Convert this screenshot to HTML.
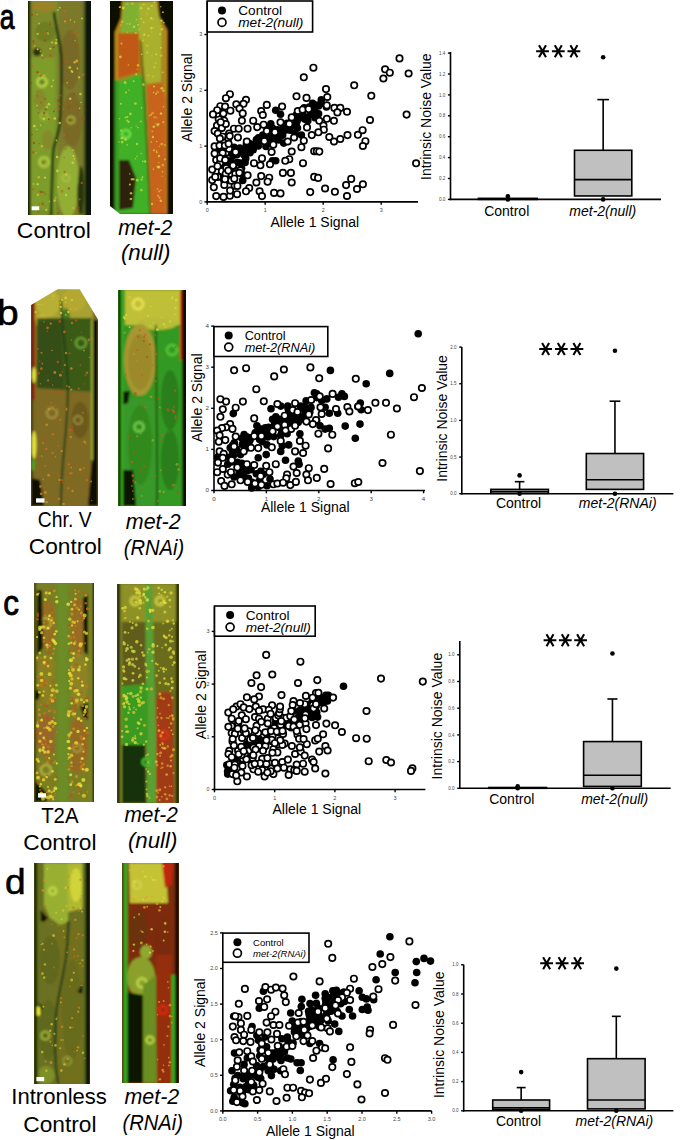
<!DOCTYPE html>
<html><head><meta charset="utf-8"><style>
html,body{margin:0;padding:0;background:#fff;}
body{width:685px;height:1140px;position:relative;overflow:hidden;font-family:"Liberation Sans", sans-serif;}
svg{position:absolute;left:0;top:0;}
svg text{font-family:"Liberation Sans", sans-serif;}
</style></head><body>
<svg width="685" height="1140" viewBox="0 0 685 1140" style="position:absolute;left:0;top:0"><defs><filter id="fs" x="-10%" y="-10%" width="120%" height="120%"><feGaussianBlur stdDeviation="0.45"/></filter><clipPath id="c1"><polygon points="28,1 91,1 91,215 28,215"/></clipPath><filter id="f1" x="-10%" y="-10%" width="120%" height="120%"><feGaussianBlur stdDeviation="1.2"/></filter><clipPath id="c2"><polygon points="110,1 173,1 173,214 120,214 110,206"/></clipPath><filter id="f2" x="-10%" y="-10%" width="120%" height="120%"><feGaussianBlur stdDeviation="1.2"/></filter><clipPath id="c3"><polygon points="31,305 57.6,289.3 79.7,289.3 98,319.5 98,506 31,506"/></clipPath><filter id="f3" x="-10%" y="-10%" width="120%" height="120%"><feGaussianBlur stdDeviation="1.2"/></filter><clipPath id="c4"><polygon points="118,290 186,290 186,506 118,506"/></clipPath><filter id="f4" x="-10%" y="-10%" width="120%" height="120%"><feGaussianBlur stdDeviation="1.2"/></filter><clipPath id="c5"><polygon points="34,583 94,583 94,802 34,802"/></clipPath><filter id="f5" x="-10%" y="-10%" width="120%" height="120%"><feGaussianBlur stdDeviation="1.2"/></filter><clipPath id="c6"><polygon points="117,584 179,584 179,803 117,803"/></clipPath><filter id="f6" x="-10%" y="-10%" width="120%" height="120%"><feGaussianBlur stdDeviation="1.2"/></filter><clipPath id="c7"><polygon points="34,863 90,863 90,1084 34,1084"/></clipPath><filter id="f7" x="-10%" y="-10%" width="120%" height="120%"><feGaussianBlur stdDeviation="1.2"/></filter><clipPath id="c8"><polygon points="122,863 179,863 179,1083 122,1083"/></clipPath><filter id="f8" x="-10%" y="-10%" width="120%" height="120%"><feGaussianBlur stdDeviation="1.2"/></filter></defs><g clip-path="url(#c1)"><g filter="url(#f1)"><rect x="20" y="-5" width="80" height="230" fill="#76902a" opacity="1"/><rect x="31" y="0" width="25" height="60" fill="#7e8a2a" opacity="1"/><ellipse cx="44" cy="6" rx="12" ry="6" fill="#9a8228" opacity="1"/><ellipse cx="45" cy="32" rx="10" ry="10" fill="#6e7e24" opacity="1"/><ellipse cx="37" cy="52" rx="4" ry="4" fill="#2a3410" opacity="1"/><rect x="58" y="0" width="27" height="215" fill="#7c7a2c" opacity="1"/><ellipse cx="70" cy="60" rx="10" ry="30" fill="#786a28" opacity="1"/><ellipse cx="72" cy="120" rx="10" ry="28" fill="#7a6a28" opacity="1"/><rect x="31" y="58" width="24" height="152" fill="#7e9c2a" opacity="1"/><ellipse cx="40" cy="100" rx="6" ry="10" fill="#8a7a28" opacity="0.5"/><ellipse cx="48" cy="140" rx="6" ry="10" fill="#8a7a28" opacity="0.5"/><circle cx="42" cy="82" r="4.5" fill="none" stroke="#b0d040" stroke-width="3" opacity="1"/><ellipse cx="42" cy="82" rx="2.5" ry="2.5" fill="#6c8028" opacity="1"/><circle cx="44" cy="116" r="3.5" fill="none" stroke="#98b838" stroke-width="2" opacity="1"/><circle cx="44" cy="162" r="4.5" fill="none" stroke="#a8c840" stroke-width="3" opacity="1"/><ellipse cx="68" cy="182" rx="11" ry="36" fill="#92ae34" opacity="1"/><circle cx="66" cy="178" r="3.5" fill="none" stroke="#a8c040" stroke-width="2" opacity="1"/><ellipse cx="81" cy="195" rx="4" ry="20" fill="#3a4214" opacity="1"/><rect x="20" y="-5" width="10" height="230" fill="#141a06" opacity="1"/><rect x="29.5" y="-5" width="1.5" height="230" fill="#3a4a10" opacity="1"/><rect x="85" y="-5" width="12" height="230" fill="#10160a" opacity="1"/><rect x="83" y="-5" width="2" height="230" fill="#50641a" opacity="1"/><path d="M54,12 C56,30 61,45 61.2,57 C61.5,75 61.5,105 59.5,125 C58,135 55,142 53.3,150 C52,170 52,195 51,216" fill="none" stroke="#183010" stroke-width="2.6" opacity="1"/><circle cx="71" cy="120" r="3.5" fill="none" stroke="#a0b038" stroke-width="2" opacity="1"/><ellipse cx="81" cy="190" rx="3" ry="24" fill="#2a3410" opacity="1"/></g><g filter="url(#fs)"><circle cx="48.2" cy="34.0" r="0.7" fill="#c8e040" opacity="0.75"/><circle cx="74.5" cy="22.0" r="0.7" fill="#c8e040" opacity="0.75"/><circle cx="57.9" cy="9.9" r="1.0" fill="#d8c030" opacity="0.75"/><circle cx="43.8" cy="118.8" r="1.3" fill="#e0d840" opacity="0.75"/><circle cx="37.6" cy="49.3" r="1.1" fill="#c8e040" opacity="0.75"/><circle cx="34.3" cy="126.1" r="1.4" fill="#e0d840" opacity="0.75"/><circle cx="33.5" cy="184.0" r="1.0" fill="#d8c030" opacity="0.75"/><circle cx="59.7" cy="123.0" r="1.3" fill="#c8e040" opacity="0.75"/><circle cx="40.6" cy="125.3" r="0.8" fill="#c8e040" opacity="0.75"/><circle cx="36.2" cy="153.0" r="0.7" fill="#c8e040" opacity="0.75"/><circle cx="41.9" cy="146.2" r="1.2" fill="#d8c030" opacity="0.75"/><circle cx="55.7" cy="197.8" r="0.9" fill="#d8c030" opacity="0.75"/><circle cx="73.1" cy="150.2" r="0.8" fill="#e0d840" opacity="0.75"/><circle cx="46.9" cy="107.0" r="1.2" fill="#d8c030" opacity="0.75"/><circle cx="46.3" cy="209.8" r="1.1" fill="#e0d840" opacity="0.75"/><circle cx="39.7" cy="74.5" r="1.0" fill="#d8c030" opacity="0.75"/><circle cx="82.0" cy="18.5" r="1.1" fill="#c8e040" opacity="0.75"/><circle cx="77.4" cy="68.5" r="0.9" fill="#c8e040" opacity="0.75"/><circle cx="57.3" cy="170.9" r="1.3" fill="#e0d840" opacity="0.75"/><circle cx="81.1" cy="102.5" r="0.7" fill="#c8e040" opacity="0.75"/><circle cx="69.8" cy="67.6" r="1.4" fill="#c8e040" opacity="0.75"/><circle cx="74.6" cy="62.3" r="1.3" fill="#d8c030" opacity="0.75"/><circle cx="49.4" cy="201.4" r="0.8" fill="#d8c030" opacity="0.75"/><circle cx="37.2" cy="14.5" r="0.8" fill="#d8c030" opacity="0.75"/><circle cx="44.1" cy="84.9" r="0.8" fill="#d8c030" opacity="0.75"/><circle cx="54.8" cy="118.5" r="1.3" fill="#e0d840" opacity="0.75"/><circle cx="76.8" cy="61.0" r="1.4" fill="#d8c030" opacity="0.75"/><circle cx="67.2" cy="82.7" r="0.8" fill="#e0d840" opacity="0.75"/><circle cx="40.3" cy="51.2" r="0.7" fill="#e0d840" opacity="0.75"/><circle cx="75.0" cy="40.7" r="0.7" fill="#d8c030" opacity="0.75"/><circle cx="53.2" cy="80.3" r="0.9" fill="#c8e040" opacity="0.75"/><circle cx="37.7" cy="184.2" r="1.2" fill="#c8e040" opacity="0.75"/><circle cx="70.2" cy="98.8" r="1.3" fill="#c8e040" opacity="0.75"/><circle cx="51.8" cy="86.6" r="1.0" fill="#e0d840" opacity="0.75"/><circle cx="52.2" cy="42.4" r="1.0" fill="#e0d840" opacity="0.75"/><circle cx="36.8" cy="129.4" r="0.7" fill="#e0d840" opacity="0.75"/><circle cx="39.0" cy="23.5" r="1.1" fill="#d8c030" opacity="0.75"/><circle cx="34.7" cy="46.1" r="0.8" fill="#d8c030" opacity="0.75"/><circle cx="44.4" cy="75.6" r="1.0" fill="#d8c030" opacity="0.75"/><circle cx="37.1" cy="105.5" r="1.0" fill="#d8c030" opacity="0.75"/><circle cx="47.5" cy="32.6" r="0.9" fill="#c8e040" opacity="0.75"/><circle cx="45.0" cy="177.7" r="1.1" fill="#e0d840" opacity="0.75"/><circle cx="41.9" cy="203.8" r="0.8" fill="#d8c030" opacity="0.75"/><circle cx="59.8" cy="7.7" r="0.9" fill="#c8e040" opacity="0.75"/><circle cx="65.1" cy="21.3" r="1.1" fill="#d8c030" opacity="0.75"/><circle cx="79.1" cy="77.4" r="1.1" fill="#e0d840" opacity="0.75"/><circle cx="72.3" cy="71.9" r="1.1" fill="#e0d840" opacity="0.75"/><circle cx="72.8" cy="162.8" r="1.3" fill="#e0d840" opacity="0.75"/><circle cx="74.4" cy="158.9" r="0.8" fill="#e0d840" opacity="0.75"/><circle cx="57.1" cy="157.0" r="1.3" fill="#e0d840" opacity="0.75"/><circle cx="56.0" cy="43.1" r="1.4" fill="#c8e040" opacity="0.75"/><circle cx="54.7" cy="200.6" r="1.4" fill="#d8c030" opacity="0.75"/><circle cx="50.3" cy="48.7" r="1.0" fill="#e0d840" opacity="0.75"/><circle cx="48.9" cy="104.3" r="1.3" fill="#c8e040" opacity="0.75"/><circle cx="56.4" cy="140.4" r="0.8" fill="#c8e040" opacity="0.75"/><circle cx="66.0" cy="194.9" r="1.2" fill="#c8e040" opacity="0.75"/><circle cx="56.3" cy="39.8" r="0.9" fill="#c8e040" opacity="0.75"/><circle cx="73.4" cy="208.0" r="1.0" fill="#d8c030" opacity="0.75"/><circle cx="70.4" cy="20.0" r="0.8" fill="#e0d840" opacity="0.75"/><circle cx="37.7" cy="34.0" r="1.3" fill="#d8c030" opacity="0.75"/><circle cx="38.7" cy="177.2" r="1.2" fill="#d8c030" opacity="0.75"/><circle cx="49.6" cy="118.3" r="0.7" fill="#e0d840" opacity="0.75"/><circle cx="73.4" cy="156.0" r="1.1" fill="#e0d840" opacity="0.75"/><circle cx="80.5" cy="94.0" r="1.3" fill="#e0d840" opacity="0.75"/><circle cx="42.2" cy="55.4" r="1.1" fill="#d8c030" opacity="0.75"/><circle cx="71.5" cy="71.1" r="1.0" fill="#c8e040" opacity="0.75"/><circle cx="37.9" cy="194.9" r="1.3" fill="#d8c030" opacity="0.75"/><circle cx="66.1" cy="174.8" r="1.0" fill="#c8e040" opacity="0.75"/><circle cx="79.6" cy="108.3" r="0.8" fill="#c8e040" opacity="0.75"/><circle cx="58.1" cy="187.0" r="1.1" fill="#e0d840" opacity="0.75"/><circle cx="72.1" cy="33.8" r="1.0" fill="#b05a1c" opacity="0.75"/><circle cx="69.4" cy="120.0" r="1.2" fill="#a04818" opacity="0.75"/><circle cx="59.1" cy="104.3" r="1.3" fill="#b05a1c" opacity="0.75"/><circle cx="34.0" cy="42.6" r="1.2" fill="#b05a1c" opacity="0.75"/><circle cx="57.9" cy="121.1" r="1.0" fill="#b05a1c" opacity="0.75"/><circle cx="63.5" cy="109.2" r="0.8" fill="#b86a20" opacity="0.75"/><circle cx="45.7" cy="109.7" r="1.1" fill="#a04818" opacity="0.75"/><circle cx="44.1" cy="112.9" r="1.3" fill="#a04818" opacity="0.75"/><circle cx="78.3" cy="44.9" r="0.8" fill="#a04818" opacity="0.75"/><circle cx="37.4" cy="95.7" r="1.2" fill="#b05a1c" opacity="0.75"/><circle cx="53.7" cy="47.1" r="1.2" fill="#a04818" opacity="0.75"/><circle cx="78.5" cy="34.7" r="1.2" fill="#b86a20" opacity="0.75"/><circle cx="50.4" cy="55.7" r="1.4" fill="#b05a1c" opacity="0.75"/><circle cx="42.6" cy="203.9" r="1.3" fill="#a04818" opacity="0.75"/><circle cx="39.6" cy="143.6" r="0.8" fill="#b05a1c" opacity="0.75"/><circle cx="53.9" cy="111.3" r="1.0" fill="#a04818" opacity="0.75"/><circle cx="49.9" cy="21.5" r="0.7" fill="#a04818" opacity="0.75"/><circle cx="60.4" cy="95.4" r="1.0" fill="#b05a1c" opacity="0.75"/><circle cx="58.4" cy="64.6" r="0.8" fill="#b05a1c" opacity="0.75"/><circle cx="79.7" cy="50.5" r="0.8" fill="#b05a1c" opacity="0.75"/><circle cx="45.4" cy="194.1" r="0.9" fill="#b05a1c" opacity="0.75"/><circle cx="37.9" cy="91.5" r="1.3" fill="#b86a20" opacity="0.75"/><circle cx="44.7" cy="33.7" r="1.1" fill="#b86a20" opacity="0.75"/><circle cx="68.1" cy="21.0" r="1.3" fill="#b05a1c" opacity="0.75"/><circle cx="40.7" cy="191.8" r="1.4" fill="#a04818" opacity="0.75"/><circle cx="64.6" cy="171.9" r="1.1" fill="#b05a1c" opacity="0.75"/><circle cx="42.8" cy="58.1" r="1.0" fill="#b05a1c" opacity="0.75"/><circle cx="49.0" cy="119.2" r="1.1" fill="#a04818" opacity="0.75"/><circle cx="33.3" cy="152.4" r="1.4" fill="#b05a1c" opacity="0.75"/><circle cx="44.9" cy="40.4" r="1.1" fill="#a04818" opacity="0.75"/><circle cx="59.1" cy="45.6" r="1.1" fill="#a04818" opacity="0.75"/><circle cx="40.4" cy="75.6" r="1.4" fill="#b05a1c" opacity="0.75"/><circle cx="33.0" cy="5.9" r="1.1" fill="#b86a20" opacity="0.75"/><circle cx="41.0" cy="102.6" r="0.8" fill="#a04818" opacity="0.75"/><circle cx="74.4" cy="93.6" r="1.1" fill="#a04818" opacity="0.75"/><circle cx="78.1" cy="207.7" r="1.2" fill="#a04818" opacity="0.75"/><circle cx="83.1" cy="74.7" r="1.2" fill="#b86a20" opacity="0.75"/><circle cx="38.4" cy="211.8" r="1.3" fill="#b05a1c" opacity="0.75"/><circle cx="31.8" cy="134.6" r="1.0" fill="#a04818" opacity="0.75"/><circle cx="33.9" cy="143.0" r="1.3" fill="#a04818" opacity="0.75"/><circle cx="66.5" cy="61.8" r="1.2" fill="#b05a1c" opacity="0.75"/><circle cx="33.4" cy="41.3" r="1.0" fill="#a04818" opacity="0.75"/><circle cx="45.0" cy="205.9" r="0.9" fill="#b86a20" opacity="0.75"/><circle cx="32.8" cy="189.1" r="0.9" fill="#b05a1c" opacity="0.75"/><circle cx="31.1" cy="82.9" r="0.9" fill="#a04818" opacity="0.75"/><circle cx="65.8" cy="54.6" r="0.8" fill="#b05a1c" opacity="0.75"/><circle cx="74.3" cy="32.5" r="0.7" fill="#b86a20" opacity="0.75"/><circle cx="32.2" cy="66.5" r="0.8" fill="#b05a1c" opacity="0.75"/><circle cx="81.8" cy="182.9" r="1.2" fill="#b05a1c" opacity="0.75"/><circle cx="68.9" cy="188.4" r="1.2" fill="#a04818" opacity="0.75"/><circle cx="69.2" cy="106.8" r="1.2" fill="#a04818" opacity="0.75"/><circle cx="65.1" cy="11.3" r="1.3" fill="#b86a20" opacity="0.75"/><circle cx="64.2" cy="157.6" r="0.8" fill="#b86a20" opacity="0.75"/><circle cx="58.8" cy="108.9" r="1.3" fill="#b05a1c" opacity="0.75"/><circle cx="62.0" cy="191.3" r="1.4" fill="#b86a20" opacity="0.75"/><circle cx="65.1" cy="20.0" r="0.8" fill="#b05a1c" opacity="0.75"/><circle cx="50.1" cy="24.2" r="1.1" fill="#a04818" opacity="0.75"/><circle cx="64.3" cy="134.8" r="0.9" fill="#b86a20" opacity="0.75"/><circle cx="45.0" cy="98.9" r="1.2" fill="#b05a1c" opacity="0.75"/><circle cx="57.7" cy="115.5" r="1.1" fill="#b86a20" opacity="0.75"/><circle cx="70.5" cy="102.5" r="1.3" fill="#b05a1c" opacity="0.75"/><circle cx="43.4" cy="162.4" r="1.2" fill="#b05a1c" opacity="0.75"/><circle cx="82.7" cy="106.7" r="0.8" fill="#a04818" opacity="0.75"/><circle cx="79.3" cy="62.9" r="1.1" fill="#b05a1c" opacity="0.75"/><circle cx="65.1" cy="18.4" r="0.9" fill="#b05a1c" opacity="0.75"/><circle cx="65.5" cy="148.9" r="1.1" fill="#b86a20" opacity="0.75"/><circle cx="31.7" cy="14.9" r="1.4" fill="#a04818" opacity="0.75"/><circle cx="36.3" cy="48.2" r="0.9" fill="#a04818" opacity="0.75"/><circle cx="58.4" cy="100.5" r="1.2" fill="#a04818" opacity="0.75"/><circle cx="83.6" cy="118.4" r="1.4" fill="#a04818" opacity="0.75"/><circle cx="80.6" cy="5.7" r="0.8" fill="#a04818" opacity="0.75"/><circle cx="57.9" cy="212.9" r="1.0" fill="#a04818" opacity="0.75"/><circle cx="79.6" cy="199.3" r="1.1" fill="#b05a1c" opacity="0.75"/><circle cx="38.5" cy="113.1" r="0.8" fill="#a04818" opacity="0.75"/><circle cx="74.5" cy="109.9" r="1.2" fill="#b05a1c" opacity="0.75"/><circle cx="43.3" cy="192.3" r="1.0" fill="#a04818" opacity="0.75"/><circle cx="39.4" cy="203.4" r="1.0" fill="#b86a20" opacity="0.75"/><circle cx="47.0" cy="31.8" r="1.0" fill="#a04818" opacity="0.75"/><circle cx="37.4" cy="72.2" r="1.2" fill="#a04818" opacity="0.75"/><circle cx="75.5" cy="27.4" r="1.2" fill="#b05a1c" opacity="0.75"/></g><rect x="31.7" y="206.3" width="7.5" height="3.9" fill="#ffffff" opacity="1"/></g>
<g clip-path="url(#c2)"><g filter="url(#f2)"><rect x="100" y="-5" width="80" height="230" fill="#080802" opacity="1"/><polygon points="122,1 158,1 159,16 167,30 168,214 115,214 115,32 121,18" fill="#b88a1e" opacity="1"/><polygon points="124,1 156,1 157,18 164,30 165,214 118,214 118,34 123,20" fill="#a8801c" opacity="1"/><polygon points="124,2 139,2 139,33 120,33 122,22" fill="#80b030" opacity="1"/><polygon points="139,2 156,2 162,30 161,85 146,85 139,38" fill="#a8b02e" opacity="1"/><polygon points="118,33 139,33 139,72 118,78" fill="#c05818" opacity="1"/><polygon points="116,82 140,74 148,85 151,214 115,214" fill="#40b028" opacity="1"/><polygon points="146,84 162,82 166,100 166,214 151,214" fill="#c8641c" opacity="1"/><polygon points="119,160 129,160 136,178 133,208 119,210" fill="#2e240a" opacity="1"/><rect x="114.5" y="80" width="4" height="135" fill="#3a9a22" opacity="1"/><circle cx="126" cy="134" r="4" fill="none" stroke="#70e048" stroke-width="2.5" opacity="1"/><path d="M141,40 C143,80 146,120 150,214" fill="none" stroke="#5a4a10" stroke-width="1.5" opacity="1"/><rect x="100" y="-5" width="11" height="230" fill="#080802" opacity="1"/><rect x="167" y="-5" width="10" height="230" fill="#080802" opacity="1"/></g><g filter="url(#fs)"><circle cx="160.4" cy="26.1" r="0.7" fill="#d8c030" opacity="0.75"/><circle cx="136.3" cy="74.2" r="1.0" fill="#e0d840" opacity="0.75"/><circle cx="138.1" cy="24.8" r="0.9" fill="#e0d840" opacity="0.75"/><circle cx="120.4" cy="56.9" r="1.4" fill="#c8e040" opacity="0.75"/><circle cx="129.7" cy="24.1" r="0.9" fill="#c8e040" opacity="0.75"/><circle cx="154.3" cy="67.2" r="1.3" fill="#d8c030" opacity="0.75"/><circle cx="156.2" cy="54.4" r="1.1" fill="#c8e040" opacity="0.75"/><circle cx="151.8" cy="6.1" r="1.0" fill="#c8e040" opacity="0.75"/><circle cx="146.9" cy="13.5" r="1.0" fill="#d8c030" opacity="0.75"/><circle cx="160.9" cy="47.7" r="1.0" fill="#e0d840" opacity="0.75"/><circle cx="134.2" cy="26.7" r="1.2" fill="#c8e040" opacity="0.75"/><circle cx="148.7" cy="35.7" r="0.9" fill="#e0d840" opacity="0.75"/><circle cx="144.2" cy="34.7" r="1.2" fill="#e0d840" opacity="0.75"/><circle cx="121.5" cy="43.6" r="1.1" fill="#d8c030" opacity="0.75"/><circle cx="139.3" cy="29.6" r="1.0" fill="#d8c030" opacity="0.75"/><circle cx="143.7" cy="22.3" r="0.9" fill="#e0d840" opacity="0.75"/><circle cx="122.3" cy="21.8" r="1.3" fill="#d8c030" opacity="0.75"/><circle cx="127.5" cy="3.7" r="1.0" fill="#d8c030" opacity="0.75"/><circle cx="153.1" cy="19.4" r="0.9" fill="#d8c030" opacity="0.75"/><circle cx="120.9" cy="25.0" r="0.8" fill="#d8c030" opacity="0.75"/><circle cx="141.7" cy="54.3" r="0.8" fill="#e0d840" opacity="0.75"/><circle cx="160.1" cy="33.9" r="1.0" fill="#c8e040" opacity="0.75"/><circle cx="162.8" cy="72.4" r="0.8" fill="#e0d840" opacity="0.75"/><circle cx="138.0" cy="65.4" r="1.4" fill="#d8c030" opacity="0.75"/><circle cx="141.0" cy="8.1" r="1.3" fill="#c8e040" opacity="0.75"/><circle cx="163.7" cy="22.6" r="0.9" fill="#e0d840" opacity="0.75"/><circle cx="125.1" cy="82.7" r="1.4" fill="#e0d840" opacity="0.75"/><circle cx="151.9" cy="55.7" r="0.8" fill="#d8c030" opacity="0.75"/><circle cx="154.5" cy="2.1" r="0.9" fill="#e0d840" opacity="0.75"/><circle cx="161.2" cy="55.6" r="1.4" fill="#d8c030" opacity="0.75"/><circle cx="147.4" cy="45.8" r="1.2" fill="#d8c030" opacity="0.75"/><circle cx="123.3" cy="7.8" r="1.4" fill="#c8e040" opacity="0.75"/><circle cx="127.0" cy="23.7" r="0.7" fill="#c8e040" opacity="0.75"/><circle cx="143.3" cy="84.7" r="1.4" fill="#d8c030" opacity="0.75"/><circle cx="148.3" cy="75.4" r="1.1" fill="#d8c030" opacity="0.75"/><circle cx="143.7" cy="4.4" r="1.2" fill="#d8c030" opacity="0.75"/><circle cx="132.4" cy="3.8" r="1.3" fill="#d8c030" opacity="0.75"/><circle cx="148.4" cy="8.7" r="1.2" fill="#e0d840" opacity="0.75"/><circle cx="161.5" cy="20.8" r="1.2" fill="#e0d840" opacity="0.75"/><circle cx="151.8" cy="32.1" r="0.8" fill="#d8c030" opacity="0.75"/><circle cx="155.5" cy="63.3" r="0.7" fill="#c8e040" opacity="0.75"/><circle cx="141.3" cy="18.6" r="0.9" fill="#e0d840" opacity="0.75"/><circle cx="128.4" cy="65.1" r="0.8" fill="#d8c030" opacity="0.75"/><circle cx="147.3" cy="52.6" r="1.0" fill="#e0d840" opacity="0.75"/><circle cx="160.8" cy="6.7" r="0.8" fill="#c8e040" opacity="0.75"/><circle cx="136.5" cy="19.7" r="0.8" fill="#c8e040" opacity="0.75"/><circle cx="120.4" cy="7.0" r="1.0" fill="#d8c030" opacity="0.75"/><circle cx="151.5" cy="28.1" r="1.4" fill="#e0d840" opacity="0.75"/><circle cx="161.8" cy="29.3" r="1.2" fill="#e0d840" opacity="0.75"/><circle cx="142.7" cy="40.8" r="1.2" fill="#d8c030" opacity="0.75"/><circle cx="135.8" cy="33.0" r="1.0" fill="#d8c030" opacity="0.75"/><circle cx="123.1" cy="8.5" r="0.9" fill="#e0d840" opacity="0.75"/><circle cx="162.9" cy="12.3" r="1.0" fill="#e0d840" opacity="0.75"/><circle cx="154.1" cy="27.6" r="0.8" fill="#d8c030" opacity="0.75"/><circle cx="151.1" cy="18.2" r="1.3" fill="#c8e040" opacity="0.75"/><circle cx="127.1" cy="32.2" r="0.7" fill="#d8c030" opacity="0.75"/><circle cx="137.3" cy="69.4" r="0.7" fill="#d8c030" opacity="0.75"/><circle cx="119.6" cy="7.2" r="0.9" fill="#e0d840" opacity="0.75"/><circle cx="153.1" cy="76.6" r="1.0" fill="#d8c030" opacity="0.75"/><circle cx="133.7" cy="81.2" r="0.9" fill="#e0d840" opacity="0.75"/><circle cx="140.9" cy="121.4" r="0.9" fill="#d8d840" opacity="0.75"/><circle cx="141.1" cy="153.5" r="0.7" fill="#c8e040" opacity="0.75"/><circle cx="125.5" cy="139.6" r="1.4" fill="#d8d840" opacity="0.75"/><circle cx="130.4" cy="113.9" r="1.3" fill="#d8d840" opacity="0.75"/><circle cx="122.2" cy="142.1" r="1.3" fill="#c8e040" opacity="0.75"/><circle cx="141.6" cy="179.6" r="1.1" fill="#c8e040" opacity="0.75"/><circle cx="128.5" cy="121.7" r="1.2" fill="#d8d840" opacity="0.75"/><circle cx="137.1" cy="143.9" r="1.2" fill="#d8d840" opacity="0.75"/><circle cx="125.9" cy="92.4" r="1.0" fill="#c8e040" opacity="0.75"/><circle cx="135.4" cy="103.5" r="1.3" fill="#d8d840" opacity="0.75"/><circle cx="149.6" cy="115.5" r="0.8" fill="#c8e040" opacity="0.75"/><circle cx="131.5" cy="198.7" r="0.8" fill="#d8d840" opacity="0.75"/><circle cx="122.3" cy="138.0" r="1.2" fill="#c8e040" opacity="0.75"/><circle cx="145.1" cy="161.4" r="1.2" fill="#c8e040" opacity="0.75"/><circle cx="127.4" cy="117.1" r="1.0" fill="#d8d840" opacity="0.75"/><circle cx="141.6" cy="107.9" r="0.8" fill="#c8e040" opacity="0.75"/><circle cx="125.5" cy="117.4" r="0.9" fill="#c8e040" opacity="0.75"/><circle cx="130.7" cy="199.1" r="1.2" fill="#c8e040" opacity="0.75"/><circle cx="121.2" cy="138.4" r="0.8" fill="#c8e040" opacity="0.75"/><circle cx="133.2" cy="179.2" r="1.3" fill="#d8d840" opacity="0.75"/><circle cx="119.3" cy="118.8" r="0.7" fill="#c8e040" opacity="0.75"/><circle cx="137.2" cy="180.2" r="1.4" fill="#c8e040" opacity="0.75"/><circle cx="129.9" cy="184.6" r="1.1" fill="#d8d840" opacity="0.75"/><circle cx="142.8" cy="161.4" r="0.8" fill="#c8e040" opacity="0.75"/><circle cx="137.1" cy="156.3" r="0.7" fill="#c8e040" opacity="0.75"/><circle cx="128.9" cy="90.1" r="0.7" fill="#d8d840" opacity="0.75"/><circle cx="141.4" cy="190.1" r="1.3" fill="#c8e040" opacity="0.75"/><circle cx="131.1" cy="127.8" r="0.8" fill="#d8d840" opacity="0.75"/><circle cx="119.0" cy="142.0" r="0.7" fill="#d8d840" opacity="0.75"/><circle cx="121.2" cy="130.5" r="1.1" fill="#c8e040" opacity="0.75"/><circle cx="120.9" cy="103.8" r="1.0" fill="#d8d840" opacity="0.75"/><circle cx="127.1" cy="120.4" r="0.9" fill="#c8e040" opacity="0.75"/><circle cx="136.1" cy="126.1" r="0.7" fill="#d8d840" opacity="0.75"/><circle cx="142.5" cy="177.3" r="1.0" fill="#c8e040" opacity="0.75"/><circle cx="131.0" cy="193.3" r="1.3" fill="#d8d840" opacity="0.75"/><circle cx="131.6" cy="179.3" r="1.1" fill="#d8d840" opacity="0.75"/><circle cx="129.7" cy="173.9" r="0.7" fill="#c8e040" opacity="0.75"/><circle cx="135.6" cy="158.7" r="0.8" fill="#d8d840" opacity="0.75"/><circle cx="137.9" cy="127.6" r="0.8" fill="#c8e040" opacity="0.75"/><circle cx="127.1" cy="144.9" r="0.8" fill="#c8e040" opacity="0.75"/><circle cx="157.4" cy="188.8" r="0.9" fill="#d8c030" opacity="0.75"/><circle cx="162.6" cy="90.6" r="0.9" fill="#e0a030" opacity="0.75"/><circle cx="159.1" cy="167.1" r="1.3" fill="#e0d840" opacity="0.75"/><circle cx="159.3" cy="191.4" r="1.1" fill="#d8c030" opacity="0.75"/><circle cx="162.8" cy="165.1" r="1.3" fill="#d8c030" opacity="0.75"/><circle cx="152.7" cy="113.1" r="1.4" fill="#e0a030" opacity="0.75"/><circle cx="152.3" cy="131.3" r="0.9" fill="#d8c030" opacity="0.75"/><circle cx="160.9" cy="200.8" r="1.3" fill="#e0d840" opacity="0.75"/><circle cx="162.6" cy="171.7" r="0.8" fill="#c8e040" opacity="0.75"/><circle cx="159.0" cy="156.0" r="1.2" fill="#c8e040" opacity="0.75"/><circle cx="154.6" cy="117.2" r="1.2" fill="#e0a030" opacity="0.75"/><circle cx="156.7" cy="141.5" r="0.7" fill="#e0d840" opacity="0.75"/><circle cx="164.8" cy="145.0" r="1.2" fill="#e0a030" opacity="0.75"/><circle cx="161.7" cy="144.1" r="1.3" fill="#d8c030" opacity="0.75"/><circle cx="156.0" cy="93.7" r="1.0" fill="#c8e040" opacity="0.75"/><circle cx="151.4" cy="142.0" r="0.7" fill="#e0d840" opacity="0.75"/><circle cx="152.0" cy="204.0" r="1.2" fill="#c8e040" opacity="0.75"/><circle cx="157.7" cy="92.0" r="1.2" fill="#e0a030" opacity="0.75"/><circle cx="161.8" cy="88.3" r="1.4" fill="#e0d840" opacity="0.75"/><circle cx="161.0" cy="190.1" r="0.8" fill="#d8c030" opacity="0.75"/><circle cx="163.3" cy="122.1" r="1.2" fill="#d8c030" opacity="0.75"/><circle cx="160.8" cy="113.5" r="1.1" fill="#c8e040" opacity="0.75"/><circle cx="153.8" cy="126.8" r="1.3" fill="#c8e040" opacity="0.75"/><circle cx="156.8" cy="117.8" r="0.8" fill="#e0a030" opacity="0.75"/><circle cx="153.9" cy="150.3" r="1.0" fill="#c8e040" opacity="0.75"/><circle cx="153.0" cy="137.0" r="1.2" fill="#c8e040" opacity="0.75"/><circle cx="163.4" cy="106.8" r="0.8" fill="#c8e040" opacity="0.75"/><circle cx="158.0" cy="167.1" r="1.4" fill="#c8e040" opacity="0.75"/><circle cx="156.8" cy="152.3" r="0.9" fill="#e0d840" opacity="0.75"/><circle cx="158.0" cy="195.5" r="0.9" fill="#c8e040" opacity="0.75"/><circle cx="164.9" cy="159.5" r="0.9" fill="#c8e040" opacity="0.75"/><circle cx="151.2" cy="114.7" r="0.9" fill="#e0d840" opacity="0.75"/><circle cx="157.7" cy="125.0" r="1.2" fill="#c8e040" opacity="0.75"/><circle cx="161.2" cy="113.6" r="1.1" fill="#c8e040" opacity="0.75"/><circle cx="156.5" cy="151.1" r="0.8" fill="#e0d840" opacity="0.75"/><circle cx="153.4" cy="169.3" r="0.7" fill="#e0d840" opacity="0.75"/><circle cx="158.5" cy="124.2" r="1.1" fill="#c8e040" opacity="0.75"/><circle cx="156.2" cy="123.8" r="0.8" fill="#d8c030" opacity="0.75"/><circle cx="159.4" cy="146.3" r="0.7" fill="#d8c030" opacity="0.75"/><circle cx="162.0" cy="176.3" r="0.8" fill="#e0a030" opacity="0.75"/><circle cx="159.6" cy="197.4" r="1.0" fill="#c8e040" opacity="0.75"/><circle cx="154.0" cy="86.5" r="1.1" fill="#c8e040" opacity="0.75"/><circle cx="158.7" cy="162.6" r="0.9" fill="#e0a030" opacity="0.75"/><circle cx="163.6" cy="90.7" r="1.0" fill="#e0d840" opacity="0.75"/><circle cx="153.6" cy="92.5" r="0.7" fill="#e0d840" opacity="0.75"/></g></g>
<g clip-path="url(#c3)"><g filter="url(#f3)"><rect x="25" y="285" width="80" height="225" fill="#7a6a22" opacity="1"/><rect x="33" y="285" width="60" height="35" fill="#a8a030" opacity="1"/><ellipse cx="48" cy="303" rx="12" ry="14" fill="#b8b034" opacity="1"/><ellipse cx="74" cy="300" rx="12" ry="12" fill="#b4a830" opacity="1"/><ellipse cx="66" cy="318" rx="4" ry="10" fill="#4a7a20" opacity="1"/><ellipse cx="42" cy="322" rx="6" ry="8" fill="#c8b030" opacity="1"/><polygon points="37,318 92,318 92,392 37,390" fill="#3a5818" opacity="1"/><polygon points="37,322 61,320 63,388 37,388" fill="#344e14" opacity="1"/><polygon points="67,318 91,320 92,395 67,390" fill="#3a5a18" opacity="1"/><circle cx="81" cy="343" r="5" fill="none" stroke="#68a030" stroke-width="2.5" opacity="1"/><polygon points="36,388 93,392 91,506 36,506" fill="#7e6a24" opacity="1"/><circle cx="52" cy="413" r="5" fill="none" stroke="#a09040" stroke-width="2.5" opacity="1"/><ellipse cx="80" cy="420" rx="9" ry="18" fill="#6c5a1e" opacity="1"/><circle cx="78" cy="420" r="4" fill="none" stroke="#9a8a3a" stroke-width="2" opacity="1"/><rect x="31" y="300" width="4" height="100" fill="#a02c0c" opacity="1"/><rect x="31" y="285" width="1.5" height="230" fill="#1a0a02" opacity="1"/><ellipse cx="34" cy="375" rx="2" ry="8" fill="#e0e040" opacity="1"/><ellipse cx="34" cy="445" rx="2.5" ry="14" fill="#e0e040" opacity="1"/><ellipse cx="33" cy="465" rx="1.5" ry="6" fill="#40b020" opacity="1"/><polygon points="31,478 40,480 44,506 31,506" fill="#0c0e04" opacity="1"/><polygon points="93,320 98,320 98,506 88,506 92,460" fill="#080802" opacity="1"/><rect x="91" y="320" width="2" height="140" fill="#98a830" opacity="1"/><path d="M61,300 C62,330 66,350 67,370 C69,395 67,420 65,440 C62,470 61,490 61,506" fill="none" stroke="#24401a" stroke-width="2" opacity="1"/></g><g filter="url(#fs)"><circle cx="66.9" cy="385.9" r="1.0" fill="#d07020" opacity="0.75"/><circle cx="65.0" cy="365.0" r="1.1" fill="#d89028" opacity="0.75"/><circle cx="81.5" cy="332.2" r="0.7" fill="#c05018" opacity="0.75"/><circle cx="71.1" cy="389.6" r="1.2" fill="#d89028" opacity="0.75"/><circle cx="76.1" cy="320.4" r="1.2" fill="#c05018" opacity="0.75"/><circle cx="62.1" cy="371.9" r="0.8" fill="#c05018" opacity="0.75"/><circle cx="91.8" cy="338.3" r="0.7" fill="#d89028" opacity="0.75"/><circle cx="54.8" cy="372.5" r="1.4" fill="#d89028" opacity="0.75"/><circle cx="50.7" cy="323.7" r="1.1" fill="#d89028" opacity="0.75"/><circle cx="60.4" cy="375.2" r="1.4" fill="#d89028" opacity="0.75"/><circle cx="52.6" cy="385.0" r="0.8" fill="#d07020" opacity="0.75"/><circle cx="64.4" cy="331.9" r="1.3" fill="#d07020" opacity="0.75"/><circle cx="47.4" cy="331.1" r="0.8" fill="#c05018" opacity="0.75"/><circle cx="57.8" cy="362.1" r="1.3" fill="#c05018" opacity="0.75"/><circle cx="71.3" cy="368.5" r="1.3" fill="#d89028" opacity="0.75"/><circle cx="66.0" cy="353.0" r="1.2" fill="#d89028" opacity="0.75"/><circle cx="84.0" cy="350.6" r="0.9" fill="#d89028" opacity="0.75"/><circle cx="85.5" cy="375.2" r="1.1" fill="#c05018" opacity="0.75"/><circle cx="40.4" cy="383.8" r="0.7" fill="#d07020" opacity="0.75"/><circle cx="42.3" cy="363.5" r="0.9" fill="#d07020" opacity="0.75"/><circle cx="43.9" cy="322.0" r="0.8" fill="#d07020" opacity="0.75"/><circle cx="72.0" cy="323.0" r="1.2" fill="#d07020" opacity="0.75"/><circle cx="39.7" cy="361.3" r="0.8" fill="#c05018" opacity="0.75"/><circle cx="89.5" cy="357.4" r="0.7" fill="#d89028" opacity="0.75"/><circle cx="84.6" cy="384.0" r="0.8" fill="#c05018" opacity="0.75"/><circle cx="47.5" cy="327.8" r="1.4" fill="#d07020" opacity="0.75"/><circle cx="87.0" cy="372.8" r="1.3" fill="#d07020" opacity="0.75"/><circle cx="71.4" cy="340.1" r="0.8" fill="#d07020" opacity="0.75"/><circle cx="80.4" cy="365.2" r="0.9" fill="#c05018" opacity="0.75"/><circle cx="59.7" cy="321.5" r="1.4" fill="#c05018" opacity="0.75"/><circle cx="38.7" cy="373.2" r="1.2" fill="#c05018" opacity="0.75"/><circle cx="69.7" cy="353.3" r="1.1" fill="#c05018" opacity="0.75"/><circle cx="37.7" cy="348.9" r="1.1" fill="#c05018" opacity="0.75"/><circle cx="41.5" cy="352.8" r="1.1" fill="#d07020" opacity="0.75"/><circle cx="48.1" cy="380.4" r="1.1" fill="#d07020" opacity="0.75"/><circle cx="52.1" cy="350.5" r="0.8" fill="#d89028" opacity="0.75"/><circle cx="78.7" cy="388.5" r="0.9" fill="#d07020" opacity="0.75"/><circle cx="41.4" cy="368.7" r="1.4" fill="#d07020" opacity="0.75"/><circle cx="69.2" cy="387.0" r="0.9" fill="#d89028" opacity="0.75"/><circle cx="88.9" cy="339.9" r="1.4" fill="#d07020" opacity="0.75"/><circle cx="49.0" cy="409.1" r="1.2" fill="#d89028" opacity="0.75"/><circle cx="63.5" cy="504.0" r="1.3" fill="#d89028" opacity="0.75"/><circle cx="71.2" cy="430.9" r="1.3" fill="#c05018" opacity="0.75"/><circle cx="85.9" cy="475.7" r="1.3" fill="#c05018" opacity="0.75"/><circle cx="37.4" cy="413.7" r="1.0" fill="#c05018" opacity="0.75"/><circle cx="66.5" cy="409.7" r="0.9" fill="#d89028" opacity="0.75"/><circle cx="61.8" cy="451.1" r="1.2" fill="#d89028" opacity="0.75"/><circle cx="72.2" cy="430.1" r="1.1" fill="#c05018" opacity="0.75"/><circle cx="84.6" cy="441.8" r="1.2" fill="#d89028" opacity="0.75"/><circle cx="45.5" cy="440.5" r="1.1" fill="#c05018" opacity="0.75"/><circle cx="43.1" cy="443.1" r="0.9" fill="#d89028" opacity="0.75"/><circle cx="46.7" cy="424.7" r="1.3" fill="#d89028" opacity="0.75"/><circle cx="70.6" cy="473.2" r="1.2" fill="#d07020" opacity="0.75"/><circle cx="69.8" cy="430.1" r="0.9" fill="#d07020" opacity="0.75"/><circle cx="46.6" cy="502.1" r="1.4" fill="#d89028" opacity="0.75"/><circle cx="45.2" cy="465.7" r="1.0" fill="#d07020" opacity="0.75"/><circle cx="91.1" cy="481.4" r="0.9" fill="#d89028" opacity="0.75"/><circle cx="51.3" cy="402.6" r="0.9" fill="#d07020" opacity="0.75"/><circle cx="85.6" cy="443.4" r="1.0" fill="#d07020" opacity="0.75"/><circle cx="80.3" cy="469.7" r="1.4" fill="#d89028" opacity="0.75"/><circle cx="52.6" cy="392.5" r="1.1" fill="#c05018" opacity="0.75"/><circle cx="58.7" cy="475.2" r="1.2" fill="#c05018" opacity="0.75"/><circle cx="68.9" cy="464.4" r="1.2" fill="#d07020" opacity="0.75"/><circle cx="72.5" cy="490.9" r="1.2" fill="#d89028" opacity="0.75"/><circle cx="83.7" cy="468.2" r="0.8" fill="#d89028" opacity="0.75"/><circle cx="60.2" cy="419.9" r="0.8" fill="#d89028" opacity="0.75"/><circle cx="59.5" cy="480.0" r="1.2" fill="#d89028" opacity="0.75"/><circle cx="44.8" cy="487.7" r="1.0" fill="#c05018" opacity="0.75"/><circle cx="70.8" cy="437.1" r="1.2" fill="#d89028" opacity="0.75"/><circle cx="84.9" cy="492.9" r="1.2" fill="#c05018" opacity="0.75"/><circle cx="57.8" cy="446.3" r="0.7" fill="#d07020" opacity="0.75"/><circle cx="66.4" cy="408.5" r="1.1" fill="#d07020" opacity="0.75"/><circle cx="41.7" cy="456.1" r="0.8" fill="#d89028" opacity="0.75"/><circle cx="62.6" cy="391.9" r="1.1" fill="#c05018" opacity="0.75"/><circle cx="59.0" cy="499.0" r="1.4" fill="#d07020" opacity="0.75"/><circle cx="46.3" cy="449.1" r="1.2" fill="#d07020" opacity="0.75"/><circle cx="70.4" cy="463.3" r="0.9" fill="#c05018" opacity="0.75"/><circle cx="58.4" cy="391.5" r="1.3" fill="#c05018" opacity="0.75"/><circle cx="71.2" cy="467.6" r="0.9" fill="#d89028" opacity="0.75"/><circle cx="48.6" cy="475.3" r="1.4" fill="#d89028" opacity="0.75"/><circle cx="91.7" cy="500.5" r="0.8" fill="#c05018" opacity="0.75"/><circle cx="43.2" cy="479.3" r="0.8" fill="#d89028" opacity="0.75"/><circle cx="72.0" cy="472.9" r="0.9" fill="#d07020" opacity="0.75"/><circle cx="71.8" cy="484.2" r="1.0" fill="#c05018" opacity="0.75"/><circle cx="52.5" cy="453.1" r="1.2" fill="#d07020" opacity="0.75"/><circle cx="62.3" cy="480.1" r="0.9" fill="#d07020" opacity="0.75"/><circle cx="57.1" cy="419.2" r="1.2" fill="#c05018" opacity="0.75"/><circle cx="63.0" cy="482.6" r="1.0" fill="#c05018" opacity="0.75"/><circle cx="72.6" cy="426.8" r="1.0" fill="#c05018" opacity="0.75"/><circle cx="71.7" cy="465.8" r="0.8" fill="#c05018" opacity="0.75"/><circle cx="53.0" cy="434.3" r="1.3" fill="#d07020" opacity="0.75"/><circle cx="86.7" cy="480.2" r="1.1" fill="#d07020" opacity="0.75"/><circle cx="55.3" cy="457.0" r="0.7" fill="#d89028" opacity="0.75"/><circle cx="89.3" cy="465.4" r="1.1" fill="#c05018" opacity="0.75"/><circle cx="68.4" cy="488.2" r="1.2" fill="#d07020" opacity="0.75"/><circle cx="55.4" cy="407.6" r="1.3" fill="#c05018" opacity="0.75"/><circle cx="45.4" cy="492.5" r="1.4" fill="#d89028" opacity="0.75"/><circle cx="41.1" cy="493.7" r="1.3" fill="#d89028" opacity="0.75"/><circle cx="83.0" cy="412.7" r="0.8" fill="#d89028" opacity="0.75"/><circle cx="40.4" cy="486.5" r="1.3" fill="#d89028" opacity="0.75"/><circle cx="65.7" cy="297.9" r="1.3" fill="#e0d840" opacity="0.75"/><circle cx="60.9" cy="306.7" r="1.0" fill="#d8c030" opacity="0.75"/><circle cx="41.5" cy="304.7" r="0.8" fill="#d8c030" opacity="0.75"/><circle cx="68.4" cy="312.0" r="1.3" fill="#e0d840" opacity="0.75"/><circle cx="60.6" cy="306.9" r="0.9" fill="#c8e040" opacity="0.75"/><circle cx="60.5" cy="302.8" r="0.8" fill="#c8e040" opacity="0.75"/><circle cx="70.6" cy="309.1" r="0.7" fill="#e0d840" opacity="0.75"/><circle cx="35.7" cy="312.1" r="1.3" fill="#d8c030" opacity="0.75"/><circle cx="38.5" cy="304.5" r="0.7" fill="#e0d840" opacity="0.75"/><circle cx="75.4" cy="308.8" r="0.8" fill="#d8c030" opacity="0.75"/><circle cx="71.9" cy="300.2" r="1.1" fill="#c8e040" opacity="0.75"/><circle cx="86.8" cy="298.5" r="1.0" fill="#d8c030" opacity="0.75"/><circle cx="65.7" cy="314.8" r="0.9" fill="#d8c030" opacity="0.75"/><circle cx="62.1" cy="300.0" r="1.3" fill="#d8c030" opacity="0.75"/><circle cx="53.3" cy="296.1" r="1.3" fill="#d8c030" opacity="0.75"/><circle cx="52.5" cy="299.5" r="0.8" fill="#d8c030" opacity="0.75"/><circle cx="90.4" cy="292.6" r="1.0" fill="#e0d840" opacity="0.75"/><circle cx="65.7" cy="302.2" r="0.7" fill="#c8e040" opacity="0.75"/><circle cx="50.7" cy="290.2" r="1.3" fill="#e0d840" opacity="0.75"/><circle cx="61.0" cy="313.0" r="1.3" fill="#e0d840" opacity="0.75"/></g><rect x="36" y="498.3" width="8.5" height="4.3" fill="#ffffff" opacity="1"/></g>
<g clip-path="url(#c4)"><g filter="url(#f4)"><rect x="110" y="285" width="80" height="225" fill="#369622" opacity="1"/><polygon points="125,290 180,290 180,325 125,325" fill="#c0c038" opacity="1"/><ellipse cx="157" cy="324" rx="20" ry="6" fill="#b8bc38" opacity="1"/><circle cx="138" cy="304" r="5" fill="none" stroke="#e8e050" stroke-width="3" opacity="1"/><ellipse cx="140" cy="360" rx="16" ry="36" fill="#a89632" opacity="1"/><ellipse cx="140" cy="362" rx="12" ry="28" fill="#9c8a2c" opacity="1"/><polygon points="158,330 180,330 180,506 158,506" fill="#329a22" opacity="1"/><ellipse cx="170" cy="400" rx="9" ry="30" fill="#2a7e1a" opacity="1"/><ellipse cx="170" cy="460" rx="9" ry="30" fill="#2a7e1a" opacity="1"/><circle cx="172" cy="350" r="5" fill="none" stroke="#56c036" stroke-width="3" opacity="1"/><polygon points="124,400 156,400 156,506 124,506" fill="#38982a" opacity="1"/><ellipse cx="140" cy="445" rx="12" ry="40" fill="#308a1e" opacity="1"/><circle cx="139" cy="427" r="4.5" fill="none" stroke="#68c848" stroke-width="3" opacity="1"/><polygon points="121,392 130,391 128,403 121,405" fill="#101606" opacity="1"/><polygon points="121,470 133,470 136,506 121,506" fill="#0c1204" opacity="1"/><rect x="118" y="285" width="3" height="225" fill="#080802" opacity="1"/><rect x="121" y="285" width="2" height="225" fill="#3ab020" opacity="1"/><rect x="180" y="290" width="2" height="70" fill="#c02010" opacity="1"/><rect x="182" y="285" width="6" height="225" fill="#080802" opacity="1"/><path d="M156,325 C156,380 157,420 157,460 L157,506" fill="none" stroke="#1a4a10" stroke-width="1.6" opacity="1"/></g><g filter="url(#fs)"><circle cx="175.0" cy="314.5" r="0.8" fill="#c8e040" opacity="0.75"/><circle cx="161.7" cy="317.6" r="0.8" fill="#c8e040" opacity="0.75"/><circle cx="126.2" cy="315.3" r="1.2" fill="#c8e040" opacity="0.75"/><circle cx="129.7" cy="297.3" r="1.0" fill="#e0d840" opacity="0.75"/><circle cx="129.6" cy="327.2" r="1.0" fill="#e0d840" opacity="0.75"/><circle cx="170.1" cy="321.5" r="1.2" fill="#c8e040" opacity="0.75"/><circle cx="172.3" cy="297.4" r="0.9" fill="#e0d840" opacity="0.75"/><circle cx="148.1" cy="315.7" r="1.0" fill="#e0d840" opacity="0.75"/><circle cx="153.2" cy="323.0" r="1.1" fill="#d8c030" opacity="0.75"/><circle cx="175.4" cy="307.9" r="1.2" fill="#e0d840" opacity="0.75"/><circle cx="157.3" cy="329.7" r="1.4" fill="#c8e040" opacity="0.75"/><circle cx="150.6" cy="306.5" r="0.8" fill="#e0d840" opacity="0.75"/><circle cx="150.4" cy="325.8" r="0.7" fill="#c8e040" opacity="0.75"/><circle cx="124.3" cy="317.4" r="1.4" fill="#e0d840" opacity="0.75"/><circle cx="172.1" cy="298.7" r="0.8" fill="#e0d840" opacity="0.75"/><circle cx="125.0" cy="318.8" r="1.0" fill="#e0d840" opacity="0.75"/><circle cx="165.7" cy="326.9" r="1.2" fill="#d8c030" opacity="0.75"/><circle cx="164.0" cy="324.2" r="1.2" fill="#c8e040" opacity="0.75"/><circle cx="140.4" cy="312.3" r="1.0" fill="#d8c030" opacity="0.75"/><circle cx="176.2" cy="300.2" r="1.2" fill="#e0d840" opacity="0.75"/><circle cx="124.6" cy="332.6" r="1.2" fill="#a0a030" opacity="0.75"/><circle cx="158.6" cy="398.1" r="1.2" fill="#b85018" opacity="0.75"/><circle cx="133.3" cy="480.7" r="1.1" fill="#b85018" opacity="0.75"/><circle cx="141.7" cy="496.0" r="1.0" fill="#a0a030" opacity="0.75"/><circle cx="161.9" cy="355.4" r="1.0" fill="#c06020" opacity="0.75"/><circle cx="160.1" cy="440.2" r="1.0" fill="#b85018" opacity="0.75"/><circle cx="167.6" cy="409.2" r="1.2" fill="#b85018" opacity="0.75"/><circle cx="155.7" cy="381.2" r="1.1" fill="#c06020" opacity="0.75"/><circle cx="160.5" cy="470.3" r="0.9" fill="#a0a030" opacity="0.75"/><circle cx="157.9" cy="501.1" r="1.1" fill="#c06020" opacity="0.75"/><circle cx="141.3" cy="405.0" r="1.0" fill="#c06020" opacity="0.75"/><circle cx="162.4" cy="435.3" r="1.3" fill="#c06020" opacity="0.75"/><circle cx="139.9" cy="330.3" r="0.9" fill="#b85018" opacity="0.75"/><circle cx="132.8" cy="491.1" r="0.9" fill="#c06020" opacity="0.75"/><circle cx="131.9" cy="485.9" r="0.8" fill="#a0a030" opacity="0.75"/><circle cx="178.6" cy="469.5" r="1.2" fill="#a0a030" opacity="0.75"/><circle cx="175.2" cy="390.7" r="1.1" fill="#c06020" opacity="0.75"/><circle cx="151.1" cy="396.8" r="1.4" fill="#a0a030" opacity="0.75"/><circle cx="137.1" cy="436.2" r="1.0" fill="#a0a030" opacity="0.75"/><circle cx="163.7" cy="492.0" r="1.2" fill="#a0a030" opacity="0.75"/><circle cx="168.3" cy="410.5" r="1.1" fill="#c06020" opacity="0.75"/><circle cx="143.9" cy="341.0" r="1.1" fill="#b85018" opacity="0.75"/><circle cx="174.2" cy="484.9" r="0.9" fill="#a0a030" opacity="0.75"/><circle cx="152.3" cy="365.3" r="0.8" fill="#c06020" opacity="0.75"/><circle cx="134.1" cy="452.7" r="1.1" fill="#b85018" opacity="0.75"/><circle cx="144.1" cy="466.4" r="0.9" fill="#c06020" opacity="0.75"/><circle cx="175.7" cy="416.3" r="1.0" fill="#c06020" opacity="0.75"/><circle cx="150.0" cy="344.3" r="1.1" fill="#b85018" opacity="0.75"/><circle cx="143.3" cy="420.9" r="0.8" fill="#c06020" opacity="0.75"/><circle cx="135.5" cy="482.4" r="1.0" fill="#a0a030" opacity="0.75"/><circle cx="155.8" cy="375.8" r="1.0" fill="#b85018" opacity="0.75"/><circle cx="177.0" cy="464.3" r="1.4" fill="#a0a030" opacity="0.75"/><circle cx="138.2" cy="336.6" r="1.4" fill="#c06020" opacity="0.75"/><circle cx="145.2" cy="334.8" r="1.1" fill="#c06020" opacity="0.75"/><circle cx="172.8" cy="410.2" r="1.3" fill="#c06020" opacity="0.75"/><circle cx="159.8" cy="491.4" r="1.4" fill="#a0a030" opacity="0.75"/><circle cx="138.4" cy="428.8" r="0.8" fill="#a0a030" opacity="0.75"/><circle cx="175.6" cy="418.6" r="1.0" fill="#c06020" opacity="0.75"/><circle cx="132.9" cy="499.0" r="0.9" fill="#a0a030" opacity="0.75"/><circle cx="126.2" cy="374.8" r="0.7" fill="#b85018" opacity="0.75"/><circle cx="155.0" cy="334.9" r="0.9" fill="#c06020" opacity="0.75"/><circle cx="152.7" cy="459.4" r="0.7" fill="#b85018" opacity="0.75"/><circle cx="132.1" cy="462.1" r="1.2" fill="#c06020" opacity="0.75"/><circle cx="140.7" cy="433.5" r="0.8" fill="#a0a030" opacity="0.75"/><circle cx="142.1" cy="375.0" r="1.0" fill="#c06020" opacity="0.75"/><circle cx="145.3" cy="407.2" r="1.3" fill="#c06020" opacity="0.75"/><circle cx="174.0" cy="411.9" r="1.3" fill="#c06020" opacity="0.75"/><circle cx="132.8" cy="475.7" r="1.4" fill="#c06020" opacity="0.75"/><circle cx="172.5" cy="485.5" r="1.2" fill="#c06020" opacity="0.75"/><circle cx="177.6" cy="492.0" r="1.3" fill="#b85018" opacity="0.75"/><circle cx="159.2" cy="409.2" r="0.9" fill="#b85018" opacity="0.75"/><circle cx="137.1" cy="350.2" r="0.8" fill="#b85018" opacity="0.75"/><circle cx="136.4" cy="339.9" r="1.0" fill="#a0a030" opacity="0.75"/><circle cx="173.8" cy="406.8" r="0.9" fill="#c06020" opacity="0.75"/><circle cx="147.1" cy="357.2" r="1.1" fill="#b85018" opacity="0.75"/><circle cx="140.6" cy="470.7" r="1.0" fill="#b85018" opacity="0.75"/><circle cx="141.8" cy="488.1" r="0.8" fill="#c06020" opacity="0.75"/><circle cx="152.8" cy="440.4" r="1.3" fill="#a0a030" opacity="0.75"/><circle cx="155.4" cy="476.2" r="0.9" fill="#c06020" opacity="0.75"/><circle cx="135.3" cy="393.7" r="1.4" fill="#b85018" opacity="0.75"/><circle cx="175.8" cy="347.1" r="1.0" fill="#b85018" opacity="0.75"/><circle cx="133.1" cy="475.7" r="0.8" fill="#b85018" opacity="0.75"/><circle cx="159.8" cy="407.4" r="0.9" fill="#a0a030" opacity="0.75"/><circle cx="131.8" cy="330.3" r="0.9" fill="#a0a030" opacity="0.75"/><circle cx="144.2" cy="337.1" r="0.9" fill="#b85018" opacity="0.75"/><circle cx="156.0" cy="354.2" r="1.1" fill="#c06020" opacity="0.75"/><circle cx="136.9" cy="360.7" r="0.8" fill="#a0a030" opacity="0.75"/><circle cx="128.9" cy="436.5" r="1.2" fill="#b85018" opacity="0.75"/><circle cx="133.8" cy="354.0" r="1.2" fill="#a0a030" opacity="0.75"/><circle cx="169.4" cy="432.0" r="0.7" fill="#c06020" opacity="0.75"/></g></g>
<g clip-path="url(#c5)"><g filter="url(#f5)"><rect x="30" y="580" width="70" height="226" fill="#7a7e24" opacity="1"/><ellipse cx="48" cy="625" rx="10" ry="25" fill="#946e22" opacity="1"/><ellipse cx="78" cy="625" rx="10" ry="28" fill="#946e22" opacity="1"/><circle cx="46" cy="623" r="5" fill="none" stroke="#a8b040" stroke-width="2.5" opacity="1"/><ellipse cx="48" cy="680" rx="10" ry="25" fill="#8a8024" opacity="1"/><ellipse cx="78" cy="680" rx="10" ry="28" fill="#8e8226" opacity="1"/><ellipse cx="47" cy="735" rx="11" ry="22" fill="#94682a" opacity="1"/><ellipse cx="78" cy="745" rx="10" ry="28" fill="#946a24" opacity="1"/><circle cx="46" cy="770" r="5" fill="none" stroke="#b0b040" stroke-width="2.5" opacity="1"/><circle cx="77" cy="748" r="4" fill="none" stroke="#a0a040" stroke-width="2" opacity="1"/><rect x="55" y="583" width="16" height="220" fill="#6e8426" opacity="1"/><rect x="58" y="583" width="10" height="220" fill="#6c8c28" opacity="1"/><polygon points="37,590 42,590 43,648 37,655" fill="#101404" opacity="1"/><polygon points="83,598 88,595 88,655 84,652" fill="#101404" opacity="1"/><polygon points="80,706 88,703 88,720 84,718" fill="#101404" opacity="1"/><polygon points="36,690 41,692 38,700 36,700" fill="#101404" opacity="1"/><polygon points="36,782 46,792 47,802 36,802" fill="#101404" opacity="1"/><rect x="34" y="580" width="2" height="226" fill="#1a2008" opacity="1"/><rect x="91" y="580" width="1.5" height="226" fill="#8a9a30" opacity="1"/><rect x="92.5" y="580" width="3" height="226" fill="#080802" opacity="1"/></g><g filter="url(#fs)"><circle cx="50.8" cy="699.1" r="1.5" fill="#d89028" opacity="0.75"/><circle cx="47.4" cy="663.0" r="1.5" fill="#c05018" opacity="0.75"/><circle cx="54.3" cy="693.5" r="1.1" fill="#d07020" opacity="0.75"/><circle cx="52.3" cy="618.0" r="1.0" fill="#d89028" opacity="0.75"/><circle cx="40.7" cy="764.6" r="0.8" fill="#c05018" opacity="0.75"/><circle cx="51.0" cy="710.7" r="1.1" fill="#d07020" opacity="0.75"/><circle cx="55.6" cy="793.4" r="0.9" fill="#d07020" opacity="0.75"/><circle cx="51.3" cy="761.5" r="1.4" fill="#c05018" opacity="0.75"/><circle cx="54.4" cy="711.0" r="1.0" fill="#d07020" opacity="0.75"/><circle cx="39.2" cy="743.5" r="1.2" fill="#c05018" opacity="0.75"/><circle cx="47.6" cy="702.8" r="1.0" fill="#d07020" opacity="0.75"/><circle cx="38.8" cy="720.0" r="0.9" fill="#d07020" opacity="0.75"/><circle cx="42.0" cy="761.6" r="0.8" fill="#d07020" opacity="0.75"/><circle cx="55.5" cy="745.1" r="0.8" fill="#c05018" opacity="0.75"/><circle cx="49.0" cy="711.1" r="1.0" fill="#d89028" opacity="0.75"/><circle cx="45.9" cy="663.6" r="1.4" fill="#d07020" opacity="0.75"/><circle cx="37.9" cy="615.8" r="1.3" fill="#c05018" opacity="0.75"/><circle cx="52.2" cy="613.1" r="1.1" fill="#d07020" opacity="0.75"/><circle cx="39.7" cy="714.3" r="0.9" fill="#d07020" opacity="0.75"/><circle cx="48.5" cy="746.8" r="1.6" fill="#d07020" opacity="0.75"/><circle cx="37.4" cy="723.3" r="1.1" fill="#d89028" opacity="0.75"/><circle cx="53.8" cy="700.4" r="1.6" fill="#c05018" opacity="0.75"/><circle cx="38.0" cy="666.3" r="1.0" fill="#c05018" opacity="0.75"/><circle cx="43.7" cy="681.5" r="1.4" fill="#d89028" opacity="0.75"/><circle cx="55.3" cy="761.2" r="0.8" fill="#d89028" opacity="0.75"/><circle cx="47.3" cy="791.2" r="1.0" fill="#c05018" opacity="0.75"/><circle cx="45.4" cy="722.9" r="0.9" fill="#c05018" opacity="0.75"/><circle cx="40.7" cy="658.1" r="1.2" fill="#d07020" opacity="0.75"/><circle cx="37.4" cy="619.3" r="1.4" fill="#c05018" opacity="0.75"/><circle cx="55.7" cy="723.0" r="0.8" fill="#d07020" opacity="0.75"/><circle cx="49.8" cy="645.8" r="1.3" fill="#d89028" opacity="0.75"/><circle cx="49.6" cy="759.3" r="1.3" fill="#d07020" opacity="0.75"/><circle cx="42.0" cy="699.3" r="1.0" fill="#c05018" opacity="0.75"/><circle cx="37.8" cy="613.7" r="1.3" fill="#c05018" opacity="0.75"/><circle cx="39.4" cy="714.8" r="1.5" fill="#d89028" opacity="0.75"/><circle cx="38.7" cy="714.0" r="1.2" fill="#d07020" opacity="0.75"/><circle cx="47.2" cy="775.9" r="1.3" fill="#c05018" opacity="0.75"/><circle cx="42.5" cy="744.5" r="1.2" fill="#d89028" opacity="0.75"/><circle cx="53.8" cy="718.1" r="1.0" fill="#d89028" opacity="0.75"/><circle cx="44.7" cy="705.2" r="1.2" fill="#c05018" opacity="0.75"/><circle cx="48.0" cy="718.7" r="1.5" fill="#c05018" opacity="0.75"/><circle cx="37.6" cy="660.1" r="1.2" fill="#d07020" opacity="0.75"/><circle cx="44.7" cy="713.0" r="1.5" fill="#d07020" opacity="0.75"/><circle cx="40.2" cy="789.9" r="1.2" fill="#c05018" opacity="0.75"/><circle cx="46.8" cy="649.8" r="1.0" fill="#d07020" opacity="0.75"/><circle cx="52.4" cy="623.3" r="1.3" fill="#d07020" opacity="0.75"/><circle cx="44.0" cy="728.1" r="1.1" fill="#d89028" opacity="0.75"/><circle cx="45.8" cy="744.4" r="1.2" fill="#d07020" opacity="0.75"/><circle cx="56.8" cy="732.3" r="1.1" fill="#d07020" opacity="0.75"/><circle cx="50.4" cy="619.5" r="1.3" fill="#d07020" opacity="0.75"/><circle cx="54.0" cy="762.5" r="0.9" fill="#d89028" opacity="0.75"/><circle cx="54.1" cy="783.6" r="1.0" fill="#c05018" opacity="0.75"/><circle cx="49.6" cy="722.7" r="0.9" fill="#d89028" opacity="0.75"/><circle cx="54.4" cy="590.9" r="1.3" fill="#d89028" opacity="0.75"/><circle cx="47.0" cy="792.2" r="0.9" fill="#d89028" opacity="0.75"/><circle cx="54.0" cy="648.7" r="1.3" fill="#d89028" opacity="0.75"/><circle cx="44.6" cy="685.0" r="1.0" fill="#c05018" opacity="0.75"/><circle cx="44.1" cy="664.1" r="1.2" fill="#d89028" opacity="0.75"/><circle cx="44.7" cy="657.6" r="1.5" fill="#d89028" opacity="0.75"/><circle cx="47.0" cy="683.2" r="1.2" fill="#d07020" opacity="0.75"/><circle cx="53.1" cy="681.5" r="1.3" fill="#c05018" opacity="0.75"/><circle cx="38.8" cy="783.2" r="1.6" fill="#c05018" opacity="0.75"/><circle cx="49.2" cy="641.0" r="1.0" fill="#c05018" opacity="0.75"/><circle cx="45.5" cy="781.2" r="0.8" fill="#d07020" opacity="0.75"/><circle cx="42.1" cy="778.1" r="1.5" fill="#c05018" opacity="0.75"/><circle cx="52.5" cy="703.1" r="1.2" fill="#c05018" opacity="0.75"/><circle cx="47.3" cy="733.9" r="1.2" fill="#c05018" opacity="0.75"/><circle cx="37.8" cy="732.0" r="1.6" fill="#c05018" opacity="0.75"/><circle cx="50.5" cy="700.3" r="1.1" fill="#d07020" opacity="0.75"/><circle cx="47.0" cy="726.2" r="0.9" fill="#d89028" opacity="0.75"/><circle cx="40.8" cy="678.5" r="1.2" fill="#c05018" opacity="0.75"/><circle cx="49.5" cy="799.2" r="1.4" fill="#c05018" opacity="0.75"/><circle cx="51.9" cy="609.4" r="1.1" fill="#c05018" opacity="0.75"/><circle cx="56.6" cy="763.5" r="0.9" fill="#d89028" opacity="0.75"/><circle cx="50.1" cy="651.9" r="1.5" fill="#c05018" opacity="0.75"/><circle cx="56.8" cy="776.5" r="1.3" fill="#c05018" opacity="0.75"/><circle cx="47.5" cy="761.4" r="1.2" fill="#d07020" opacity="0.75"/><circle cx="40.8" cy="628.3" r="1.3" fill="#d89028" opacity="0.75"/><circle cx="39.1" cy="709.7" r="1.3" fill="#d89028" opacity="0.75"/><circle cx="37.8" cy="676.4" r="1.0" fill="#d07020" opacity="0.75"/><circle cx="50.8" cy="590.8" r="1.1" fill="#c05018" opacity="0.75"/><circle cx="39.0" cy="593.2" r="1.0" fill="#d07020" opacity="0.75"/><circle cx="47.0" cy="706.2" r="1.5" fill="#c05018" opacity="0.75"/><circle cx="54.9" cy="698.0" r="1.3" fill="#d07020" opacity="0.75"/><circle cx="45.2" cy="615.5" r="1.2" fill="#d07020" opacity="0.75"/><circle cx="47.2" cy="596.1" r="0.9" fill="#d07020" opacity="0.75"/><circle cx="47.4" cy="762.9" r="1.1" fill="#d89028" opacity="0.75"/><circle cx="53.0" cy="726.5" r="1.4" fill="#d89028" opacity="0.75"/><circle cx="43.5" cy="740.2" r="1.0" fill="#c05018" opacity="0.75"/><circle cx="37.7" cy="722.0" r="0.9" fill="#d89028" opacity="0.75"/><circle cx="40.8" cy="721.0" r="0.8" fill="#d07020" opacity="0.75"/><circle cx="54.8" cy="712.4" r="1.2" fill="#d07020" opacity="0.75"/><circle cx="49.4" cy="642.4" r="0.9" fill="#d07020" opacity="0.75"/><circle cx="48.7" cy="626.4" r="1.5" fill="#d07020" opacity="0.75"/><circle cx="53.3" cy="653.8" r="1.0" fill="#d89028" opacity="0.75"/><circle cx="54.7" cy="795.7" r="1.0" fill="#d07020" opacity="0.75"/><circle cx="44.8" cy="740.9" r="1.1" fill="#d07020" opacity="0.75"/><circle cx="45.0" cy="739.5" r="1.4" fill="#d07020" opacity="0.75"/><circle cx="41.9" cy="626.4" r="1.1" fill="#c05018" opacity="0.75"/><circle cx="37.2" cy="775.3" r="1.2" fill="#c05018" opacity="0.75"/><circle cx="39.3" cy="702.1" r="1.1" fill="#c05018" opacity="0.75"/><circle cx="50.0" cy="791.9" r="1.5" fill="#c05018" opacity="0.75"/><circle cx="44.0" cy="641.4" r="1.2" fill="#d07020" opacity="0.75"/><circle cx="43.9" cy="681.5" r="1.3" fill="#c05018" opacity="0.75"/><circle cx="43.8" cy="622.7" r="0.9" fill="#d89028" opacity="0.75"/><circle cx="40.9" cy="704.4" r="1.2" fill="#d07020" opacity="0.75"/><circle cx="46.3" cy="756.9" r="0.9" fill="#d07020" opacity="0.75"/><circle cx="44.1" cy="741.7" r="1.3" fill="#c05018" opacity="0.75"/><circle cx="48.6" cy="652.4" r="1.2" fill="#c05018" opacity="0.75"/><circle cx="41.5" cy="685.1" r="1.6" fill="#d07020" opacity="0.75"/><circle cx="88.0" cy="715.2" r="1.3" fill="#c05018" opacity="0.75"/><circle cx="75.4" cy="641.7" r="1.2" fill="#d89028" opacity="0.75"/><circle cx="70.5" cy="747.6" r="1.2" fill="#d89028" opacity="0.75"/><circle cx="78.9" cy="646.8" r="0.8" fill="#c05018" opacity="0.75"/><circle cx="82.4" cy="620.5" r="1.1" fill="#d07020" opacity="0.75"/><circle cx="69.7" cy="627.2" r="1.1" fill="#d07020" opacity="0.75"/><circle cx="81.3" cy="612.9" r="1.5" fill="#d89028" opacity="0.75"/><circle cx="84.1" cy="749.3" r="0.9" fill="#d07020" opacity="0.75"/><circle cx="74.2" cy="637.5" r="1.5" fill="#d07020" opacity="0.75"/><circle cx="76.0" cy="664.7" r="1.4" fill="#c05018" opacity="0.75"/><circle cx="85.7" cy="770.9" r="1.5" fill="#d07020" opacity="0.75"/><circle cx="71.5" cy="667.0" r="1.4" fill="#d89028" opacity="0.75"/><circle cx="85.9" cy="595.3" r="1.4" fill="#d89028" opacity="0.75"/><circle cx="73.0" cy="767.8" r="1.5" fill="#c05018" opacity="0.75"/><circle cx="70.0" cy="651.2" r="1.5" fill="#c05018" opacity="0.75"/><circle cx="82.7" cy="739.6" r="1.1" fill="#d07020" opacity="0.75"/><circle cx="80.2" cy="680.4" r="0.9" fill="#c05018" opacity="0.75"/><circle cx="82.8" cy="706.0" r="1.3" fill="#d89028" opacity="0.75"/><circle cx="71.6" cy="766.3" r="1.2" fill="#d89028" opacity="0.75"/><circle cx="78.4" cy="784.4" r="1.3" fill="#d89028" opacity="0.75"/><circle cx="75.0" cy="590.2" r="1.0" fill="#d89028" opacity="0.75"/><circle cx="68.9" cy="769.4" r="1.4" fill="#d89028" opacity="0.75"/><circle cx="87.5" cy="733.0" r="1.4" fill="#d07020" opacity="0.75"/><circle cx="72.2" cy="782.0" r="1.5" fill="#d89028" opacity="0.75"/><circle cx="76.3" cy="746.2" r="1.3" fill="#d89028" opacity="0.75"/><circle cx="72.4" cy="700.7" r="1.6" fill="#c05018" opacity="0.75"/><circle cx="76.5" cy="785.3" r="1.2" fill="#d89028" opacity="0.75"/><circle cx="81.8" cy="766.2" r="1.2" fill="#d89028" opacity="0.75"/><circle cx="69.1" cy="736.6" r="1.3" fill="#c05018" opacity="0.75"/><circle cx="84.9" cy="753.4" r="1.4" fill="#c05018" opacity="0.75"/><circle cx="68.9" cy="737.6" r="1.0" fill="#d89028" opacity="0.75"/><circle cx="78.9" cy="793.6" r="1.0" fill="#d89028" opacity="0.75"/><circle cx="73.2" cy="792.4" r="1.1" fill="#d07020" opacity="0.75"/><circle cx="76.2" cy="632.3" r="0.9" fill="#c05018" opacity="0.75"/><circle cx="81.7" cy="692.2" r="1.0" fill="#c05018" opacity="0.75"/><circle cx="72.8" cy="698.2" r="0.9" fill="#c05018" opacity="0.75"/><circle cx="80.8" cy="736.6" r="1.5" fill="#d07020" opacity="0.75"/><circle cx="70.8" cy="708.3" r="1.3" fill="#c05018" opacity="0.75"/><circle cx="70.4" cy="679.2" r="1.3" fill="#d07020" opacity="0.75"/><circle cx="71.1" cy="795.7" r="1.5" fill="#c05018" opacity="0.75"/><circle cx="70.3" cy="650.8" r="1.2" fill="#c05018" opacity="0.75"/><circle cx="68.9" cy="778.1" r="1.0" fill="#c05018" opacity="0.75"/><circle cx="82.0" cy="684.1" r="0.9" fill="#d07020" opacity="0.75"/><circle cx="76.9" cy="709.5" r="0.9" fill="#c05018" opacity="0.75"/><circle cx="69.4" cy="592.3" r="0.9" fill="#c05018" opacity="0.75"/><circle cx="82.3" cy="795.8" r="1.0" fill="#d89028" opacity="0.75"/><circle cx="80.9" cy="790.9" r="1.0" fill="#c05018" opacity="0.75"/><circle cx="78.9" cy="591.7" r="1.3" fill="#d07020" opacity="0.75"/><circle cx="80.6" cy="786.4" r="1.4" fill="#d89028" opacity="0.75"/><circle cx="81.1" cy="606.4" r="0.8" fill="#d89028" opacity="0.75"/><circle cx="83.5" cy="766.3" r="1.1" fill="#c05018" opacity="0.75"/><circle cx="87.2" cy="700.3" r="0.9" fill="#d89028" opacity="0.75"/><circle cx="83.7" cy="764.4" r="1.3" fill="#d89028" opacity="0.75"/><circle cx="75.6" cy="725.9" r="1.1" fill="#c05018" opacity="0.75"/><circle cx="75.4" cy="705.7" r="1.5" fill="#c05018" opacity="0.75"/><circle cx="73.1" cy="602.1" r="1.3" fill="#d07020" opacity="0.75"/><circle cx="80.6" cy="762.1" r="1.1" fill="#d89028" opacity="0.75"/><circle cx="69.0" cy="635.5" r="1.2" fill="#c05018" opacity="0.75"/><circle cx="71.1" cy="652.9" r="1.3" fill="#d89028" opacity="0.75"/><circle cx="70.8" cy="637.8" r="1.2" fill="#d07020" opacity="0.75"/><circle cx="87.4" cy="608.8" r="1.5" fill="#d07020" opacity="0.75"/><circle cx="77.6" cy="635.8" r="0.8" fill="#c05018" opacity="0.75"/><circle cx="84.8" cy="769.6" r="1.1" fill="#d89028" opacity="0.75"/><circle cx="73.7" cy="728.9" r="1.4" fill="#d89028" opacity="0.75"/><circle cx="85.8" cy="603.2" r="1.3" fill="#d07020" opacity="0.75"/><circle cx="84.5" cy="779.8" r="1.1" fill="#d07020" opacity="0.75"/><circle cx="68.1" cy="758.9" r="1.1" fill="#d89028" opacity="0.75"/><circle cx="71.9" cy="607.9" r="1.2" fill="#c05018" opacity="0.75"/><circle cx="76.6" cy="702.3" r="1.5" fill="#d89028" opacity="0.75"/><circle cx="87.5" cy="792.0" r="0.9" fill="#d89028" opacity="0.75"/><circle cx="84.2" cy="741.8" r="1.3" fill="#c05018" opacity="0.75"/><circle cx="73.9" cy="709.9" r="1.2" fill="#c05018" opacity="0.75"/><circle cx="80.9" cy="652.9" r="1.2" fill="#c05018" opacity="0.75"/><circle cx="80.7" cy="768.1" r="1.3" fill="#d07020" opacity="0.75"/><circle cx="76.9" cy="607.9" r="1.3" fill="#d89028" opacity="0.75"/><circle cx="79.1" cy="788.1" r="1.2" fill="#c05018" opacity="0.75"/><circle cx="79.3" cy="673.2" r="1.0" fill="#d07020" opacity="0.75"/><circle cx="87.4" cy="632.6" r="0.9" fill="#d89028" opacity="0.75"/><circle cx="85.2" cy="643.2" r="1.0" fill="#d07020" opacity="0.75"/><circle cx="81.4" cy="738.9" r="1.2" fill="#d07020" opacity="0.75"/><circle cx="72.5" cy="710.3" r="1.4" fill="#d07020" opacity="0.75"/><circle cx="86.2" cy="709.0" r="1.3" fill="#c05018" opacity="0.75"/><circle cx="84.0" cy="618.2" r="1.2" fill="#d89028" opacity="0.75"/><circle cx="82.3" cy="748.9" r="1.3" fill="#d07020" opacity="0.75"/><circle cx="87.2" cy="698.2" r="1.5" fill="#c05018" opacity="0.75"/><circle cx="75.8" cy="626.0" r="1.3" fill="#d07020" opacity="0.75"/><circle cx="83.5" cy="618.7" r="0.8" fill="#d89028" opacity="0.75"/><circle cx="72.7" cy="668.2" r="1.4" fill="#d07020" opacity="0.75"/><circle cx="87.1" cy="686.5" r="1.4" fill="#d07020" opacity="0.75"/><circle cx="76.5" cy="776.6" r="1.6" fill="#d89028" opacity="0.75"/><circle cx="72.0" cy="614.1" r="1.5" fill="#d89028" opacity="0.75"/><circle cx="71.4" cy="746.5" r="1.4" fill="#c05018" opacity="0.75"/><circle cx="82.7" cy="592.4" r="0.9" fill="#c05018" opacity="0.75"/><circle cx="75.5" cy="744.8" r="1.4" fill="#c05018" opacity="0.75"/><circle cx="68.9" cy="716.8" r="1.1" fill="#d07020" opacity="0.75"/><circle cx="74.5" cy="716.6" r="1.5" fill="#d07020" opacity="0.75"/><circle cx="81.5" cy="643.5" r="1.4" fill="#d07020" opacity="0.75"/><circle cx="68.4" cy="797.6" r="0.9" fill="#c05018" opacity="0.75"/><circle cx="68.4" cy="613.2" r="0.9" fill="#c05018" opacity="0.75"/><circle cx="79.1" cy="650.9" r="1.3" fill="#d89028" opacity="0.75"/><circle cx="84.7" cy="713.5" r="1.2" fill="#c05018" opacity="0.75"/><circle cx="81.8" cy="759.7" r="0.8" fill="#c05018" opacity="0.75"/><circle cx="74.8" cy="621.7" r="1.2" fill="#d89028" opacity="0.75"/><circle cx="68.6" cy="765.8" r="0.9" fill="#d07020" opacity="0.75"/><circle cx="84.4" cy="732.7" r="1.5" fill="#c05018" opacity="0.75"/><circle cx="87.4" cy="735.5" r="1.1" fill="#c05018" opacity="0.75"/><circle cx="85.5" cy="718.3" r="1.1" fill="#d07020" opacity="0.75"/><circle cx="78.6" cy="655.4" r="1.3" fill="#d07020" opacity="0.75"/><circle cx="68.9" cy="625.6" r="1.4" fill="#c05018" opacity="0.75"/><circle cx="74.6" cy="688.4" r="1.1" fill="#c05018" opacity="0.75"/><circle cx="43.7" cy="691.5" r="1.0" fill="#f0e030" opacity="0.75"/><circle cx="46.2" cy="797.1" r="1.6" fill="#f0e030" opacity="0.75"/><circle cx="51.5" cy="620.2" r="1.3" fill="#e8d030" opacity="0.75"/><circle cx="47.0" cy="645.0" r="1.6" fill="#f0f040" opacity="0.75"/><circle cx="48.7" cy="619.2" r="1.0" fill="#f0f040" opacity="0.75"/><circle cx="48.2" cy="751.9" r="1.8" fill="#f0e030" opacity="0.75"/><circle cx="49.7" cy="723.3" r="1.8" fill="#e8d030" opacity="0.75"/><circle cx="52.9" cy="640.0" r="1.7" fill="#f0e030" opacity="0.75"/><circle cx="43.1" cy="750.3" r="1.4" fill="#f0f040" opacity="0.75"/><circle cx="54.1" cy="641.5" r="1.7" fill="#f0f040" opacity="0.75"/><circle cx="43.7" cy="737.9" r="1.3" fill="#f0f040" opacity="0.75"/><circle cx="56.8" cy="691.1" r="1.9" fill="#e8d030" opacity="0.75"/><circle cx="53.2" cy="799.3" r="1.1" fill="#f0e030" opacity="0.75"/><circle cx="37.1" cy="772.9" r="1.4" fill="#e8d030" opacity="0.75"/><circle cx="44.9" cy="752.2" r="1.6" fill="#f0e030" opacity="0.75"/><circle cx="39.9" cy="741.2" r="1.7" fill="#e8d030" opacity="0.75"/><circle cx="48.0" cy="786.9" r="1.1" fill="#e8d030" opacity="0.75"/><circle cx="40.8" cy="784.2" r="1.2" fill="#f0f040" opacity="0.75"/><circle cx="48.6" cy="797.4" r="2.0" fill="#e8d030" opacity="0.75"/><circle cx="50.8" cy="741.5" r="1.8" fill="#f0e030" opacity="0.75"/><circle cx="43.4" cy="626.8" r="1.5" fill="#e8d030" opacity="0.75"/><circle cx="52.2" cy="721.6" r="1.7" fill="#f0e030" opacity="0.75"/><circle cx="41.4" cy="673.9" r="1.9" fill="#f0e030" opacity="0.75"/><circle cx="42.7" cy="695.4" r="1.2" fill="#f0e030" opacity="0.75"/><circle cx="51.7" cy="792.3" r="1.0" fill="#f0f040" opacity="0.75"/><circle cx="38.5" cy="761.4" r="1.3" fill="#f0f040" opacity="0.75"/><circle cx="39.7" cy="629.5" r="1.6" fill="#f0f040" opacity="0.75"/><circle cx="37.3" cy="657.8" r="1.2" fill="#f0e030" opacity="0.75"/><circle cx="43.5" cy="747.4" r="1.5" fill="#f0f040" opacity="0.75"/><circle cx="49.2" cy="758.1" r="1.1" fill="#f0e030" opacity="0.75"/><circle cx="45.3" cy="599.5" r="1.6" fill="#f0f040" opacity="0.75"/><circle cx="52.5" cy="797.4" r="1.3" fill="#e8d030" opacity="0.75"/><circle cx="46.3" cy="592.9" r="1.6" fill="#e8d030" opacity="0.75"/><circle cx="56.8" cy="601.8" r="1.7" fill="#f0f040" opacity="0.75"/><circle cx="53.7" cy="622.9" r="1.2" fill="#f0e030" opacity="0.75"/><circle cx="39.9" cy="751.1" r="1.4" fill="#f0e030" opacity="0.75"/><circle cx="44.2" cy="662.3" r="1.6" fill="#f0f040" opacity="0.75"/><circle cx="48.1" cy="728.0" r="1.6" fill="#f0f040" opacity="0.75"/><circle cx="41.6" cy="719.9" r="1.5" fill="#f0f040" opacity="0.75"/><circle cx="37.6" cy="725.9" r="1.8" fill="#f0f040" opacity="0.75"/><circle cx="56.5" cy="685.2" r="1.4" fill="#e8d030" opacity="0.75"/><circle cx="47.6" cy="647.5" r="1.0" fill="#e8d030" opacity="0.75"/><circle cx="46.5" cy="727.6" r="1.2" fill="#e8d030" opacity="0.75"/><circle cx="49.6" cy="674.2" r="1.9" fill="#f0e030" opacity="0.75"/><circle cx="49.5" cy="615.7" r="1.5" fill="#f0f040" opacity="0.75"/><circle cx="48.1" cy="628.2" r="1.4" fill="#f0f040" opacity="0.75"/><circle cx="40.0" cy="627.3" r="1.9" fill="#f0f040" opacity="0.75"/><circle cx="52.6" cy="701.0" r="1.8" fill="#e8d030" opacity="0.75"/><circle cx="41.9" cy="796.3" r="1.2" fill="#e8d030" opacity="0.75"/><circle cx="55.2" cy="779.2" r="1.5" fill="#e8d030" opacity="0.75"/><circle cx="43.5" cy="779.7" r="1.7" fill="#f0e030" opacity="0.75"/><circle cx="37.3" cy="759.4" r="1.7" fill="#e8d030" opacity="0.75"/><circle cx="44.0" cy="637.9" r="1.4" fill="#e8d030" opacity="0.75"/><circle cx="55.4" cy="788.4" r="1.9" fill="#f0f040" opacity="0.75"/><circle cx="37.6" cy="594.4" r="1.4" fill="#f0f040" opacity="0.75"/><circle cx="41.6" cy="632.7" r="1.6" fill="#e8d030" opacity="0.75"/><circle cx="43.0" cy="798.8" r="2.0" fill="#f0e030" opacity="0.75"/><circle cx="52.8" cy="690.2" r="2.0" fill="#e8d030" opacity="0.75"/><circle cx="39.7" cy="653.0" r="1.3" fill="#f0e030" opacity="0.75"/><circle cx="46.7" cy="777.1" r="1.3" fill="#f0e030" opacity="0.75"/><circle cx="49.2" cy="790.9" r="1.6" fill="#f0e030" opacity="0.75"/><circle cx="54.7" cy="634.1" r="1.4" fill="#f0f040" opacity="0.75"/><circle cx="52.6" cy="771.3" r="1.4" fill="#f0e030" opacity="0.75"/><circle cx="39.8" cy="786.6" r="1.0" fill="#f0f040" opacity="0.75"/><circle cx="39.2" cy="794.6" r="1.1" fill="#f0e030" opacity="0.75"/><circle cx="43.1" cy="695.6" r="1.1" fill="#e8d030" opacity="0.75"/><circle cx="40.4" cy="733.4" r="1.4" fill="#f0e030" opacity="0.75"/><circle cx="49.8" cy="729.7" r="1.9" fill="#e8d030" opacity="0.75"/><circle cx="56.6" cy="596.9" r="1.2" fill="#f0e030" opacity="0.75"/><circle cx="49.5" cy="593.2" r="1.5" fill="#f0e030" opacity="0.75"/><circle cx="41.6" cy="680.4" r="1.7" fill="#f0e030" opacity="0.75"/><circle cx="38.0" cy="777.7" r="1.9" fill="#f0e030" opacity="0.75"/><circle cx="39.4" cy="692.3" r="1.5" fill="#f0e030" opacity="0.75"/><circle cx="37.1" cy="637.0" r="1.1" fill="#f0f040" opacity="0.75"/><circle cx="51.8" cy="695.2" r="1.5" fill="#f0e030" opacity="0.75"/><circle cx="53.8" cy="791.0" r="1.3" fill="#f0e030" opacity="0.75"/><circle cx="41.3" cy="793.2" r="1.7" fill="#f0e030" opacity="0.75"/><circle cx="42.5" cy="627.2" r="1.3" fill="#e8d030" opacity="0.75"/><circle cx="56.3" cy="631.3" r="1.4" fill="#f0e030" opacity="0.75"/><circle cx="48.1" cy="666.1" r="1.3" fill="#f0e030" opacity="0.75"/><circle cx="37.8" cy="685.3" r="1.5" fill="#e8d030" opacity="0.75"/><circle cx="50.8" cy="796.3" r="1.7" fill="#f0f040" opacity="0.75"/><circle cx="45.0" cy="656.8" r="1.4" fill="#e8d030" opacity="0.75"/><circle cx="40.0" cy="749.8" r="1.8" fill="#e8d030" opacity="0.75"/><circle cx="55.0" cy="723.3" r="1.6" fill="#f0e030" opacity="0.75"/><circle cx="55.5" cy="643.5" r="1.7" fill="#f0f040" opacity="0.75"/><circle cx="56.8" cy="763.4" r="1.1" fill="#f0f040" opacity="0.75"/><circle cx="53.9" cy="754.6" r="1.0" fill="#f0f040" opacity="0.75"/><circle cx="50.9" cy="658.1" r="1.4" fill="#f0f040" opacity="0.75"/><circle cx="50.4" cy="685.7" r="1.0" fill="#f0f040" opacity="0.75"/><circle cx="82.9" cy="769.2" r="1.3" fill="#f0f040" opacity="0.75"/><circle cx="78.9" cy="669.8" r="1.8" fill="#f0f040" opacity="0.75"/><circle cx="85.4" cy="664.6" r="1.4" fill="#f0e030" opacity="0.75"/><circle cx="78.5" cy="718.7" r="1.8" fill="#f0f040" opacity="0.75"/><circle cx="69.4" cy="757.4" r="1.2" fill="#f0f040" opacity="0.75"/><circle cx="80.3" cy="645.6" r="1.9" fill="#e8d030" opacity="0.75"/><circle cx="75.0" cy="713.8" r="1.2" fill="#f0f040" opacity="0.75"/><circle cx="70.8" cy="784.7" r="1.4" fill="#f0f040" opacity="0.75"/><circle cx="72.1" cy="625.5" r="1.2" fill="#e8d030" opacity="0.75"/><circle cx="71.4" cy="762.6" r="1.2" fill="#e8d030" opacity="0.75"/><circle cx="86.9" cy="769.7" r="1.9" fill="#f0f040" opacity="0.75"/><circle cx="68.9" cy="670.1" r="1.1" fill="#e8d030" opacity="0.75"/><circle cx="71.1" cy="642.8" r="1.4" fill="#f0e030" opacity="0.75"/><circle cx="81.3" cy="699.7" r="1.5" fill="#e8d030" opacity="0.75"/><circle cx="69.8" cy="673.1" r="1.7" fill="#e8d030" opacity="0.75"/><circle cx="77.0" cy="690.5" r="1.8" fill="#f0e030" opacity="0.75"/><circle cx="71.0" cy="732.8" r="1.5" fill="#e8d030" opacity="0.75"/><circle cx="81.2" cy="720.8" r="1.3" fill="#f0f040" opacity="0.75"/><circle cx="75.6" cy="593.7" r="1.0" fill="#f0e030" opacity="0.75"/><circle cx="73.2" cy="714.0" r="1.7" fill="#e8d030" opacity="0.75"/><circle cx="73.5" cy="658.0" r="1.3" fill="#f0e030" opacity="0.75"/><circle cx="76.8" cy="700.3" r="1.9" fill="#e8d030" opacity="0.75"/><circle cx="72.0" cy="678.9" r="1.6" fill="#e8d030" opacity="0.75"/><circle cx="75.4" cy="599.2" r="1.4" fill="#e8d030" opacity="0.75"/><circle cx="68.8" cy="748.2" r="1.4" fill="#e8d030" opacity="0.75"/><circle cx="80.1" cy="643.9" r="1.4" fill="#f0e030" opacity="0.75"/><circle cx="79.6" cy="784.2" r="2.0" fill="#f0e030" opacity="0.75"/><circle cx="85.0" cy="711.8" r="1.7" fill="#f0e030" opacity="0.75"/><circle cx="74.6" cy="604.9" r="1.4" fill="#e8d030" opacity="0.75"/><circle cx="78.5" cy="694.3" r="1.8" fill="#f0f040" opacity="0.75"/><circle cx="68.5" cy="714.5" r="1.9" fill="#e8d030" opacity="0.75"/><circle cx="82.0" cy="681.6" r="1.2" fill="#e8d030" opacity="0.75"/><circle cx="69.3" cy="673.5" r="1.5" fill="#f0e030" opacity="0.75"/><circle cx="84.5" cy="730.8" r="1.2" fill="#f0f040" opacity="0.75"/><circle cx="78.8" cy="784.4" r="1.6" fill="#e8d030" opacity="0.75"/><circle cx="83.4" cy="751.7" r="1.1" fill="#f0e030" opacity="0.75"/><circle cx="85.0" cy="709.9" r="1.1" fill="#f0e030" opacity="0.75"/><circle cx="69.8" cy="748.2" r="1.5" fill="#f0f040" opacity="0.75"/><circle cx="84.5" cy="632.0" r="1.5" fill="#e8d030" opacity="0.75"/><circle cx="69.1" cy="735.1" r="1.8" fill="#e8d030" opacity="0.75"/><circle cx="70.8" cy="675.5" r="1.9" fill="#f0e030" opacity="0.75"/><circle cx="70.9" cy="660.2" r="2.0" fill="#f0f040" opacity="0.75"/><circle cx="71.7" cy="703.2" r="1.3" fill="#f0f040" opacity="0.75"/><circle cx="74.3" cy="643.6" r="1.6" fill="#e8d030" opacity="0.75"/><circle cx="78.2" cy="678.2" r="1.3" fill="#f0e030" opacity="0.75"/><circle cx="73.0" cy="669.8" r="1.9" fill="#e8d030" opacity="0.75"/><circle cx="73.1" cy="632.4" r="1.2" fill="#f0e030" opacity="0.75"/><circle cx="81.0" cy="785.8" r="1.5" fill="#f0f040" opacity="0.75"/><circle cx="79.7" cy="666.8" r="1.2" fill="#e8d030" opacity="0.75"/><circle cx="86.4" cy="706.8" r="1.7" fill="#f0e030" opacity="0.75"/><circle cx="68.2" cy="604.2" r="1.8" fill="#f0f040" opacity="0.75"/><circle cx="68.7" cy="636.1" r="1.3" fill="#e8d030" opacity="0.75"/><circle cx="82.2" cy="758.5" r="1.6" fill="#f0f040" opacity="0.75"/><circle cx="76.1" cy="742.8" r="1.9" fill="#f0e030" opacity="0.75"/><circle cx="69.2" cy="681.1" r="1.1" fill="#f0f040" opacity="0.75"/><circle cx="70.7" cy="774.8" r="1.5" fill="#f0f040" opacity="0.75"/><circle cx="68.3" cy="741.5" r="1.8" fill="#f0f040" opacity="0.75"/><circle cx="78.0" cy="731.5" r="1.7" fill="#f0f040" opacity="0.75"/><circle cx="84.0" cy="702.2" r="1.1" fill="#f0e030" opacity="0.75"/><circle cx="86.4" cy="633.5" r="1.5" fill="#f0e030" opacity="0.75"/><circle cx="72.0" cy="609.2" r="1.4" fill="#f0e030" opacity="0.75"/><circle cx="81.2" cy="644.1" r="1.7" fill="#e8d030" opacity="0.75"/><circle cx="71.1" cy="601.9" r="1.1" fill="#f0f040" opacity="0.75"/><circle cx="71.2" cy="683.7" r="1.9" fill="#f0e030" opacity="0.75"/><circle cx="83.9" cy="738.5" r="1.2" fill="#f0f040" opacity="0.75"/><circle cx="86.2" cy="658.1" r="1.2" fill="#f0e030" opacity="0.75"/><circle cx="84.0" cy="795.8" r="2.0" fill="#e8d030" opacity="0.75"/><circle cx="74.6" cy="622.8" r="1.2" fill="#e8d030" opacity="0.75"/><circle cx="78.9" cy="609.7" r="1.1" fill="#e8d030" opacity="0.75"/><circle cx="71.7" cy="660.0" r="1.1" fill="#e8d030" opacity="0.75"/><circle cx="84.6" cy="615.6" r="2.0" fill="#f0e030" opacity="0.75"/><circle cx="86.8" cy="700.5" r="1.5" fill="#e8d030" opacity="0.75"/><circle cx="68.4" cy="754.1" r="1.2" fill="#f0e030" opacity="0.75"/><circle cx="73.6" cy="653.6" r="1.5" fill="#f0f040" opacity="0.75"/><circle cx="69.8" cy="619.3" r="1.8" fill="#e8d030" opacity="0.75"/><circle cx="83.3" cy="779.9" r="1.9" fill="#f0f040" opacity="0.75"/><circle cx="68.6" cy="715.7" r="1.3" fill="#f0e030" opacity="0.75"/><circle cx="86.9" cy="727.9" r="1.2" fill="#f0e030" opacity="0.75"/><circle cx="75.0" cy="691.0" r="1.7" fill="#e8d030" opacity="0.75"/><circle cx="71.6" cy="755.4" r="1.8" fill="#e8d030" opacity="0.75"/><circle cx="82.5" cy="685.5" r="1.6" fill="#f0f040" opacity="0.75"/><circle cx="83.8" cy="715.1" r="1.0" fill="#e8d030" opacity="0.75"/><circle cx="68.8" cy="711.6" r="1.6" fill="#e8d030" opacity="0.75"/><circle cx="70.6" cy="711.4" r="1.1" fill="#e8d030" opacity="0.75"/><circle cx="82.6" cy="744.2" r="1.2" fill="#e8d030" opacity="0.75"/><circle cx="86.8" cy="659.6" r="1.9" fill="#f0f040" opacity="0.75"/><circle cx="77.6" cy="621.3" r="1.1" fill="#f0e030" opacity="0.75"/><circle cx="72.8" cy="622.1" r="1.5" fill="#e8d030" opacity="0.75"/><circle cx="70.4" cy="688.2" r="1.6" fill="#f0e030" opacity="0.75"/><circle cx="68.8" cy="643.8" r="1.3" fill="#f0e030" opacity="0.75"/></g><rect x="38" y="793.2" width="8" height="4.4" fill="#ffffff" opacity="1"/></g>
<g clip-path="url(#c6)"><g filter="url(#f6)"><rect x="110" y="580" width="75" height="228" fill="#686a20" opacity="1"/><polygon points="121,584 176,584 176,622 121,622" fill="#8e9228" opacity="1"/><circle cx="135" cy="601" r="4" fill="none" stroke="#c8c840" stroke-width="3" opacity="1"/><circle cx="160" cy="601" r="4" fill="none" stroke="#c8c840" stroke-width="3" opacity="1"/><rect x="121" y="622" width="26" height="66" fill="#5e5c1c" opacity="1"/><rect x="155" y="622" width="21" height="72" fill="#6a6c1e" opacity="1"/><polygon points="145,584 152,584 158,803 147,803" fill="#58a030" opacity="1"/><polygon points="121,686 148,684 148,745 121,745" fill="#3a9a22" opacity="1"/><polygon points="121,745 145,745 146,803 121,803" fill="#163008" opacity="1"/><circle cx="146" cy="762" r="3.5" fill="none" stroke="#40c030" stroke-width="2.5" opacity="1"/><polygon points="156,700 160,692 170,692 173,700 174,803 156,803" fill="#a03a12" opacity="1"/><circle cx="164" cy="735" r="4" fill="none" stroke="#e03018" stroke-width="2.5" opacity="1"/><rect x="117" y="580" width="3" height="228" fill="#0a0c02" opacity="1"/><rect x="120" y="580" width="2" height="228" fill="#7a8a28" opacity="1"/><rect x="176" y="580" width="3" height="228" fill="#0a0c02" opacity="1"/></g><g filter="url(#fs)"><circle cx="151.4" cy="688.8" r="1.6" fill="#d8c030" opacity="0.75"/><circle cx="150.3" cy="610.9" r="0.9" fill="#e0d840" opacity="0.75"/><circle cx="172.0" cy="636.8" r="1.1" fill="#f0e030" opacity="0.75"/><circle cx="161.4" cy="595.1" r="1.0" fill="#d8c030" opacity="0.75"/><circle cx="136.0" cy="589.2" r="1.5" fill="#e8e050" opacity="0.75"/><circle cx="127.8" cy="645.3" r="1.0" fill="#e0d840" opacity="0.75"/><circle cx="152.7" cy="610.3" r="1.6" fill="#f0e030" opacity="0.75"/><circle cx="149.2" cy="671.2" r="1.0" fill="#d8c030" opacity="0.75"/><circle cx="139.9" cy="596.2" r="1.5" fill="#d8c030" opacity="0.75"/><circle cx="158.7" cy="670.7" r="1.0" fill="#c8e040" opacity="0.75"/><circle cx="162.2" cy="647.6" r="0.9" fill="#d8c030" opacity="0.75"/><circle cx="171.8" cy="628.8" r="0.9" fill="#e8e050" opacity="0.75"/><circle cx="163.8" cy="601.4" r="1.5" fill="#f0e030" opacity="0.75"/><circle cx="130.0" cy="621.8" r="1.1" fill="#d8c030" opacity="0.75"/><circle cx="171.0" cy="657.3" r="1.8" fill="#e0d840" opacity="0.75"/><circle cx="164.0" cy="635.9" r="1.4" fill="#e8e050" opacity="0.75"/><circle cx="139.5" cy="593.2" r="1.5" fill="#f0e030" opacity="0.75"/><circle cx="132.5" cy="651.0" r="1.6" fill="#c8e040" opacity="0.75"/><circle cx="126.9" cy="660.6" r="1.4" fill="#c8e040" opacity="0.75"/><circle cx="164.6" cy="637.2" r="1.0" fill="#e8e050" opacity="0.75"/><circle cx="165.9" cy="683.5" r="1.6" fill="#e0d840" opacity="0.75"/><circle cx="166.1" cy="669.4" r="1.0" fill="#f0e030" opacity="0.75"/><circle cx="142.4" cy="652.5" r="1.2" fill="#f0e030" opacity="0.75"/><circle cx="172.9" cy="641.3" r="1.0" fill="#e0d840" opacity="0.75"/><circle cx="163.5" cy="669.4" r="1.1" fill="#d8c030" opacity="0.75"/><circle cx="153.1" cy="644.4" r="1.4" fill="#e8e050" opacity="0.75"/><circle cx="171.5" cy="678.5" r="1.3" fill="#e0d840" opacity="0.75"/><circle cx="163.5" cy="668.5" r="1.6" fill="#c8e040" opacity="0.75"/><circle cx="143.5" cy="595.1" r="1.5" fill="#c8e040" opacity="0.75"/><circle cx="169.9" cy="630.4" r="0.9" fill="#c8e040" opacity="0.75"/><circle cx="147.9" cy="587.7" r="1.7" fill="#e0d840" opacity="0.75"/><circle cx="147.2" cy="628.7" r="1.3" fill="#c8e040" opacity="0.75"/><circle cx="139.8" cy="608.2" r="1.3" fill="#c8e040" opacity="0.75"/><circle cx="146.7" cy="589.4" r="1.0" fill="#c8e040" opacity="0.75"/><circle cx="136.4" cy="658.9" r="1.3" fill="#e8e050" opacity="0.75"/><circle cx="150.5" cy="611.1" r="1.5" fill="#d8c030" opacity="0.75"/><circle cx="124.2" cy="671.6" r="1.3" fill="#d8c030" opacity="0.75"/><circle cx="139.6" cy="601.7" r="1.1" fill="#d8c030" opacity="0.75"/><circle cx="169.2" cy="649.5" r="1.2" fill="#e8e050" opacity="0.75"/><circle cx="138.9" cy="677.1" r="1.1" fill="#f0e030" opacity="0.75"/><circle cx="166.0" cy="602.9" r="0.9" fill="#f0e030" opacity="0.75"/><circle cx="167.2" cy="596.8" r="1.3" fill="#d8c030" opacity="0.75"/><circle cx="164.9" cy="612.1" r="1.5" fill="#c8e040" opacity="0.75"/><circle cx="174.2" cy="662.4" r="1.5" fill="#f0e030" opacity="0.75"/><circle cx="129.2" cy="664.3" r="1.5" fill="#c8e040" opacity="0.75"/><circle cx="126.0" cy="650.9" r="1.1" fill="#e8e050" opacity="0.75"/><circle cx="137.7" cy="617.8" r="1.7" fill="#e8e050" opacity="0.75"/><circle cx="164.9" cy="592.2" r="1.3" fill="#e8e050" opacity="0.75"/><circle cx="158.7" cy="587.9" r="1.4" fill="#e0d840" opacity="0.75"/><circle cx="145.7" cy="664.1" r="1.6" fill="#d8c030" opacity="0.75"/><circle cx="161.7" cy="589.7" r="1.3" fill="#c8e040" opacity="0.75"/><circle cx="122.4" cy="683.4" r="1.0" fill="#c8e040" opacity="0.75"/><circle cx="153.1" cy="646.0" r="1.8" fill="#e0d840" opacity="0.75"/><circle cx="131.2" cy="647.3" r="1.5" fill="#c8e040" opacity="0.75"/><circle cx="134.8" cy="666.4" r="1.3" fill="#e0d840" opacity="0.75"/><circle cx="173.8" cy="653.5" r="1.3" fill="#e8e050" opacity="0.75"/><circle cx="173.7" cy="623.5" r="1.2" fill="#c8e040" opacity="0.75"/><circle cx="166.2" cy="637.6" r="1.6" fill="#e0d840" opacity="0.75"/><circle cx="140.4" cy="600.5" r="1.6" fill="#f0e030" opacity="0.75"/><circle cx="125.3" cy="618.0" r="1.1" fill="#f0e030" opacity="0.75"/><circle cx="138.5" cy="591.6" r="1.8" fill="#c8e040" opacity="0.75"/><circle cx="163.2" cy="623.5" r="1.1" fill="#d8c030" opacity="0.75"/><circle cx="169.2" cy="635.4" r="1.2" fill="#f0e030" opacity="0.75"/><circle cx="145.2" cy="597.3" r="1.2" fill="#c8e040" opacity="0.75"/><circle cx="138.9" cy="668.5" r="1.1" fill="#e8e050" opacity="0.75"/><circle cx="132.8" cy="680.5" r="1.4" fill="#e8e050" opacity="0.75"/><circle cx="143.6" cy="602.6" r="0.9" fill="#c8e040" opacity="0.75"/><circle cx="136.8" cy="641.7" r="1.7" fill="#f0e030" opacity="0.75"/><circle cx="143.8" cy="594.0" r="1.2" fill="#e8e050" opacity="0.75"/><circle cx="170.6" cy="641.1" r="1.7" fill="#c8e040" opacity="0.75"/><circle cx="128.4" cy="632.8" r="0.9" fill="#e0d840" opacity="0.75"/><circle cx="165.8" cy="644.9" r="1.4" fill="#c8e040" opacity="0.75"/><circle cx="141.1" cy="688.0" r="1.7" fill="#e0d840" opacity="0.75"/><circle cx="127.1" cy="648.7" r="1.7" fill="#e8e050" opacity="0.75"/><circle cx="159.7" cy="682.7" r="1.5" fill="#d8c030" opacity="0.75"/><circle cx="173.3" cy="651.9" r="1.6" fill="#e0d840" opacity="0.75"/><circle cx="142.9" cy="683.8" r="1.3" fill="#c8e040" opacity="0.75"/><circle cx="148.5" cy="621.0" r="1.5" fill="#d8c030" opacity="0.75"/><circle cx="129.6" cy="662.5" r="1.5" fill="#e8e050" opacity="0.75"/><circle cx="169.8" cy="599.9" r="1.5" fill="#c8e040" opacity="0.75"/><circle cx="171.0" cy="592.9" r="1.7" fill="#e0d840" opacity="0.75"/><circle cx="157.4" cy="646.1" r="1.1" fill="#e8e050" opacity="0.75"/><circle cx="160.6" cy="667.7" r="1.0" fill="#d8c030" opacity="0.75"/><circle cx="157.6" cy="664.4" r="1.0" fill="#f0e030" opacity="0.75"/><circle cx="137.0" cy="589.5" r="1.7" fill="#e8e050" opacity="0.75"/><circle cx="129.0" cy="659.2" r="1.5" fill="#e8e050" opacity="0.75"/><circle cx="136.6" cy="593.0" r="1.4" fill="#f0e030" opacity="0.75"/><circle cx="149.0" cy="649.2" r="1.2" fill="#d8c030" opacity="0.75"/><circle cx="141.1" cy="645.2" r="1.2" fill="#e0d840" opacity="0.75"/><circle cx="159.1" cy="593.5" r="1.1" fill="#c8e040" opacity="0.75"/><circle cx="146.3" cy="665.5" r="1.1" fill="#e8e050" opacity="0.75"/><circle cx="125.1" cy="632.4" r="1.4" fill="#f0e030" opacity="0.75"/><circle cx="123.7" cy="641.9" r="1.0" fill="#e8e050" opacity="0.75"/><circle cx="133.9" cy="651.5" r="1.8" fill="#c8e040" opacity="0.75"/><circle cx="150.1" cy="610.0" r="1.6" fill="#f0e030" opacity="0.75"/><circle cx="133.1" cy="673.3" r="1.4" fill="#f0e030" opacity="0.75"/><circle cx="123.6" cy="666.9" r="1.6" fill="#e0d840" opacity="0.75"/><circle cx="136.2" cy="624.9" r="1.6" fill="#c8e040" opacity="0.75"/><circle cx="153.0" cy="627.6" r="1.8" fill="#f0e030" opacity="0.75"/><circle cx="143.7" cy="655.3" r="1.6" fill="#e0d840" opacity="0.75"/><circle cx="173.0" cy="620.3" r="1.0" fill="#c8e040" opacity="0.75"/><circle cx="147.3" cy="599.9" r="1.8" fill="#e8e050" opacity="0.75"/><circle cx="168.7" cy="650.2" r="1.2" fill="#d8c030" opacity="0.75"/><circle cx="132.1" cy="627.9" r="1.6" fill="#c8e040" opacity="0.75"/><circle cx="126.1" cy="679.3" r="1.3" fill="#e0d840" opacity="0.75"/><circle cx="132.5" cy="659.2" r="1.6" fill="#d8c030" opacity="0.75"/><circle cx="132.7" cy="664.6" r="1.6" fill="#c8e040" opacity="0.75"/><circle cx="172.3" cy="681.7" r="1.5" fill="#f0e030" opacity="0.75"/><circle cx="125.3" cy="607.4" r="1.7" fill="#e0d840" opacity="0.75"/><circle cx="156.0" cy="663.7" r="1.1" fill="#f0e030" opacity="0.75"/><circle cx="140.8" cy="603.0" r="1.8" fill="#c8e040" opacity="0.75"/><circle cx="138.2" cy="590.6" r="1.5" fill="#d8c030" opacity="0.75"/><circle cx="144.3" cy="589.1" r="1.6" fill="#e8e050" opacity="0.75"/><circle cx="140.2" cy="675.2" r="1.6" fill="#c8e040" opacity="0.75"/><circle cx="147.0" cy="689.0" r="1.6" fill="#c8e040" opacity="0.75"/><circle cx="147.2" cy="671.5" r="1.7" fill="#d8c030" opacity="0.75"/><circle cx="150.0" cy="612.1" r="1.1" fill="#e8e050" opacity="0.75"/><circle cx="135.4" cy="588.2" r="1.5" fill="#d8c030" opacity="0.75"/><circle cx="172.1" cy="688.0" r="1.6" fill="#e8e050" opacity="0.75"/><circle cx="160.5" cy="602.7" r="1.0" fill="#e8e050" opacity="0.75"/><circle cx="122.7" cy="608.3" r="1.4" fill="#f0e030" opacity="0.75"/><circle cx="123.5" cy="670.6" r="1.3" fill="#e0d840" opacity="0.75"/><circle cx="124.3" cy="678.5" r="1.7" fill="#f0e030" opacity="0.75"/><circle cx="167.5" cy="621.2" r="1.7" fill="#f0e030" opacity="0.75"/><circle cx="147.7" cy="652.5" r="0.9" fill="#d8c030" opacity="0.75"/><circle cx="132.8" cy="622.9" r="1.0" fill="#e0d840" opacity="0.75"/><circle cx="168.5" cy="684.3" r="1.3" fill="#e8e050" opacity="0.75"/><circle cx="153.0" cy="652.2" r="1.6" fill="#e8e050" opacity="0.75"/><circle cx="152.2" cy="660.8" r="1.1" fill="#e8e050" opacity="0.75"/><circle cx="156.6" cy="675.6" r="1.5" fill="#d8c030" opacity="0.75"/><circle cx="146.9" cy="677.6" r="1.0" fill="#f0e030" opacity="0.75"/><circle cx="170.2" cy="648.3" r="1.5" fill="#e0d840" opacity="0.75"/><circle cx="164.4" cy="678.5" r="1.3" fill="#e0d840" opacity="0.75"/><circle cx="163.8" cy="671.7" r="1.1" fill="#e0d840" opacity="0.75"/><circle cx="170.1" cy="606.8" r="0.9" fill="#e0d840" opacity="0.75"/><circle cx="124.6" cy="611.0" r="1.6" fill="#d8c030" opacity="0.75"/><circle cx="124.3" cy="643.8" r="1.7" fill="#f0e030" opacity="0.75"/><circle cx="135.9" cy="602.0" r="1.3" fill="#e0d840" opacity="0.75"/><circle cx="172.7" cy="665.0" r="1.1" fill="#e0d840" opacity="0.75"/><circle cx="164.8" cy="602.9" r="1.2" fill="#f0e030" opacity="0.75"/><circle cx="135.3" cy="742.6" r="1.7" fill="#f0e030" opacity="0.75"/><circle cx="122.1" cy="736.8" r="1.4" fill="#e0d840" opacity="0.75"/><circle cx="138.1" cy="722.7" r="1.5" fill="#e0d840" opacity="0.75"/><circle cx="139.2" cy="723.8" r="1.3" fill="#f0e030" opacity="0.75"/><circle cx="122.2" cy="731.0" r="1.1" fill="#e0d840" opacity="0.75"/><circle cx="135.2" cy="736.1" r="1.0" fill="#d8c030" opacity="0.75"/><circle cx="138.9" cy="701.4" r="1.8" fill="#f0e030" opacity="0.75"/><circle cx="137.9" cy="694.7" r="1.5" fill="#c8e040" opacity="0.75"/><circle cx="124.3" cy="703.1" r="1.0" fill="#e0d840" opacity="0.75"/><circle cx="129.1" cy="707.0" r="1.0" fill="#c8e040" opacity="0.75"/><circle cx="137.8" cy="743.8" r="0.9" fill="#d8c030" opacity="0.75"/><circle cx="123.9" cy="696.3" r="1.4" fill="#d8c030" opacity="0.75"/><circle cx="133.8" cy="712.4" r="1.7" fill="#d8c030" opacity="0.75"/><circle cx="141.0" cy="733.8" r="1.7" fill="#e0d840" opacity="0.75"/><circle cx="140.6" cy="691.7" r="1.7" fill="#d8c030" opacity="0.75"/><circle cx="133.2" cy="738.3" r="1.5" fill="#d8c030" opacity="0.75"/><circle cx="129.6" cy="704.1" r="1.1" fill="#d8c030" opacity="0.75"/><circle cx="129.8" cy="709.2" r="1.2" fill="#c8e040" opacity="0.75"/><circle cx="126.2" cy="699.0" r="1.6" fill="#f0e030" opacity="0.75"/><circle cx="143.8" cy="744.7" r="1.1" fill="#c8e040" opacity="0.75"/><circle cx="128.5" cy="712.7" r="1.2" fill="#e0d840" opacity="0.75"/><circle cx="136.1" cy="709.6" r="0.9" fill="#c8e040" opacity="0.75"/><circle cx="142.0" cy="703.1" r="1.6" fill="#c8e040" opacity="0.75"/><circle cx="135.8" cy="695.8" r="1.3" fill="#c8e040" opacity="0.75"/><circle cx="130.8" cy="693.5" r="1.8" fill="#e0d840" opacity="0.75"/><circle cx="126.2" cy="719.2" r="1.7" fill="#d8c030" opacity="0.75"/><circle cx="132.6" cy="740.3" r="1.5" fill="#e0d840" opacity="0.75"/><circle cx="127.7" cy="731.5" r="1.5" fill="#e0d840" opacity="0.75"/><circle cx="133.2" cy="696.5" r="1.4" fill="#d8c030" opacity="0.75"/><circle cx="138.0" cy="699.2" r="1.6" fill="#c8e040" opacity="0.75"/><circle cx="128.5" cy="704.1" r="1.0" fill="#e0d840" opacity="0.75"/><circle cx="144.5" cy="725.3" r="1.5" fill="#d8c030" opacity="0.75"/><circle cx="137.5" cy="728.2" r="1.0" fill="#c8e040" opacity="0.75"/><circle cx="141.0" cy="719.5" r="1.2" fill="#e0d840" opacity="0.75"/><circle cx="125.7" cy="696.2" r="1.5" fill="#f0e030" opacity="0.75"/><circle cx="135.3" cy="738.3" r="1.1" fill="#f0e030" opacity="0.75"/><circle cx="124.6" cy="706.7" r="1.5" fill="#f0e030" opacity="0.75"/><circle cx="126.5" cy="744.4" r="1.7" fill="#e0d840" opacity="0.75"/><circle cx="134.0" cy="707.7" r="0.9" fill="#d8c030" opacity="0.75"/><circle cx="143.5" cy="702.4" r="1.6" fill="#d8c030" opacity="0.75"/><circle cx="139.4" cy="705.3" r="1.7" fill="#e0d840" opacity="0.75"/><circle cx="123.9" cy="694.9" r="1.5" fill="#c8e040" opacity="0.75"/><circle cx="126.7" cy="697.9" r="1.7" fill="#e0d840" opacity="0.75"/><circle cx="123.5" cy="704.0" r="1.4" fill="#e0d840" opacity="0.75"/><circle cx="127.8" cy="693.6" r="1.1" fill="#e0d840" opacity="0.75"/><circle cx="146.2" cy="741.5" r="1.2" fill="#c8e040" opacity="0.75"/><circle cx="140.8" cy="697.6" r="1.2" fill="#c8e040" opacity="0.75"/><circle cx="126.3" cy="726.5" r="1.7" fill="#d8c030" opacity="0.75"/><circle cx="126.3" cy="731.8" r="1.1" fill="#e0d840" opacity="0.75"/><circle cx="127.0" cy="702.0" r="1.7" fill="#f0e030" opacity="0.75"/><circle cx="147.0" cy="794.1" r="1.3" fill="#d8c030" opacity="0.75"/><circle cx="146.2" cy="781.5" r="0.9" fill="#d8c030" opacity="0.75"/><circle cx="146.1" cy="769.1" r="0.8" fill="#e0d840" opacity="0.75"/><circle cx="148.2" cy="772.1" r="0.8" fill="#d8c030" opacity="0.75"/><circle cx="147.9" cy="754.6" r="1.0" fill="#e0d840" opacity="0.75"/><circle cx="146.2" cy="755.5" r="1.0" fill="#d8c030" opacity="0.75"/><circle cx="147.9" cy="796.5" r="0.7" fill="#c8e040" opacity="0.75"/><circle cx="148.0" cy="771.6" r="1.1" fill="#e0d840" opacity="0.75"/><circle cx="149.5" cy="797.9" r="0.8" fill="#d8c030" opacity="0.75"/><circle cx="149.8" cy="773.9" r="1.1" fill="#e0d840" opacity="0.75"/><circle cx="148.0" cy="762.4" r="0.8" fill="#e0d840" opacity="0.75"/><circle cx="147.1" cy="795.8" r="1.2" fill="#d8c030" opacity="0.75"/><circle cx="146.5" cy="789.4" r="0.9" fill="#c8e040" opacity="0.75"/><circle cx="146.8" cy="781.5" r="0.7" fill="#d8c030" opacity="0.75"/><circle cx="148.8" cy="771.1" r="0.8" fill="#d8c030" opacity="0.75"/><circle cx="156.2" cy="761.8" r="1.5" fill="#e8c040" opacity="0.75"/><circle cx="167.6" cy="765.6" r="1.2" fill="#e0a030" opacity="0.75"/><circle cx="160.2" cy="744.9" r="0.9" fill="#e8c040" opacity="0.75"/><circle cx="162.6" cy="732.6" r="1.4" fill="#d8b030" opacity="0.75"/><circle cx="171.4" cy="730.4" r="0.9" fill="#e8c040" opacity="0.75"/><circle cx="160.1" cy="755.8" r="0.9" fill="#e8c040" opacity="0.75"/><circle cx="159.9" cy="693.9" r="1.6" fill="#d8b030" opacity="0.75"/><circle cx="171.1" cy="723.5" r="1.3" fill="#d8b030" opacity="0.75"/><circle cx="172.9" cy="734.2" r="0.9" fill="#e8c040" opacity="0.75"/><circle cx="162.5" cy="743.3" r="1.2" fill="#e0a030" opacity="0.75"/><circle cx="165.2" cy="794.3" r="1.3" fill="#d8b030" opacity="0.75"/><circle cx="159.8" cy="789.7" r="1.5" fill="#e0a030" opacity="0.75"/><circle cx="159.6" cy="800.0" r="1.0" fill="#d8b030" opacity="0.75"/><circle cx="173.5" cy="773.1" r="1.1" fill="#e0a030" opacity="0.75"/><circle cx="162.2" cy="763.6" r="1.3" fill="#e0a030" opacity="0.75"/><circle cx="169.9" cy="716.2" r="0.9" fill="#e0a030" opacity="0.75"/><circle cx="170.6" cy="756.7" r="1.2" fill="#d8b030" opacity="0.75"/><circle cx="168.8" cy="705.1" r="1.2" fill="#e0a030" opacity="0.75"/><circle cx="160.9" cy="735.8" r="1.6" fill="#e0a030" opacity="0.75"/><circle cx="158.4" cy="725.3" r="0.9" fill="#e0a030" opacity="0.75"/><circle cx="163.6" cy="698.8" r="1.4" fill="#d8b030" opacity="0.75"/><circle cx="160.6" cy="752.7" r="1.5" fill="#e0a030" opacity="0.75"/><circle cx="173.2" cy="719.6" r="1.1" fill="#e8c040" opacity="0.75"/><circle cx="156.9" cy="790.6" r="1.6" fill="#e0a030" opacity="0.75"/><circle cx="172.3" cy="697.8" r="1.5" fill="#e0a030" opacity="0.75"/><circle cx="163.6" cy="748.2" r="1.4" fill="#d8b030" opacity="0.75"/><circle cx="167.8" cy="746.4" r="1.2" fill="#e0a030" opacity="0.75"/><circle cx="165.0" cy="748.3" r="1.4" fill="#e8c040" opacity="0.75"/><circle cx="172.2" cy="795.9" r="1.1" fill="#e0a030" opacity="0.75"/><circle cx="166.7" cy="717.9" r="0.9" fill="#d8b030" opacity="0.75"/><circle cx="168.5" cy="718.1" r="1.1" fill="#e0a030" opacity="0.75"/><circle cx="173.2" cy="718.3" r="1.4" fill="#e0a030" opacity="0.75"/><circle cx="157.0" cy="765.1" r="1.3" fill="#e0a030" opacity="0.75"/><circle cx="170.4" cy="691.1" r="1.1" fill="#d8b030" opacity="0.75"/><circle cx="169.7" cy="795.2" r="1.2" fill="#e0a030" opacity="0.75"/><circle cx="161.8" cy="796.8" r="0.9" fill="#d8b030" opacity="0.75"/><circle cx="173.5" cy="749.7" r="1.6" fill="#d8b030" opacity="0.75"/><circle cx="172.2" cy="715.6" r="1.4" fill="#e8c040" opacity="0.75"/><circle cx="162.8" cy="744.4" r="0.9" fill="#d8b030" opacity="0.75"/><circle cx="160.0" cy="713.6" r="0.9" fill="#d8b030" opacity="0.75"/><circle cx="165.2" cy="787.3" r="1.1" fill="#e8c040" opacity="0.75"/><circle cx="157.4" cy="754.1" r="1.3" fill="#d8b030" opacity="0.75"/><circle cx="162.4" cy="767.5" r="1.1" fill="#d8b030" opacity="0.75"/><circle cx="170.6" cy="766.2" r="1.3" fill="#e8c040" opacity="0.75"/><circle cx="158.9" cy="730.7" r="1.4" fill="#e8c040" opacity="0.75"/><circle cx="171.0" cy="760.6" r="1.0" fill="#e8c040" opacity="0.75"/><circle cx="166.7" cy="774.6" r="1.4" fill="#d8b030" opacity="0.75"/><circle cx="161.4" cy="718.1" r="1.3" fill="#e0a030" opacity="0.75"/><circle cx="171.3" cy="786.3" r="0.8" fill="#e8c040" opacity="0.75"/><circle cx="172.1" cy="755.5" r="1.4" fill="#d8b030" opacity="0.75"/><circle cx="160.9" cy="697.7" r="1.5" fill="#e0a030" opacity="0.75"/><circle cx="157.5" cy="717.4" r="1.0" fill="#e0a030" opacity="0.75"/><circle cx="160.8" cy="768.2" r="0.8" fill="#e0a030" opacity="0.75"/><circle cx="158.1" cy="792.8" r="0.9" fill="#e0a030" opacity="0.75"/><circle cx="162.0" cy="747.5" r="1.0" fill="#d8b030" opacity="0.75"/><circle cx="169.5" cy="786.2" r="0.8" fill="#d8b030" opacity="0.75"/><circle cx="157.5" cy="707.9" r="0.9" fill="#e0a030" opacity="0.75"/><circle cx="156.9" cy="797.1" r="1.4" fill="#e0a030" opacity="0.75"/><circle cx="169.1" cy="727.6" r="0.9" fill="#d8b030" opacity="0.75"/><circle cx="166.9" cy="798.9" r="1.4" fill="#e0a030" opacity="0.75"/></g></g>
<g clip-path="url(#c7)"><g filter="url(#f7)"><rect x="30" y="860" width="65" height="228" fill="#6c7020" opacity="1"/><rect x="58" y="925" width="27" height="160" fill="#72701f" opacity="1"/><polygon points="44,863 68,863 68,922 60,925 50,918 44,905" fill="#98b030" opacity="1"/><polygon points="68,863 84,863 84,908 68,912" fill="#b0b832" opacity="1"/><ellipse cx="76" cy="885" rx="6" ry="17" fill="#d0d438" opacity="1"/><circle cx="52.7" cy="891" r="3.5" fill="none" stroke="#c0d848" stroke-width="2.5" opacity="1"/><ellipse cx="50" cy="960" rx="10" ry="24" fill="#5e681c" opacity="1"/><ellipse cx="48" cy="1030" rx="9" ry="30" fill="#5e681c" opacity="1"/><ellipse cx="72" cy="1010" rx="10" ry="50" fill="#686a1c" opacity="1"/><circle cx="45.3" cy="1035.5" r="4" fill="none" stroke="#98ac38" stroke-width="2.5" opacity="1"/><circle cx="67.3" cy="1060.7" r="4" fill="none" stroke="#8a9a32" stroke-width="2" opacity="1"/><ellipse cx="46" cy="1075" rx="9" ry="9" fill="#7c9028" opacity="1"/><polygon points="40.6,910 48,918 44,922 40.6,921" fill="#141806" opacity="1"/><polygon points="77.3,992 85,980 85,994.5" fill="#141806" opacity="1"/><polygon points="37.5,1000 43,1008 37.5,1013" fill="#141806" opacity="1"/><rect x="34" y="860" width="3.2" height="228" fill="#0a0c02" opacity="1"/><rect x="37.2" y="860" width="2" height="228" fill="#5c7020" opacity="1"/><rect x="82.5" y="860" width="3" height="228" fill="#5c7020" opacity="1"/><rect x="85.5" y="860" width="5" height="228" fill="#0a0c02" opacity="1"/><rect x="36.8" y="1007" width="3.2" height="8.5" fill="#f0f038" opacity="1"/><path d="M68.6,921 C68,935 67,955 64.7,965 C62,980 58,1000 56.5,1010 C55,1030 55,1050 55.5,1060 C56,1070 57,1078 58.4,1084" fill="none" stroke="#24401a" stroke-width="2.3" opacity="1"/></g><g filter="url(#fs)"><circle cx="77.8" cy="955.9" r="1.2" fill="#c07020" opacity="0.75"/><circle cx="50.3" cy="1036.4" r="0.8" fill="#c07020" opacity="0.75"/><circle cx="66.4" cy="906.1" r="1.0" fill="#d8c030" opacity="0.75"/><circle cx="61.1" cy="1040.1" r="0.8" fill="#d8c030" opacity="0.75"/><circle cx="69.9" cy="986.5" r="0.7" fill="#d09028" opacity="0.75"/><circle cx="82.0" cy="911.4" r="1.0" fill="#d8c030" opacity="0.75"/><circle cx="73.8" cy="972.8" r="1.1" fill="#d8c030" opacity="0.75"/><circle cx="72.6" cy="871.6" r="0.7" fill="#d8c030" opacity="0.75"/><circle cx="63.1" cy="910.5" r="1.2" fill="#d8c030" opacity="0.75"/><circle cx="67.7" cy="1058.9" r="1.4" fill="#d09028" opacity="0.75"/><circle cx="84.8" cy="1058.2" r="0.8" fill="#d09028" opacity="0.75"/><circle cx="50.2" cy="1030.8" r="1.2" fill="#d8c030" opacity="0.75"/><circle cx="83.1" cy="1035.8" r="1.0" fill="#c07020" opacity="0.75"/><circle cx="63.5" cy="930.9" r="0.9" fill="#d8c030" opacity="0.75"/><circle cx="53.2" cy="934.9" r="0.8" fill="#d09028" opacity="0.75"/><circle cx="81.9" cy="1053.6" r="0.7" fill="#c07020" opacity="0.75"/><circle cx="54.4" cy="1033.8" r="1.1" fill="#d8c030" opacity="0.75"/><circle cx="56.3" cy="1019.0" r="0.9" fill="#d8c030" opacity="0.75"/><circle cx="43.4" cy="1006.7" r="1.0" fill="#d8c030" opacity="0.75"/><circle cx="61.8" cy="919.3" r="1.1" fill="#d8c030" opacity="0.75"/><circle cx="60.2" cy="1048.2" r="1.0" fill="#d8c030" opacity="0.75"/><circle cx="71.7" cy="980.0" r="1.4" fill="#d8c030" opacity="0.75"/><circle cx="67.8" cy="887.6" r="0.8" fill="#c07020" opacity="0.75"/><circle cx="81.5" cy="893.6" r="0.8" fill="#d8c030" opacity="0.75"/><circle cx="61.0" cy="998.2" r="1.2" fill="#c07020" opacity="0.75"/><circle cx="78.4" cy="1007.0" r="1.0" fill="#c07020" opacity="0.75"/><circle cx="43.9" cy="949.7" r="1.2" fill="#d09028" opacity="0.75"/><circle cx="73.1" cy="871.9" r="0.8" fill="#d8c030" opacity="0.75"/><circle cx="44.8" cy="880.2" r="1.3" fill="#d09028" opacity="0.75"/><circle cx="67.2" cy="952.4" r="0.8" fill="#d09028" opacity="0.75"/><circle cx="74.4" cy="956.5" r="1.0" fill="#c07020" opacity="0.75"/><circle cx="80.1" cy="963.5" r="0.8" fill="#d8c030" opacity="0.75"/><circle cx="51.7" cy="1024.2" r="1.3" fill="#d8c030" opacity="0.75"/><circle cx="61.3" cy="1070.6" r="1.3" fill="#d8c030" opacity="0.75"/><circle cx="74.1" cy="949.5" r="1.2" fill="#d09028" opacity="0.75"/><circle cx="45.8" cy="906.6" r="0.8" fill="#c07020" opacity="0.75"/><circle cx="76.6" cy="937.9" r="0.7" fill="#d09028" opacity="0.75"/><circle cx="63.1" cy="1040.0" r="0.8" fill="#d8c030" opacity="0.75"/><circle cx="78.5" cy="934.1" r="1.2" fill="#d09028" opacity="0.75"/><circle cx="78.2" cy="1011.8" r="1.0" fill="#d8c030" opacity="0.75"/><circle cx="77.0" cy="1050.6" r="0.9" fill="#d8c030" opacity="0.75"/><circle cx="75.4" cy="919.7" r="1.3" fill="#d09028" opacity="0.75"/><circle cx="82.8" cy="935.3" r="1.3" fill="#c07020" opacity="0.75"/><circle cx="52.0" cy="943.7" r="1.1" fill="#c07020" opacity="0.75"/><circle cx="57.7" cy="926.1" r="0.7" fill="#d09028" opacity="0.75"/><circle cx="70.4" cy="1027.6" r="1.2" fill="#d8c030" opacity="0.75"/><circle cx="51.0" cy="1062.7" r="1.4" fill="#d09028" opacity="0.75"/><circle cx="72.8" cy="1027.3" r="0.9" fill="#c07020" opacity="0.75"/><circle cx="69.5" cy="946.8" r="0.8" fill="#c07020" opacity="0.75"/><circle cx="64.3" cy="937.3" r="0.9" fill="#d09028" opacity="0.75"/><circle cx="78.0" cy="1047.3" r="1.3" fill="#d09028" opacity="0.75"/><circle cx="83.0" cy="1052.7" r="1.2" fill="#d8c030" opacity="0.75"/><circle cx="42.2" cy="1052.1" r="1.4" fill="#d8c030" opacity="0.75"/><circle cx="82.6" cy="966.1" r="1.2" fill="#c07020" opacity="0.75"/><circle cx="79.1" cy="911.0" r="1.0" fill="#c07020" opacity="0.75"/><circle cx="42.9" cy="890.4" r="1.3" fill="#d09028" opacity="0.75"/><circle cx="41.2" cy="944.6" r="0.7" fill="#d8c030" opacity="0.75"/><circle cx="73.3" cy="907.7" r="1.1" fill="#c07020" opacity="0.75"/><circle cx="54.0" cy="967.5" r="0.9" fill="#c07020" opacity="0.75"/><circle cx="68.5" cy="1057.4" r="0.9" fill="#c07020" opacity="0.75"/><circle cx="55.5" cy="1045.4" r="1.3" fill="#d8c030" opacity="0.75"/><circle cx="65.8" cy="887.8" r="1.4" fill="#d8c030" opacity="0.75"/><circle cx="80.3" cy="879.7" r="1.0" fill="#c07020" opacity="0.75"/><circle cx="79.6" cy="1008.1" r="0.8" fill="#d09028" opacity="0.75"/><circle cx="64.4" cy="1064.4" r="1.2" fill="#d8c030" opacity="0.75"/><circle cx="45.6" cy="1061.6" r="1.0" fill="#d09028" opacity="0.75"/><circle cx="65.6" cy="870.1" r="1.0" fill="#d09028" opacity="0.75"/><circle cx="44.2" cy="977.6" r="1.3" fill="#d8c030" opacity="0.75"/><circle cx="56.0" cy="912.8" r="1.1" fill="#d8c030" opacity="0.75"/><circle cx="42.6" cy="943.8" r="1.0" fill="#d8c030" opacity="0.75"/><circle cx="57.1" cy="1017.6" r="0.8" fill="#c07020" opacity="0.75"/><circle cx="53.6" cy="935.7" r="1.4" fill="#d8c030" opacity="0.75"/><circle cx="62.1" cy="1026.7" r="1.2" fill="#d09028" opacity="0.75"/><circle cx="46.4" cy="1070.7" r="1.3" fill="#d8c030" opacity="0.75"/><circle cx="47.4" cy="868.8" r="1.1" fill="#d8c030" opacity="0.75"/><circle cx="74.2" cy="1051.7" r="0.7" fill="#c07020" opacity="0.75"/><circle cx="42.5" cy="973.6" r="1.3" fill="#d8c030" opacity="0.75"/><circle cx="72.1" cy="1018.2" r="1.1" fill="#d09028" opacity="0.75"/><circle cx="82.0" cy="985.4" r="0.8" fill="#d09028" opacity="0.75"/><circle cx="59.7" cy="871.5" r="1.1" fill="#d09028" opacity="0.75"/><circle cx="51.7" cy="924.3" r="0.9" fill="#c07020" opacity="0.75"/><circle cx="68.3" cy="876.6" r="1.3" fill="#d09028" opacity="0.75"/><circle cx="80.6" cy="900.6" r="1.1" fill="#d09028" opacity="0.75"/><circle cx="50.4" cy="1041.7" r="1.1" fill="#d09028" opacity="0.75"/><circle cx="80.7" cy="908.4" r="1.2" fill="#d8c030" opacity="0.75"/><circle cx="44.9" cy="964.4" r="1.2" fill="#d8c030" opacity="0.75"/><circle cx="52.3" cy="1045.2" r="0.7" fill="#d8c030" opacity="0.75"/><circle cx="82.5" cy="960.2" r="1.3" fill="#d09028" opacity="0.75"/><circle cx="80.4" cy="985.3" r="0.8" fill="#c07020" opacity="0.75"/><circle cx="60.7" cy="1002.3" r="0.9" fill="#d8c030" opacity="0.75"/></g><rect x="36.4" y="1077" width="7.8" height="4.2" fill="#ffffff" opacity="1"/></g>
<g clip-path="url(#c8)"><g filter="url(#f8)"><rect x="115" y="860" width="70" height="228" fill="#7a2e10" opacity="1"/><polygon points="129,863 166,863 168,905 130,905" fill="#c4c236" opacity="1"/><circle cx="137" cy="885" r="4" fill="none" stroke="#d0d048" stroke-width="2.5" opacity="1"/><polygon points="162,863 173,863 172,884 165,888" fill="#c02810" opacity="1"/><polygon points="128,903 172,903 172,958 128,958" fill="#7e2c10" opacity="1"/><ellipse cx="138" cy="930" rx="9" ry="20" fill="#6a3010" opacity="1"/><ellipse cx="162" cy="935" rx="8" ry="20" fill="#7a2a10" opacity="1"/><ellipse cx="141" cy="977" rx="14" ry="20" fill="#8aa02a" opacity="1"/><ellipse cx="146" cy="952" rx="6" ry="7" fill="#90a830" opacity="1"/><circle cx="142" cy="983" r="4.5" fill="none" stroke="#b8d048" stroke-width="3" opacity="1"/><polygon points="126,992 143,995 143,1083 126,1083" fill="#0e1604" opacity="1"/><polygon points="143,985 156,975 157,1083 143,1083" fill="#6a8e22" opacity="1"/><circle cx="150" cy="1040" r="3.5" fill="none" stroke="#b8d040" stroke-width="2.5" opacity="1"/><polygon points="156,955 172,955 172,1083 157,1083" fill="#942e10" opacity="1"/><circle cx="163" cy="1010" r="4" fill="none" stroke="#e02810" stroke-width="2.5" opacity="1"/><rect x="122" y="860" width="1.5" height="228" fill="#0a0a02" opacity="1"/><rect x="123.5" y="860" width="4" height="228" fill="#36aa20" opacity="1"/><rect x="171.5" y="975" width="3.5" height="110" fill="#36aa20" opacity="1"/><rect x="175" y="860" width="4" height="228" fill="#0a0a02" opacity="1"/></g><g filter="url(#fs)"><circle cx="158.7" cy="888.3" r="0.9" fill="#d8c030" opacity="0.75"/><circle cx="162.8" cy="898.9" r="0.9" fill="#e0a030" opacity="0.75"/><circle cx="134.5" cy="885.8" r="0.8" fill="#e0d840" opacity="0.75"/><circle cx="151.6" cy="876.8" r="0.8" fill="#c8e040" opacity="0.75"/><circle cx="147.2" cy="906.8" r="1.0" fill="#e0a030" opacity="0.75"/><circle cx="139.1" cy="914.3" r="1.1" fill="#e0a030" opacity="0.75"/><circle cx="133.8" cy="881.1" r="0.9" fill="#e0d840" opacity="0.75"/><circle cx="143.3" cy="871.6" r="0.9" fill="#e0d840" opacity="0.75"/><circle cx="145.0" cy="898.4" r="1.2" fill="#e0a030" opacity="0.75"/><circle cx="146.6" cy="944.3" r="0.7" fill="#e0d840" opacity="0.75"/><circle cx="159.4" cy="910.3" r="1.4" fill="#e0a030" opacity="0.75"/><circle cx="152.8" cy="879.9" r="1.4" fill="#e0d840" opacity="0.75"/><circle cx="133.8" cy="899.8" r="1.3" fill="#e0a030" opacity="0.75"/><circle cx="151.6" cy="929.3" r="1.3" fill="#c8e040" opacity="0.75"/><circle cx="134.3" cy="917.4" r="0.9" fill="#d8c030" opacity="0.75"/><circle cx="133.4" cy="950.9" r="1.1" fill="#e0d840" opacity="0.75"/><circle cx="160.3" cy="906.9" r="1.0" fill="#c8e040" opacity="0.75"/><circle cx="163.8" cy="898.2" r="1.1" fill="#c8e040" opacity="0.75"/><circle cx="147.1" cy="896.6" r="1.1" fill="#e0a030" opacity="0.75"/><circle cx="150.6" cy="946.4" r="1.0" fill="#e0d840" opacity="0.75"/><circle cx="143.5" cy="899.5" r="0.9" fill="#e0d840" opacity="0.75"/><circle cx="141.3" cy="943.0" r="1.4" fill="#d8c030" opacity="0.75"/><circle cx="143.1" cy="872.2" r="0.7" fill="#d8c030" opacity="0.75"/><circle cx="160.2" cy="879.0" r="0.9" fill="#d8c030" opacity="0.75"/><circle cx="145.5" cy="876.6" r="1.4" fill="#e0d840" opacity="0.75"/><circle cx="150.0" cy="952.6" r="1.2" fill="#e0d840" opacity="0.75"/><circle cx="133.9" cy="944.6" r="1.2" fill="#e0d840" opacity="0.75"/><circle cx="162.3" cy="901.6" r="1.1" fill="#e0d840" opacity="0.75"/><circle cx="156.4" cy="882.1" r="1.4" fill="#d8c030" opacity="0.75"/><circle cx="129.5" cy="870.3" r="0.7" fill="#e0d840" opacity="0.75"/><circle cx="141.1" cy="931.0" r="0.8" fill="#d8c030" opacity="0.75"/><circle cx="134.5" cy="882.2" r="1.2" fill="#c8e040" opacity="0.75"/><circle cx="166.8" cy="899.3" r="0.9" fill="#e0a030" opacity="0.75"/><circle cx="144.4" cy="907.4" r="1.4" fill="#e0a030" opacity="0.75"/><circle cx="167.8" cy="932.1" r="0.8" fill="#d8c030" opacity="0.75"/><circle cx="163.7" cy="940.4" r="1.0" fill="#e0d840" opacity="0.75"/><circle cx="152.9" cy="951.0" r="1.1" fill="#e0a030" opacity="0.75"/><circle cx="163.4" cy="866.3" r="1.3" fill="#e0a030" opacity="0.75"/><circle cx="152.0" cy="897.0" r="1.1" fill="#e0a030" opacity="0.75"/><circle cx="133.9" cy="869.6" r="1.0" fill="#d8c030" opacity="0.75"/><circle cx="155.5" cy="879.9" r="1.1" fill="#e0d840" opacity="0.75"/><circle cx="164.9" cy="931.7" r="1.3" fill="#e0d840" opacity="0.75"/><circle cx="142.5" cy="932.0" r="1.1" fill="#d8c030" opacity="0.75"/><circle cx="157.1" cy="903.8" r="1.4" fill="#e0a030" opacity="0.75"/><circle cx="165.2" cy="923.4" r="1.3" fill="#c8e040" opacity="0.75"/><circle cx="159.9" cy="1079.2" r="1.3" fill="#e0a030" opacity="0.75"/><circle cx="168.8" cy="1057.7" r="0.9" fill="#e0a030" opacity="0.75"/><circle cx="168.4" cy="987.8" r="0.8" fill="#e0a030" opacity="0.75"/><circle cx="169.9" cy="1016.1" r="1.3" fill="#e0a030" opacity="0.75"/><circle cx="171.8" cy="1016.5" r="0.8" fill="#e0a030" opacity="0.75"/><circle cx="168.4" cy="1026.7" r="1.1" fill="#e0a030" opacity="0.75"/><circle cx="163.4" cy="1071.7" r="1.1" fill="#e0a030" opacity="0.75"/><circle cx="159.0" cy="1002.1" r="1.1" fill="#e0a030" opacity="0.75"/><circle cx="163.5" cy="1065.3" r="0.8" fill="#e0a030" opacity="0.75"/><circle cx="163.7" cy="1001.0" r="1.0" fill="#e0a030" opacity="0.75"/><circle cx="167.8" cy="981.8" r="0.9" fill="#e0a030" opacity="0.75"/><circle cx="162.6" cy="1070.0" r="1.2" fill="#e0a030" opacity="0.75"/><circle cx="167.4" cy="1035.9" r="1.0" fill="#e0a030" opacity="0.75"/><circle cx="170.0" cy="1005.2" r="1.4" fill="#e0a030" opacity="0.75"/><circle cx="157.7" cy="1059.5" r="0.7" fill="#e0a030" opacity="0.75"/><circle cx="171.8" cy="1022.6" r="0.9" fill="#e0a030" opacity="0.75"/><circle cx="169.8" cy="1062.2" r="1.3" fill="#e0a030" opacity="0.75"/><circle cx="157.5" cy="1014.7" r="0.8" fill="#e0a030" opacity="0.75"/><circle cx="168.9" cy="1065.4" r="1.0" fill="#e0a030" opacity="0.75"/><circle cx="164.0" cy="1044.8" r="0.9" fill="#e0a030" opacity="0.75"/></g></g></svg>
<svg width="685" height="1140" viewBox="0 0 685 1140">
<text x="0" y="0" font-size="34.5" stroke="#000" stroke-width="0.9" transform="translate(-0.33 29.3) scale(0.7711 1)">a</text>
<text x="0" y="0" font-size="35" stroke="#000" stroke-width="0.6" transform="translate(-2.93 325.2) scale(1.1111 1)">b</text>
<text x="0" y="0" font-size="34.5" stroke="#000" stroke-width="0.9" transform="translate(3.17 614.8) scale(0.9100 1)">c</text>
<text x="0" y="0" font-size="35.5" stroke="#000" stroke-width="0.6" transform="translate(5.02 893.7) scale(1.0454 1)">d</text>
<text x="0" y="0" font-size="22" transform="translate(16.85 237.7) scale(1.0429 1)">Control</text>
<text x="0" y="0" font-size="22" font-style="italic" transform="translate(118.33 235) scale(0.9595 1)">met-2</text>
<text x="0" y="0" font-size="22" font-style="italic" transform="translate(120.94 259.7) scale(1.0144 1)">(null)</text>
<text x="0" y="0" font-size="22" transform="translate(37.83 526.6) scale(0.8791 1)">Chr. V</text>
<text x="0" y="0" font-size="22" transform="translate(28.87 554.4) scale(1.0298 1)">Control</text>
<text x="0" y="0" font-size="22" font-style="italic" transform="translate(125.83 529.4) scale(0.9739 1)">met-2</text>
<text x="0" y="0" font-size="22" font-style="italic" transform="translate(123.84 554.7) scale(0.9146 1)">(RNAi)</text>
<text x="0" y="0" font-size="22" transform="translate(41.14 822.7) scale(0.9267 1)">T2A</text>
<text x="0" y="0" font-size="22" transform="translate(23.26 850) scale(1.0342 1)">Control</text>
<text x="0" y="0" font-size="22" font-style="italic" transform="translate(124.43 821.6) scale(0.9487 1)">met-2</text>
<text x="0" y="0" font-size="22" font-style="italic" transform="translate(127.94 848.4) scale(1.0123 1)">(null)</text>
<text x="0" y="0" font-size="22" transform="translate(11.26 1104.4) scale(1.0036 1)">Intronless</text>
<text x="0" y="0" font-size="22" transform="translate(23.26 1132.2) scale(1.0342 1)">Control</text>
<text x="0" y="0" font-size="22" font-style="italic" transform="translate(124.43 1103.6) scale(0.9739 1)">met-2</text>
<text x="0" y="0" font-size="22" font-style="italic" transform="translate(122.44 1129.8) scale(0.9162 1)">(RNAi)</text>
<circle cx="241.9" cy="151.2" r="3.80" fill="#000"/>
<circle cx="275.7" cy="110.2" r="3.80" fill="#000"/>
<circle cx="280.5" cy="114.2" r="3.80" fill="#000"/>
<circle cx="270.8" cy="123.9" r="3.80" fill="#000"/>
<circle cx="253.2" cy="149.6" r="3.80" fill="#000"/>
<circle cx="256.4" cy="139.9" r="3.80" fill="#000"/>
<circle cx="262.8" cy="135.1" r="3.80" fill="#000"/>
<circle cx="272.4" cy="160.8" r="3.80" fill="#000"/>
<circle cx="275.7" cy="160.8" r="3.80" fill="#000"/>
<circle cx="285.3" cy="130.3" r="3.80" fill="#000"/>
<circle cx="290.1" cy="130.3" r="3.80" fill="#000"/>
<circle cx="301.4" cy="135.1" r="3.80" fill="#000"/>
<circle cx="307.8" cy="120.7" r="3.80" fill="#000"/>
<circle cx="311.0" cy="114.2" r="3.80" fill="#000"/>
<circle cx="221.1" cy="162.4" r="3.80" fill="#000"/>
<circle cx="230.7" cy="160.8" r="3.80" fill="#000"/>
<circle cx="237.1" cy="162.4" r="3.80" fill="#000"/>
<circle cx="245.1" cy="162.4" r="3.80" fill="#000"/>
<circle cx="250.0" cy="152.8" r="3.80" fill="#000"/>
<circle cx="266.0" cy="146.4" r="3.80" fill="#000"/>
<circle cx="278.9" cy="139.9" r="3.80" fill="#000"/>
<circle cx="283.7" cy="143.1" r="3.80" fill="#000"/>
<circle cx="294.9" cy="125.5" r="3.80" fill="#000"/>
<circle cx="304.6" cy="119.1" r="3.80" fill="#000"/>
<circle cx="225.9" cy="176.9" r="3.80" fill="#000"/>
<circle cx="232.3" cy="178.5" r="3.80" fill="#000"/>
<circle cx="320.9" cy="103.4" r="3.80" fill="#000"/>
<circle cx="309.2" cy="107.1" r="3.80" fill="#000"/>
<circle cx="314.2" cy="109.6" r="3.80" fill="#000"/>
<circle cx="307.5" cy="117.1" r="3.80" fill="#000"/>
<circle cx="238.6" cy="150.7" r="3.80" fill="#000"/>
<circle cx="287.0" cy="123.4" r="3.80" fill="#000"/>
<circle cx="225.6" cy="159.7" r="3.80" fill="#000"/>
<circle cx="295.2" cy="133.2" r="3.80" fill="#000"/>
<circle cx="279.8" cy="130.6" r="3.80" fill="#000"/>
<circle cx="237.2" cy="154.5" r="3.80" fill="#000"/>
<circle cx="244.2" cy="155.0" r="3.80" fill="#000"/>
<circle cx="266.6" cy="138.5" r="3.80" fill="#000"/>
<circle cx="298.7" cy="111.6" r="3.80" fill="#000"/>
<circle cx="228.4" cy="165.4" r="3.80" fill="#000"/>
<circle cx="297.4" cy="119.9" r="3.80" fill="#000"/>
<circle cx="302.6" cy="110.8" r="3.80" fill="#000"/>
<circle cx="270.4" cy="134.0" r="3.80" fill="#000"/>
<circle cx="246.3" cy="146.0" r="3.80" fill="#000"/>
<circle cx="230.2" cy="152.9" r="3.80" fill="#000"/>
<circle cx="285.0" cy="128.0" r="3.80" fill="#000"/>
<circle cx="272.9" cy="128.5" r="3.80" fill="#000"/>
<circle cx="258.9" cy="141.7" r="3.80" fill="#000"/>
<circle cx="220.3" cy="149.6" r="3.80" fill="#000"/>
<circle cx="279.8" cy="133.9" r="3.80" fill="#000"/>
<circle cx="277.4" cy="129.7" r="3.80" fill="#000"/>
<circle cx="266.1" cy="143.8" r="3.80" fill="#000"/>
<circle cx="326.4" cy="107.0" r="3.80" fill="#000"/>
<circle cx="309.9" cy="109.7" r="3.80" fill="#000"/>
<circle cx="296.2" cy="115.1" r="3.80" fill="#000"/>
<circle cx="272.9" cy="143.1" r="3.80" fill="#000"/>
<circle cx="280.0" cy="136.3" r="3.80" fill="#000"/>
<circle cx="270.0" cy="127.8" r="3.80" fill="#000"/>
<circle cx="270.3" cy="138.2" r="3.80" fill="#000"/>
<circle cx="229.5" cy="150.0" r="3.80" fill="#000"/>
<circle cx="304.1" cy="107.7" r="3.80" fill="#000"/>
<circle cx="250.1" cy="143.9" r="3.80" fill="#000"/>
<circle cx="282.7" cy="128.8" r="3.80" fill="#000"/>
<circle cx="233.3" cy="155.6" r="3.80" fill="#000"/>
<circle cx="246.5" cy="143.7" r="3.80" fill="#000"/>
<circle cx="251.8" cy="146.2" r="3.80" fill="#000"/>
<circle cx="256.6" cy="143.6" r="3.80" fill="#000"/>
<circle cx="234.1" cy="147.4" r="3.80" fill="#000"/>
<circle cx="224.9" cy="165.0" r="3.80" fill="#000"/>
<circle cx="297.5" cy="128.0" r="3.80" fill="#000"/>
<circle cx="321.3" cy="99.8" r="3.80" fill="#000"/>
<circle cx="239.8" cy="148.1" r="3.80" fill="#000"/>
<circle cx="275.7" cy="136.7" r="3.80" fill="#000"/>
<circle cx="222.1" cy="174.9" r="3.80" fill="#000"/>
<circle cx="262.4" cy="140.8" r="3.80" fill="#000"/>
<circle cx="318.6" cy="113.7" r="3.80" fill="#000"/>
<circle cx="315.4" cy="105.0" r="3.80" fill="#000"/>
<circle cx="245.7" cy="158.5" r="3.80" fill="#000"/>
<circle cx="233.6" cy="166.6" r="3.80" fill="#000"/>
<circle cx="273.1" cy="135.6" r="3.80" fill="#000"/>
<circle cx="296.6" cy="122.6" r="3.80" fill="#000"/>
<circle cx="314.9" cy="117.7" r="3.80" fill="#000"/>
<circle cx="283.8" cy="124.8" r="3.80" fill="#000"/>
<circle cx="291.6" cy="125.6" r="3.80" fill="#000"/>
<circle cx="302.5" cy="113.1" r="3.80" fill="#000"/>
<circle cx="300.6" cy="116.5" r="3.80" fill="#000"/>
<circle cx="313.9" cy="112.0" r="3.80" fill="#000"/>
<circle cx="318.6" cy="105.9" r="3.80" fill="#000"/>
<circle cx="287.2" cy="125.8" r="3.80" fill="#000"/>
<circle cx="312.6" cy="103.2" r="3.80" fill="#000"/>
<circle cx="258.3" cy="146.0" r="3.80" fill="#000"/>
<circle cx="258.4" cy="137.7" r="3.80" fill="#000"/>
<circle cx="247.7" cy="152.6" r="3.80" fill="#000"/>
<circle cx="222.2" cy="166.7" r="3.80" fill="#000"/>
<circle cx="282.6" cy="135.2" r="3.80" fill="#000"/>
<circle cx="228.7" cy="176.9" r="3.80" fill="#000"/>
<circle cx="242.7" cy="180.4" r="3.80" fill="#000"/>
<circle cx="241.5" cy="168.3" r="3.80" fill="#000"/>
<circle cx="223.8" cy="180.2" r="3.80" fill="#000"/>
<circle cx="241.9" cy="174.1" r="3.80" fill="#000"/>
<circle cx="241.1" cy="163.1" r="3.80" fill="#000"/>
<circle cx="313.4" cy="67.7" r="3.20" fill="#fff" stroke="#000" stroke-width="1.7"/>
<circle cx="303.8" cy="77.3" r="3.20" fill="#fff" stroke="#000" stroke-width="1.7"/>
<circle cx="296.5" cy="96.3" r="3.20" fill="#fff" stroke="#000" stroke-width="1.7"/>
<circle cx="306.5" cy="97.9" r="3.20" fill="#fff" stroke="#000" stroke-width="1.7"/>
<circle cx="229.9" cy="94.2" r="3.20" fill="#fff" stroke="#000" stroke-width="1.7"/>
<circle cx="225.9" cy="98.2" r="3.20" fill="#fff" stroke="#000" stroke-width="1.7"/>
<circle cx="246.0" cy="99.8" r="3.20" fill="#fff" stroke="#000" stroke-width="1.7"/>
<circle cx="220.3" cy="106.2" r="3.20" fill="#fff" stroke="#000" stroke-width="1.7"/>
<circle cx="225.1" cy="106.5" r="3.20" fill="#fff" stroke="#000" stroke-width="1.7"/>
<circle cx="236.3" cy="104.3" r="3.20" fill="#fff" stroke="#000" stroke-width="1.7"/>
<circle cx="243.5" cy="103.8" r="3.20" fill="#fff" stroke="#000" stroke-width="1.7"/>
<circle cx="266.8" cy="104.9" r="3.20" fill="#fff" stroke="#000" stroke-width="1.7"/>
<circle cx="282.1" cy="106.5" r="3.20" fill="#fff" stroke="#000" stroke-width="1.7"/>
<circle cx="230.4" cy="110.7" r="3.20" fill="#fff" stroke="#000" stroke-width="1.7"/>
<circle cx="239.5" cy="108.6" r="3.20" fill="#fff" stroke="#000" stroke-width="1.7"/>
<circle cx="261.2" cy="111.0" r="3.20" fill="#fff" stroke="#000" stroke-width="1.7"/>
<circle cx="262.8" cy="115.0" r="3.20" fill="#fff" stroke="#000" stroke-width="1.7"/>
<circle cx="297.8" cy="111.0" r="3.20" fill="#fff" stroke="#000" stroke-width="1.7"/>
<circle cx="302.6" cy="109.7" r="3.20" fill="#fff" stroke="#000" stroke-width="1.7"/>
<circle cx="308.6" cy="109.1" r="3.20" fill="#fff" stroke="#000" stroke-width="1.7"/>
<circle cx="218.7" cy="119.1" r="3.20" fill="#fff" stroke="#000" stroke-width="1.7"/>
<circle cx="224.3" cy="120.7" r="3.20" fill="#fff" stroke="#000" stroke-width="1.7"/>
<circle cx="242.7" cy="113.4" r="3.20" fill="#fff" stroke="#000" stroke-width="1.7"/>
<circle cx="241.9" cy="120.7" r="3.20" fill="#fff" stroke="#000" stroke-width="1.7"/>
<circle cx="253.2" cy="120.7" r="3.20" fill="#fff" stroke="#000" stroke-width="1.7"/>
<circle cx="291.7" cy="117.4" r="3.20" fill="#fff" stroke="#000" stroke-width="1.7"/>
<circle cx="280.5" cy="122.3" r="3.20" fill="#fff" stroke="#000" stroke-width="1.7"/>
<circle cx="289.3" cy="123.9" r="3.20" fill="#fff" stroke="#000" stroke-width="1.7"/>
<circle cx="217.0" cy="125.5" r="3.20" fill="#fff" stroke="#000" stroke-width="1.7"/>
<circle cx="221.9" cy="127.9" r="3.20" fill="#fff" stroke="#000" stroke-width="1.7"/>
<circle cx="233.9" cy="128.7" r="3.20" fill="#fff" stroke="#000" stroke-width="1.7"/>
<circle cx="238.7" cy="128.7" r="3.20" fill="#fff" stroke="#000" stroke-width="1.7"/>
<circle cx="247.6" cy="128.7" r="3.20" fill="#fff" stroke="#000" stroke-width="1.7"/>
<circle cx="257.2" cy="127.1" r="3.20" fill="#fff" stroke="#000" stroke-width="1.7"/>
<circle cx="263.6" cy="124.7" r="3.20" fill="#fff" stroke="#000" stroke-width="1.7"/>
<circle cx="266.8" cy="131.1" r="3.20" fill="#fff" stroke="#000" stroke-width="1.7"/>
<circle cx="274.9" cy="132.2" r="3.20" fill="#fff" stroke="#000" stroke-width="1.7"/>
<circle cx="214.6" cy="131.1" r="3.20" fill="#fff" stroke="#000" stroke-width="1.7"/>
<circle cx="217.8" cy="133.5" r="3.20" fill="#fff" stroke="#000" stroke-width="1.7"/>
<circle cx="229.1" cy="133.5" r="3.20" fill="#fff" stroke="#000" stroke-width="1.7"/>
<circle cx="307.0" cy="127.4" r="3.20" fill="#fff" stroke="#000" stroke-width="1.7"/>
<circle cx="311.8" cy="135.1" r="3.20" fill="#fff" stroke="#000" stroke-width="1.7"/>
<circle cx="222.7" cy="136.7" r="3.20" fill="#fff" stroke="#000" stroke-width="1.7"/>
<circle cx="228.3" cy="138.3" r="3.20" fill="#fff" stroke="#000" stroke-width="1.7"/>
<circle cx="237.9" cy="137.5" r="3.20" fill="#fff" stroke="#000" stroke-width="1.7"/>
<circle cx="246.8" cy="141.5" r="3.20" fill="#fff" stroke="#000" stroke-width="1.7"/>
<circle cx="264.4" cy="141.2" r="3.20" fill="#fff" stroke="#000" stroke-width="1.7"/>
<circle cx="287.7" cy="141.5" r="3.20" fill="#fff" stroke="#000" stroke-width="1.7"/>
<circle cx="294.1" cy="137.5" r="3.20" fill="#fff" stroke="#000" stroke-width="1.7"/>
<circle cx="303.8" cy="140.7" r="3.20" fill="#fff" stroke="#000" stroke-width="1.7"/>
<circle cx="301.4" cy="147.2" r="3.20" fill="#fff" stroke="#000" stroke-width="1.7"/>
<circle cx="214.6" cy="146.4" r="3.20" fill="#fff" stroke="#000" stroke-width="1.7"/>
<circle cx="219.5" cy="145.6" r="3.20" fill="#fff" stroke="#000" stroke-width="1.7"/>
<circle cx="225.9" cy="152.8" r="3.20" fill="#fff" stroke="#000" stroke-width="1.7"/>
<circle cx="214.6" cy="153.6" r="3.20" fill="#fff" stroke="#000" stroke-width="1.7"/>
<circle cx="273.3" cy="144.7" r="3.20" fill="#fff" stroke="#000" stroke-width="1.7"/>
<circle cx="271.6" cy="152.0" r="3.20" fill="#fff" stroke="#000" stroke-width="1.7"/>
<circle cx="291.7" cy="151.5" r="3.20" fill="#fff" stroke="#000" stroke-width="1.7"/>
<circle cx="314.2" cy="151.2" r="3.20" fill="#fff" stroke="#000" stroke-width="1.7"/>
<circle cx="216.2" cy="160.0" r="3.20" fill="#fff" stroke="#000" stroke-width="1.7"/>
<circle cx="262.0" cy="158.4" r="3.20" fill="#fff" stroke="#000" stroke-width="1.7"/>
<circle cx="289.3" cy="159.2" r="3.20" fill="#fff" stroke="#000" stroke-width="1.7"/>
<circle cx="285.3" cy="160.8" r="3.20" fill="#fff" stroke="#000" stroke-width="1.7"/>
<circle cx="303.0" cy="163.2" r="3.20" fill="#fff" stroke="#000" stroke-width="1.7"/>
<circle cx="233.1" cy="165.6" r="3.20" fill="#fff" stroke="#000" stroke-width="1.7"/>
<circle cx="254.0" cy="163.2" r="3.20" fill="#fff" stroke="#000" stroke-width="1.7"/>
<circle cx="260.4" cy="165.3" r="3.20" fill="#fff" stroke="#000" stroke-width="1.7"/>
<circle cx="270.0" cy="164.3" r="3.20" fill="#fff" stroke="#000" stroke-width="1.7"/>
<circle cx="212.2" cy="169.6" r="3.20" fill="#fff" stroke="#000" stroke-width="1.7"/>
<circle cx="221.9" cy="171.2" r="3.20" fill="#fff" stroke="#000" stroke-width="1.7"/>
<circle cx="240.3" cy="170.4" r="3.20" fill="#fff" stroke="#000" stroke-width="1.7"/>
<circle cx="230.7" cy="173.7" r="3.20" fill="#fff" stroke="#000" stroke-width="1.7"/>
<circle cx="217.8" cy="176.9" r="3.20" fill="#fff" stroke="#000" stroke-width="1.7"/>
<circle cx="247.6" cy="175.3" r="3.20" fill="#fff" stroke="#000" stroke-width="1.7"/>
<circle cx="261.2" cy="176.1" r="3.20" fill="#fff" stroke="#000" stroke-width="1.7"/>
<circle cx="269.2" cy="177.7" r="3.20" fill="#fff" stroke="#000" stroke-width="1.7"/>
<circle cx="282.9" cy="172.9" r="3.20" fill="#fff" stroke="#000" stroke-width="1.7"/>
<circle cx="290.9" cy="172.9" r="3.20" fill="#fff" stroke="#000" stroke-width="1.7"/>
<circle cx="212.2" cy="180.1" r="3.20" fill="#fff" stroke="#000" stroke-width="1.7"/>
<circle cx="227.5" cy="180.1" r="3.20" fill="#fff" stroke="#000" stroke-width="1.7"/>
<circle cx="224.3" cy="184.9" r="3.20" fill="#fff" stroke="#000" stroke-width="1.7"/>
<circle cx="234.7" cy="185.7" r="3.20" fill="#fff" stroke="#000" stroke-width="1.7"/>
<circle cx="213.8" cy="187.3" r="3.20" fill="#fff" stroke="#000" stroke-width="1.7"/>
<circle cx="267.6" cy="181.7" r="3.20" fill="#fff" stroke="#000" stroke-width="1.7"/>
<circle cx="256.4" cy="182.5" r="3.20" fill="#fff" stroke="#000" stroke-width="1.7"/>
<circle cx="291.7" cy="182.5" r="3.20" fill="#fff" stroke="#000" stroke-width="1.7"/>
<circle cx="249.2" cy="188.1" r="3.20" fill="#fff" stroke="#000" stroke-width="1.7"/>
<circle cx="246.0" cy="191.3" r="3.20" fill="#fff" stroke="#000" stroke-width="1.7"/>
<circle cx="259.6" cy="191.3" r="3.20" fill="#fff" stroke="#000" stroke-width="1.7"/>
<circle cx="274.1" cy="192.9" r="3.20" fill="#fff" stroke="#000" stroke-width="1.7"/>
<circle cx="280.5" cy="193.4" r="3.20" fill="#fff" stroke="#000" stroke-width="1.7"/>
<circle cx="310.2" cy="192.1" r="3.20" fill="#fff" stroke="#000" stroke-width="1.7"/>
<circle cx="237.1" cy="194.2" r="3.20" fill="#fff" stroke="#000" stroke-width="1.7"/>
<circle cx="216.2" cy="196.1" r="3.20" fill="#fff" stroke="#000" stroke-width="1.7"/>
<circle cx="223.5" cy="196.9" r="3.20" fill="#fff" stroke="#000" stroke-width="1.7"/>
<circle cx="229.9" cy="195.8" r="3.20" fill="#fff" stroke="#000" stroke-width="1.7"/>
<circle cx="262.0" cy="196.1" r="3.20" fill="#fff" stroke="#000" stroke-width="1.7"/>
<circle cx="314.2" cy="176.9" r="3.20" fill="#fff" stroke="#000" stroke-width="1.7"/>
<circle cx="399.5" cy="58.4" r="3.20" fill="#fff" stroke="#000" stroke-width="1.7"/>
<circle cx="385.1" cy="69.3" r="3.20" fill="#fff" stroke="#000" stroke-width="1.7"/>
<circle cx="389.8" cy="72.7" r="3.20" fill="#fff" stroke="#000" stroke-width="1.7"/>
<circle cx="383.4" cy="78.5" r="3.20" fill="#fff" stroke="#000" stroke-width="1.7"/>
<circle cx="408.6" cy="73.5" r="3.20" fill="#fff" stroke="#000" stroke-width="1.7"/>
<circle cx="354.2" cy="85.3" r="3.20" fill="#fff" stroke="#000" stroke-width="1.7"/>
<circle cx="326.0" cy="89.1" r="3.20" fill="#fff" stroke="#000" stroke-width="1.7"/>
<circle cx="371.3" cy="95.8" r="3.20" fill="#fff" stroke="#000" stroke-width="1.7"/>
<circle cx="327.3" cy="97.0" r="3.20" fill="#fff" stroke="#000" stroke-width="1.7"/>
<circle cx="406.6" cy="114.6" r="3.20" fill="#fff" stroke="#000" stroke-width="1.7"/>
<circle cx="370.0" cy="120.0" r="3.20" fill="#fff" stroke="#000" stroke-width="1.7"/>
<circle cx="326.8" cy="105.4" r="3.20" fill="#fff" stroke="#000" stroke-width="1.7"/>
<circle cx="334.4" cy="107.9" r="3.20" fill="#fff" stroke="#000" stroke-width="1.7"/>
<circle cx="340.3" cy="107.9" r="3.20" fill="#fff" stroke="#000" stroke-width="1.7"/>
<circle cx="337.4" cy="112.4" r="3.20" fill="#fff" stroke="#000" stroke-width="1.7"/>
<circle cx="347.0" cy="111.8" r="3.20" fill="#fff" stroke="#000" stroke-width="1.7"/>
<circle cx="319.3" cy="120.8" r="3.20" fill="#fff" stroke="#000" stroke-width="1.7"/>
<circle cx="326.8" cy="118.8" r="3.20" fill="#fff" stroke="#000" stroke-width="1.7"/>
<circle cx="333.9" cy="120.8" r="3.20" fill="#fff" stroke="#000" stroke-width="1.7"/>
<circle cx="323.5" cy="125.5" r="3.20" fill="#fff" stroke="#000" stroke-width="1.7"/>
<circle cx="323.8" cy="129.7" r="3.20" fill="#fff" stroke="#000" stroke-width="1.7"/>
<circle cx="318.4" cy="132.3" r="3.20" fill="#fff" stroke="#000" stroke-width="1.7"/>
<circle cx="329.3" cy="137.0" r="3.20" fill="#fff" stroke="#000" stroke-width="1.7"/>
<circle cx="334.0" cy="141.5" r="3.20" fill="#fff" stroke="#000" stroke-width="1.7"/>
<circle cx="340.3" cy="139.0" r="3.20" fill="#fff" stroke="#000" stroke-width="1.7"/>
<circle cx="347.5" cy="135.1" r="3.20" fill="#fff" stroke="#000" stroke-width="1.7"/>
<circle cx="357.9" cy="134.8" r="3.20" fill="#fff" stroke="#000" stroke-width="1.7"/>
<circle cx="362.6" cy="130.2" r="3.20" fill="#fff" stroke="#000" stroke-width="1.7"/>
<circle cx="365.4" cy="141.2" r="3.20" fill="#fff" stroke="#000" stroke-width="1.7"/>
<circle cx="362.9" cy="146.0" r="3.20" fill="#fff" stroke="#000" stroke-width="1.7"/>
<circle cx="316.8" cy="151.2" r="3.20" fill="#fff" stroke="#000" stroke-width="1.7"/>
<circle cx="319.3" cy="151.6" r="3.20" fill="#fff" stroke="#000" stroke-width="1.7"/>
<circle cx="416.1" cy="163.3" r="3.20" fill="#fff" stroke="#000" stroke-width="1.7"/>
<circle cx="318.1" cy="177.9" r="3.20" fill="#fff" stroke="#000" stroke-width="1.7"/>
<circle cx="351.2" cy="178.9" r="3.20" fill="#fff" stroke="#000" stroke-width="1.7"/>
<circle cx="346.1" cy="185.1" r="3.20" fill="#fff" stroke="#000" stroke-width="1.7"/>
<circle cx="362.9" cy="184.3" r="3.20" fill="#fff" stroke="#000" stroke-width="1.7"/>
<circle cx="357.0" cy="189.0" r="3.20" fill="#fff" stroke="#000" stroke-width="1.7"/>
<circle cx="325.1" cy="188.5" r="3.20" fill="#fff" stroke="#000" stroke-width="1.7"/>
<circle cx="334.9" cy="191.8" r="3.20" fill="#fff" stroke="#000" stroke-width="1.7"/>
<circle cx="347.0" cy="196.0" r="3.20" fill="#fff" stroke="#000" stroke-width="1.7"/>
<circle cx="225.8" cy="124.0" r="3.20" fill="#fff" stroke="#000" stroke-width="1.7"/>
<circle cx="220.7" cy="122.2" r="3.20" fill="#fff" stroke="#000" stroke-width="1.7"/>
<circle cx="226.3" cy="168.1" r="3.20" fill="#fff" stroke="#000" stroke-width="1.7"/>
<circle cx="217.1" cy="113.8" r="3.20" fill="#fff" stroke="#000" stroke-width="1.7"/>
<circle cx="231.3" cy="180.7" r="3.20" fill="#fff" stroke="#000" stroke-width="1.7"/>
<circle cx="223.0" cy="156.7" r="3.20" fill="#fff" stroke="#000" stroke-width="1.7"/>
<circle cx="229.0" cy="148.8" r="3.20" fill="#fff" stroke="#000" stroke-width="1.7"/>
<circle cx="219.9" cy="138.5" r="3.20" fill="#fff" stroke="#000" stroke-width="1.7"/>
<circle cx="217.2" cy="110.2" r="3.20" fill="#fff" stroke="#000" stroke-width="1.7"/>
<circle cx="224.9" cy="145.5" r="3.20" fill="#fff" stroke="#000" stroke-width="1.7"/>
<circle cx="223.4" cy="113.6" r="3.20" fill="#fff" stroke="#000" stroke-width="1.7"/>
<circle cx="228.6" cy="143.8" r="3.20" fill="#fff" stroke="#000" stroke-width="1.7"/>
<circle cx="220.0" cy="163.1" r="3.20" fill="#fff" stroke="#000" stroke-width="1.7"/>
<circle cx="222.6" cy="153.1" r="3.20" fill="#fff" stroke="#000" stroke-width="1.7"/>
<circle cx="225.7" cy="173.8" r="3.20" fill="#fff" stroke="#000" stroke-width="1.7"/>
<circle cx="220.2" cy="158.4" r="3.20" fill="#fff" stroke="#000" stroke-width="1.7"/>
<circle cx="230.1" cy="190.6" r="3.20" fill="#fff" stroke="#000" stroke-width="1.7"/>
<circle cx="217.5" cy="166.2" r="3.20" fill="#fff" stroke="#000" stroke-width="1.7"/>
<circle cx="213.0" cy="114.4" r="3.20" fill="#fff" stroke="#000" stroke-width="1.7"/>
<circle cx="215.2" cy="176.9" r="3.20" fill="#fff" stroke="#000" stroke-width="1.7"/>
<circle cx="229.7" cy="136.1" r="3.20" fill="#fff" stroke="#000" stroke-width="1.7"/>
<circle cx="235.3" cy="173.8" r="3.20" fill="#fff" stroke="#000" stroke-width="1.7"/>
<circle cx="237.4" cy="185.9" r="3.20" fill="#fff" stroke="#000" stroke-width="1.7"/>
<circle cx="239.3" cy="172.8" r="3.20" fill="#fff" stroke="#000" stroke-width="1.7"/>
<circle cx="225.2" cy="160.0" r="3.20" fill="#fff" stroke="#000" stroke-width="1.7"/>
<circle cx="235.6" cy="152.1" r="3.20" fill="#fff" stroke="#000" stroke-width="1.7"/>
<circle cx="234.3" cy="178.7" r="3.20" fill="#fff" stroke="#000" stroke-width="1.7"/>
<circle cx="228.3" cy="170.6" r="3.20" fill="#fff" stroke="#000" stroke-width="1.7"/>
<circle cx="225.0" cy="179.2" r="3.20" fill="#fff" stroke="#000" stroke-width="1.7"/>
<line x1="207.2" y1="1" x2="207.2" y2="202.70000000000002" stroke="#000" stroke-width="1.6"/>
<line x1="206.39999999999998" y1="201.9" x2="418" y2="201.9" stroke="#000" stroke-width="1.6"/>
<line x1="207.2" y1="201.9" x2="207.2" y2="204.70000000000002" stroke="#000" stroke-width="1.4"/>
<text x="207.2" y="211.9" font-size="5.4" text-anchor="middle" fill="#444">0</text>
<line x1="265.2" y1="201.9" x2="265.2" y2="204.70000000000002" stroke="#000" stroke-width="1.4"/>
<text x="265.2" y="211.9" font-size="5.4" text-anchor="middle" fill="#444">1</text>
<line x1="323.2" y1="201.9" x2="323.2" y2="204.70000000000002" stroke="#000" stroke-width="1.4"/>
<text x="323.2" y="211.9" font-size="5.4" text-anchor="middle" fill="#444">2</text>
<line x1="381.2" y1="201.9" x2="381.2" y2="204.70000000000002" stroke="#000" stroke-width="1.4"/>
<text x="381.2" y="211.9" font-size="5.4" text-anchor="middle" fill="#444">3</text>
<line x1="204.39999999999998" y1="201.9" x2="207.2" y2="201.9" stroke="#000" stroke-width="1.4"/>
<text x="202.2" y="203.70000000000002" font-size="5.4" text-anchor="end" fill="#444">0</text>
<line x1="204.39999999999998" y1="146.10000000000002" x2="207.2" y2="146.10000000000002" stroke="#000" stroke-width="1.4"/>
<text x="202.2" y="147.90000000000003" font-size="5.4" text-anchor="end" fill="#444">1</text>
<line x1="204.39999999999998" y1="90.30000000000001" x2="207.2" y2="90.30000000000001" stroke="#000" stroke-width="1.4"/>
<text x="202.2" y="92.10000000000001" font-size="5.4" text-anchor="end" fill="#444">2</text>
<line x1="204.39999999999998" y1="34.50000000000003" x2="207.2" y2="34.50000000000003" stroke="#000" stroke-width="1.4"/>
<text x="202.2" y="36.300000000000026" font-size="5.4" text-anchor="end" fill="#444">3</text>
<rect x="207.2" y="1" width="105.40000000000003" height="31" fill="#fff" stroke="#000" stroke-width="1.6"/>
<circle cx="222.0" cy="10.5" r="4.00" fill="#000"/>
<circle cx="222.0" cy="22.4" r="4.00" fill="#fff" stroke="#000" stroke-width="1.7"/>
<text x="238.3" y="15.396" font-size="13.6" text-anchor="start">Control</text>
<text x="238.3" y="27.296" font-size="13.6" text-anchor="start" font-style="italic">met-2(null)</text>
<text x="270.5" y="227" font-size="14" text-anchor="start">Allele 1 Signal</text>
<text x="192.3" y="142" font-size="14" text-anchor="start" transform="rotate(-90 192.3 142)">Allele 2 Signal</text>
<circle cx="233.3" cy="413.6" r="3.80" fill="#000"/>
<circle cx="271.0" cy="408.8" r="3.80" fill="#000"/>
<circle cx="280.7" cy="406.1" r="3.80" fill="#000"/>
<circle cx="275.8" cy="416.8" r="3.80" fill="#000"/>
<circle cx="314.4" cy="392.7" r="3.80" fill="#000"/>
<circle cx="316.8" cy="397.6" r="3.80" fill="#000"/>
<circle cx="304.7" cy="410.4" r="3.80" fill="#000"/>
<circle cx="244.5" cy="441.7" r="3.80" fill="#000"/>
<circle cx="250.1" cy="440.1" r="3.80" fill="#000"/>
<circle cx="262.2" cy="441.7" r="3.80" fill="#000"/>
<circle cx="267.8" cy="436.9" r="3.80" fill="#000"/>
<circle cx="267.0" cy="444.9" r="3.80" fill="#000"/>
<circle cx="280.7" cy="435.3" r="3.80" fill="#000"/>
<circle cx="287.1" cy="433.7" r="3.80" fill="#000"/>
<circle cx="299.9" cy="433.7" r="3.80" fill="#000"/>
<circle cx="282.3" cy="445.7" r="3.80" fill="#000"/>
<circle cx="288.7" cy="444.9" r="3.80" fill="#000"/>
<circle cx="285.5" cy="460.2" r="3.80" fill="#000"/>
<circle cx="298.3" cy="461.0" r="3.80" fill="#000"/>
<circle cx="299.1" cy="464.2" r="3.80" fill="#000"/>
<circle cx="240.5" cy="454.6" r="3.80" fill="#000"/>
<circle cx="232.5" cy="451.4" r="3.80" fill="#000"/>
<circle cx="238.9" cy="467.4" r="3.80" fill="#000"/>
<circle cx="242.1" cy="473.8" r="3.80" fill="#000"/>
<circle cx="258.2" cy="457.8" r="3.80" fill="#000"/>
<circle cx="266.2" cy="454.6" r="3.80" fill="#000"/>
<circle cx="280.7" cy="451.4" r="3.80" fill="#000"/>
<circle cx="227.7" cy="464.2" r="3.80" fill="#000"/>
<circle cx="234.1" cy="477.0" r="3.80" fill="#000"/>
<circle cx="272.6" cy="419.2" r="3.80" fill="#000"/>
<circle cx="279.1" cy="419.2" r="3.80" fill="#000"/>
<circle cx="288.7" cy="419.2" r="3.80" fill="#000"/>
<circle cx="418.2" cy="333.8" r="3.80" fill="#000"/>
<circle cx="330.4" cy="370.4" r="3.80" fill="#000"/>
<circle cx="389.7" cy="373.4" r="3.80" fill="#000"/>
<circle cx="366.2" cy="383.8" r="3.80" fill="#000"/>
<circle cx="341.9" cy="393.9" r="3.80" fill="#000"/>
<circle cx="344.4" cy="396.4" r="3.80" fill="#000"/>
<circle cx="338.5" cy="397.2" r="3.80" fill="#000"/>
<circle cx="326.8" cy="398.9" r="3.80" fill="#000"/>
<circle cx="316.7" cy="393.9" r="3.80" fill="#000"/>
<circle cx="325.1" cy="407.3" r="3.80" fill="#000"/>
<circle cx="329.3" cy="413.2" r="3.80" fill="#000"/>
<circle cx="337.7" cy="413.2" r="3.80" fill="#000"/>
<circle cx="360.3" cy="403.1" r="3.80" fill="#000"/>
<circle cx="357.8" cy="406.5" r="3.80" fill="#000"/>
<circle cx="361.2" cy="409.8" r="3.80" fill="#000"/>
<circle cx="345.2" cy="426.1" r="3.80" fill="#000"/>
<circle cx="360.0" cy="424.1" r="3.80" fill="#000"/>
<circle cx="355.3" cy="438.3" r="3.80" fill="#000"/>
<circle cx="325.1" cy="429.1" r="3.80" fill="#000"/>
<circle cx="329.3" cy="428.3" r="3.80" fill="#000"/>
<circle cx="316.7" cy="420.7" r="3.80" fill="#000"/>
<circle cx="320.0" cy="425.8" r="3.80" fill="#000"/>
<circle cx="321.7" cy="400.6" r="3.80" fill="#000"/>
<circle cx="242.0" cy="438.4" r="3.80" fill="#000"/>
<circle cx="279.4" cy="427.6" r="3.80" fill="#000"/>
<circle cx="274.6" cy="423.0" r="3.80" fill="#000"/>
<circle cx="258.2" cy="435.7" r="3.80" fill="#000"/>
<circle cx="311.0" cy="407.4" r="3.80" fill="#000"/>
<circle cx="264.8" cy="431.9" r="3.80" fill="#000"/>
<circle cx="230.2" cy="447.8" r="3.80" fill="#000"/>
<circle cx="273.6" cy="427.1" r="3.80" fill="#000"/>
<circle cx="259.6" cy="439.4" r="3.80" fill="#000"/>
<circle cx="304.6" cy="406.5" r="3.80" fill="#000"/>
<circle cx="300.2" cy="406.1" r="3.80" fill="#000"/>
<circle cx="269.6" cy="432.8" r="3.80" fill="#000"/>
<circle cx="244.1" cy="434.6" r="3.80" fill="#000"/>
<circle cx="261.0" cy="429.0" r="3.80" fill="#000"/>
<circle cx="291.9" cy="411.9" r="3.80" fill="#000"/>
<circle cx="265.3" cy="427.7" r="3.80" fill="#000"/>
<circle cx="256.9" cy="425.8" r="3.80" fill="#000"/>
<circle cx="282.4" cy="420.0" r="3.80" fill="#000"/>
<circle cx="255.2" cy="432.8" r="3.80" fill="#000"/>
<circle cx="298.1" cy="422.4" r="3.80" fill="#000"/>
<circle cx="261.7" cy="434.1" r="3.80" fill="#000"/>
<circle cx="301.8" cy="419.5" r="3.80" fill="#000"/>
<circle cx="234.3" cy="442.8" r="3.80" fill="#000"/>
<circle cx="250.3" cy="437.7" r="3.80" fill="#000"/>
<circle cx="309.8" cy="411.9" r="3.80" fill="#000"/>
<circle cx="233.3" cy="455.4" r="3.80" fill="#000"/>
<circle cx="246.4" cy="448.2" r="3.80" fill="#000"/>
<circle cx="273.7" cy="436.6" r="3.80" fill="#000"/>
<circle cx="247.2" cy="443.0" r="3.80" fill="#000"/>
<circle cx="277.4" cy="421.8" r="3.80" fill="#000"/>
<circle cx="288.1" cy="408.4" r="3.80" fill="#000"/>
<circle cx="258.6" cy="432.4" r="3.80" fill="#000"/>
<circle cx="302.7" cy="416.7" r="3.80" fill="#000"/>
<circle cx="249.2" cy="445.3" r="3.80" fill="#000"/>
<circle cx="306.1" cy="414.1" r="3.80" fill="#000"/>
<circle cx="232.8" cy="447.8" r="3.80" fill="#000"/>
<circle cx="285.7" cy="421.8" r="3.80" fill="#000"/>
<circle cx="281.8" cy="432.5" r="3.80" fill="#000"/>
<circle cx="268.6" cy="427.3" r="3.80" fill="#000"/>
<circle cx="232.6" cy="445.3" r="3.80" fill="#000"/>
<circle cx="236.5" cy="449.4" r="3.80" fill="#000"/>
<circle cx="242.3" cy="444.5" r="3.80" fill="#000"/>
<circle cx="287.7" cy="406.0" r="3.80" fill="#000"/>
<circle cx="289.8" cy="422.0" r="3.80" fill="#000"/>
<circle cx="288.6" cy="412.5" r="3.80" fill="#000"/>
<circle cx="246.8" cy="436.7" r="3.80" fill="#000"/>
<circle cx="306.1" cy="400.9" r="3.80" fill="#000"/>
<circle cx="292.9" cy="418.5" r="3.80" fill="#000"/>
<circle cx="296.0" cy="418.5" r="3.80" fill="#000"/>
<circle cx="239.1" cy="474.0" r="3.80" fill="#000"/>
<circle cx="244.4" cy="477.1" r="3.80" fill="#000"/>
<circle cx="217.6" cy="457.0" r="3.80" fill="#000"/>
<circle cx="259.6" cy="480.2" r="3.80" fill="#000"/>
<circle cx="251.7" cy="487.9" r="3.80" fill="#000"/>
<circle cx="241.9" cy="463.2" r="3.80" fill="#000"/>
<circle cx="263.4" cy="474.2" r="3.80" fill="#000"/>
<circle cx="231.6" cy="462.0" r="3.80" fill="#000"/>
<circle cx="251.0" cy="469.7" r="3.80" fill="#000"/>
<circle cx="239.3" cy="470.9" r="3.80" fill="#000"/>
<circle cx="260.8" cy="471.4" r="3.80" fill="#000"/>
<circle cx="247.8" cy="467.4" r="3.80" fill="#000"/>
<circle cx="258.3" cy="486.7" r="3.80" fill="#000"/>
<circle cx="256.3" cy="473.7" r="3.80" fill="#000"/>
<circle cx="270.0" cy="479.1" r="3.80" fill="#000"/>
<circle cx="242.6" cy="467.4" r="3.80" fill="#000"/>
<circle cx="267.0" cy="485.7" r="3.80" fill="#000"/>
<circle cx="251.8" cy="482.2" r="3.80" fill="#000"/>
<circle cx="227.8" cy="457.2" r="3.80" fill="#000"/>
<circle cx="237.3" cy="462.4" r="3.80" fill="#000"/>
<circle cx="250.6" cy="466.9" r="3.80" fill="#000"/>
<circle cx="248.5" cy="478.3" r="3.80" fill="#000"/>
<circle cx="247.5" cy="470.5" r="3.80" fill="#000"/>
<circle cx="234.1" cy="370.3" r="3.20" fill="#fff" stroke="#000" stroke-width="1.7"/>
<circle cx="246.1" cy="368.2" r="3.20" fill="#fff" stroke="#000" stroke-width="1.7"/>
<circle cx="274.2" cy="376.4" r="3.20" fill="#fff" stroke="#000" stroke-width="1.7"/>
<circle cx="283.9" cy="369.5" r="3.20" fill="#fff" stroke="#000" stroke-width="1.7"/>
<circle cx="310.4" cy="367.4" r="3.20" fill="#fff" stroke="#000" stroke-width="1.7"/>
<circle cx="319.2" cy="378.3" r="3.20" fill="#fff" stroke="#000" stroke-width="1.7"/>
<circle cx="256.3" cy="389.2" r="3.20" fill="#fff" stroke="#000" stroke-width="1.7"/>
<circle cx="220.4" cy="399.2" r="3.20" fill="#fff" stroke="#000" stroke-width="1.7"/>
<circle cx="226.1" cy="401.6" r="3.20" fill="#fff" stroke="#000" stroke-width="1.7"/>
<circle cx="242.9" cy="401.6" r="3.20" fill="#fff" stroke="#000" stroke-width="1.7"/>
<circle cx="263.8" cy="401.3" r="3.20" fill="#fff" stroke="#000" stroke-width="1.7"/>
<circle cx="235.7" cy="407.7" r="3.20" fill="#fff" stroke="#000" stroke-width="1.7"/>
<circle cx="222.8" cy="409.3" r="3.20" fill="#fff" stroke="#000" stroke-width="1.7"/>
<circle cx="277.4" cy="404.0" r="3.20" fill="#fff" stroke="#000" stroke-width="1.7"/>
<circle cx="295.1" cy="403.2" r="3.20" fill="#fff" stroke="#000" stroke-width="1.7"/>
<circle cx="311.2" cy="400.0" r="3.20" fill="#fff" stroke="#000" stroke-width="1.7"/>
<circle cx="292.7" cy="410.1" r="3.20" fill="#fff" stroke="#000" stroke-width="1.7"/>
<circle cx="297.5" cy="412.0" r="3.20" fill="#fff" stroke="#000" stroke-width="1.7"/>
<circle cx="220.4" cy="416.8" r="3.20" fill="#fff" stroke="#000" stroke-width="1.7"/>
<circle cx="254.2" cy="418.4" r="3.20" fill="#fff" stroke="#000" stroke-width="1.7"/>
<circle cx="284.7" cy="415.7" r="3.20" fill="#fff" stroke="#000" stroke-width="1.7"/>
<circle cx="308.8" cy="414.4" r="3.20" fill="#fff" stroke="#000" stroke-width="1.7"/>
<circle cx="316.0" cy="420.0" r="3.20" fill="#fff" stroke="#000" stroke-width="1.7"/>
<circle cx="306.4" cy="421.6" r="3.20" fill="#fff" stroke="#000" stroke-width="1.7"/>
<circle cx="312.8" cy="424.1" r="3.20" fill="#fff" stroke="#000" stroke-width="1.7"/>
<circle cx="230.1" cy="424.1" r="3.20" fill="#fff" stroke="#000" stroke-width="1.7"/>
<circle cx="226.1" cy="427.3" r="3.20" fill="#fff" stroke="#000" stroke-width="1.7"/>
<circle cx="232.5" cy="428.9" r="3.20" fill="#fff" stroke="#000" stroke-width="1.7"/>
<circle cx="222.0" cy="428.1" r="3.20" fill="#fff" stroke="#000" stroke-width="1.7"/>
<circle cx="217.2" cy="430.5" r="3.20" fill="#fff" stroke="#000" stroke-width="1.7"/>
<circle cx="219.6" cy="435.3" r="3.20" fill="#fff" stroke="#000" stroke-width="1.7"/>
<circle cx="235.7" cy="436.6" r="3.20" fill="#fff" stroke="#000" stroke-width="1.7"/>
<circle cx="225.3" cy="440.1" r="3.20" fill="#fff" stroke="#000" stroke-width="1.7"/>
<circle cx="218.8" cy="441.7" r="3.20" fill="#fff" stroke="#000" stroke-width="1.7"/>
<circle cx="277.4" cy="426.5" r="3.20" fill="#fff" stroke="#000" stroke-width="1.7"/>
<circle cx="284.7" cy="424.9" r="3.20" fill="#fff" stroke="#000" stroke-width="1.7"/>
<circle cx="291.1" cy="428.9" r="3.20" fill="#fff" stroke="#000" stroke-width="1.7"/>
<circle cx="272.6" cy="431.3" r="3.20" fill="#fff" stroke="#000" stroke-width="1.7"/>
<circle cx="285.5" cy="430.5" r="3.20" fill="#fff" stroke="#000" stroke-width="1.7"/>
<circle cx="295.1" cy="425.7" r="3.20" fill="#fff" stroke="#000" stroke-width="1.7"/>
<circle cx="318.4" cy="433.7" r="3.20" fill="#fff" stroke="#000" stroke-width="1.7"/>
<circle cx="254.2" cy="436.1" r="3.20" fill="#fff" stroke="#000" stroke-width="1.7"/>
<circle cx="261.4" cy="436.1" r="3.20" fill="#fff" stroke="#000" stroke-width="1.7"/>
<circle cx="280.7" cy="440.9" r="3.20" fill="#fff" stroke="#000" stroke-width="1.7"/>
<circle cx="299.9" cy="440.9" r="3.20" fill="#fff" stroke="#000" stroke-width="1.7"/>
<circle cx="305.6" cy="445.7" r="3.20" fill="#fff" stroke="#000" stroke-width="1.7"/>
<circle cx="234.1" cy="446.5" r="3.20" fill="#fff" stroke="#000" stroke-width="1.7"/>
<circle cx="219.6" cy="451.4" r="3.20" fill="#fff" stroke="#000" stroke-width="1.7"/>
<circle cx="251.0" cy="447.8" r="3.20" fill="#fff" stroke="#000" stroke-width="1.7"/>
<circle cx="258.2" cy="448.1" r="3.20" fill="#fff" stroke="#000" stroke-width="1.7"/>
<circle cx="271.8" cy="447.3" r="3.20" fill="#fff" stroke="#000" stroke-width="1.7"/>
<circle cx="243.7" cy="451.4" r="3.20" fill="#fff" stroke="#000" stroke-width="1.7"/>
<circle cx="223.7" cy="453.8" r="3.20" fill="#fff" stroke="#000" stroke-width="1.7"/>
<circle cx="295.1" cy="451.4" r="3.20" fill="#fff" stroke="#000" stroke-width="1.7"/>
<circle cx="303.1" cy="453.0" r="3.20" fill="#fff" stroke="#000" stroke-width="1.7"/>
<circle cx="222.8" cy="457.8" r="3.20" fill="#fff" stroke="#000" stroke-width="1.7"/>
<circle cx="231.7" cy="460.2" r="3.20" fill="#fff" stroke="#000" stroke-width="1.7"/>
<circle cx="218.0" cy="462.6" r="3.20" fill="#fff" stroke="#000" stroke-width="1.7"/>
<circle cx="246.9" cy="464.2" r="3.20" fill="#fff" stroke="#000" stroke-width="1.7"/>
<circle cx="254.2" cy="465.0" r="3.20" fill="#fff" stroke="#000" stroke-width="1.7"/>
<circle cx="266.2" cy="465.8" r="3.20" fill="#fff" stroke="#000" stroke-width="1.7"/>
<circle cx="275.8" cy="464.2" r="3.20" fill="#fff" stroke="#000" stroke-width="1.7"/>
<circle cx="293.5" cy="466.6" r="3.20" fill="#fff" stroke="#000" stroke-width="1.7"/>
<circle cx="308.8" cy="468.2" r="3.20" fill="#fff" stroke="#000" stroke-width="1.7"/>
<circle cx="237.3" cy="467.4" r="3.20" fill="#fff" stroke="#000" stroke-width="1.7"/>
<circle cx="222.8" cy="469.0" r="3.20" fill="#fff" stroke="#000" stroke-width="1.7"/>
<circle cx="227.7" cy="474.6" r="3.20" fill="#fff" stroke="#000" stroke-width="1.7"/>
<circle cx="217.2" cy="472.2" r="3.20" fill="#fff" stroke="#000" stroke-width="1.7"/>
<circle cx="230.9" cy="472.2" r="3.20" fill="#fff" stroke="#000" stroke-width="1.7"/>
<circle cx="296.7" cy="473.0" r="3.20" fill="#fff" stroke="#000" stroke-width="1.7"/>
<circle cx="269.4" cy="472.2" r="3.20" fill="#fff" stroke="#000" stroke-width="1.7"/>
<circle cx="306.4" cy="474.6" r="3.20" fill="#fff" stroke="#000" stroke-width="1.7"/>
<circle cx="287.1" cy="474.6" r="3.20" fill="#fff" stroke="#000" stroke-width="1.7"/>
<circle cx="260.6" cy="476.2" r="3.20" fill="#fff" stroke="#000" stroke-width="1.7"/>
<circle cx="240.5" cy="480.3" r="3.20" fill="#fff" stroke="#000" stroke-width="1.7"/>
<circle cx="221.2" cy="481.1" r="3.20" fill="#fff" stroke="#000" stroke-width="1.7"/>
<circle cx="247.7" cy="481.9" r="3.20" fill="#fff" stroke="#000" stroke-width="1.7"/>
<circle cx="286.3" cy="478.3" r="3.20" fill="#fff" stroke="#000" stroke-width="1.7"/>
<circle cx="308.0" cy="480.3" r="3.20" fill="#fff" stroke="#000" stroke-width="1.7"/>
<circle cx="316.8" cy="477.9" r="3.20" fill="#fff" stroke="#000" stroke-width="1.7"/>
<circle cx="224.5" cy="485.9" r="3.20" fill="#fff" stroke="#000" stroke-width="1.7"/>
<circle cx="231.7" cy="484.3" r="3.20" fill="#fff" stroke="#000" stroke-width="1.7"/>
<circle cx="261.4" cy="484.8" r="3.20" fill="#fff" stroke="#000" stroke-width="1.7"/>
<circle cx="273.4" cy="484.3" r="3.20" fill="#fff" stroke="#000" stroke-width="1.7"/>
<circle cx="277.4" cy="483.5" r="3.20" fill="#fff" stroke="#000" stroke-width="1.7"/>
<circle cx="283.1" cy="482.7" r="3.20" fill="#fff" stroke="#000" stroke-width="1.7"/>
<circle cx="290.3" cy="485.1" r="3.20" fill="#fff" stroke="#000" stroke-width="1.7"/>
<circle cx="295.9" cy="481.9" r="3.20" fill="#fff" stroke="#000" stroke-width="1.7"/>
<circle cx="255.0" cy="483.5" r="3.20" fill="#fff" stroke="#000" stroke-width="1.7"/>
<circle cx="355.8" cy="378.8" r="3.20" fill="#fff" stroke="#000" stroke-width="1.7"/>
<circle cx="421.9" cy="388.0" r="3.20" fill="#fff" stroke="#000" stroke-width="1.7"/>
<circle cx="414.0" cy="397.2" r="3.20" fill="#fff" stroke="#000" stroke-width="1.7"/>
<circle cx="332.6" cy="393.9" r="3.20" fill="#fff" stroke="#000" stroke-width="1.7"/>
<circle cx="319.7" cy="396.4" r="3.20" fill="#fff" stroke="#000" stroke-width="1.7"/>
<circle cx="375.4" cy="402.8" r="3.20" fill="#fff" stroke="#000" stroke-width="1.7"/>
<circle cx="386.0" cy="402.8" r="3.20" fill="#fff" stroke="#000" stroke-width="1.7"/>
<circle cx="396.9" cy="408.5" r="3.20" fill="#fff" stroke="#000" stroke-width="1.7"/>
<circle cx="320.5" cy="407.3" r="3.20" fill="#fff" stroke="#000" stroke-width="1.7"/>
<circle cx="336.0" cy="409.0" r="3.20" fill="#fff" stroke="#000" stroke-width="1.7"/>
<circle cx="347.4" cy="407.0" r="3.20" fill="#fff" stroke="#000" stroke-width="1.7"/>
<circle cx="349.4" cy="411.5" r="3.20" fill="#fff" stroke="#000" stroke-width="1.7"/>
<circle cx="358.3" cy="406.5" r="3.20" fill="#fff" stroke="#000" stroke-width="1.7"/>
<circle cx="367.9" cy="410.1" r="3.20" fill="#fff" stroke="#000" stroke-width="1.7"/>
<circle cx="321.7" cy="414.0" r="3.20" fill="#fff" stroke="#000" stroke-width="1.7"/>
<circle cx="332.3" cy="434.7" r="3.20" fill="#fff" stroke="#000" stroke-width="1.7"/>
<circle cx="390.9" cy="434.7" r="3.20" fill="#fff" stroke="#000" stroke-width="1.7"/>
<circle cx="328.1" cy="448.4" r="3.20" fill="#fff" stroke="#000" stroke-width="1.7"/>
<circle cx="382.5" cy="463.0" r="3.20" fill="#fff" stroke="#000" stroke-width="1.7"/>
<circle cx="324.2" cy="468.9" r="3.20" fill="#fff" stroke="#000" stroke-width="1.7"/>
<circle cx="419.9" cy="471.1" r="3.20" fill="#fff" stroke="#000" stroke-width="1.7"/>
<circle cx="330.6" cy="484.0" r="3.20" fill="#fff" stroke="#000" stroke-width="1.7"/>
<circle cx="354.8" cy="483.2" r="3.20" fill="#fff" stroke="#000" stroke-width="1.7"/>
<circle cx="358.3" cy="482.0" r="3.20" fill="#fff" stroke="#000" stroke-width="1.7"/>
<line x1="214" y1="326.6" x2="214" y2="491.3" stroke="#000" stroke-width="1.6"/>
<line x1="213.2" y1="490.5" x2="425" y2="490.5" stroke="#000" stroke-width="1.6"/>
<line x1="214.0" y1="490.5" x2="214.0" y2="493.3" stroke="#000" stroke-width="1.4"/>
<text x="214.0" y="500.5" font-size="6.2" text-anchor="middle" fill="#444">0</text>
<line x1="266.4" y1="490.5" x2="266.4" y2="493.3" stroke="#000" stroke-width="1.4"/>
<text x="266.4" y="500.5" font-size="6.2" text-anchor="middle" fill="#444">1</text>
<line x1="318.8" y1="490.5" x2="318.8" y2="493.3" stroke="#000" stroke-width="1.4"/>
<text x="318.8" y="500.5" font-size="6.2" text-anchor="middle" fill="#444">2</text>
<line x1="371.2" y1="490.5" x2="371.2" y2="493.3" stroke="#000" stroke-width="1.4"/>
<text x="371.2" y="500.5" font-size="6.2" text-anchor="middle" fill="#444">3</text>
<line x1="423.6" y1="490.5" x2="423.6" y2="493.3" stroke="#000" stroke-width="1.4"/>
<text x="423.6" y="500.5" font-size="6.2" text-anchor="middle" fill="#444">4</text>
<line x1="211.2" y1="490.5" x2="214" y2="490.5" stroke="#000" stroke-width="1.4"/>
<text x="209" y="492.3" font-size="6.2" text-anchor="end" fill="#444">0</text>
<line x1="211.2" y1="449.4" x2="214" y2="449.4" stroke="#000" stroke-width="1.4"/>
<text x="209" y="451.2" font-size="6.2" text-anchor="end" fill="#444">1</text>
<line x1="211.2" y1="408.3" x2="214" y2="408.3" stroke="#000" stroke-width="1.4"/>
<text x="209" y="410.1" font-size="6.2" text-anchor="end" fill="#444">2</text>
<line x1="211.2" y1="367.2" x2="214" y2="367.2" stroke="#000" stroke-width="1.4"/>
<text x="209" y="369.0" font-size="6.2" text-anchor="end" fill="#444">3</text>
<line x1="211.2" y1="326.1" x2="214" y2="326.1" stroke="#000" stroke-width="1.4"/>
<text x="209" y="327.90000000000003" font-size="6.2" text-anchor="end" fill="#444">4</text>
<rect x="214" y="326.6" width="113.80000000000001" height="29.899999999999977" fill="#fff" stroke="#000" stroke-width="1.6"/>
<circle cx="228.7" cy="335.4" r="4.00" fill="#000"/>
<circle cx="228.7" cy="347.1" r="4.00" fill="#fff" stroke="#000" stroke-width="1.7"/>
<text x="244.7" y="339.972" font-size="12.7" text-anchor="start">Control</text>
<text x="244.7" y="351.672" font-size="12.7" text-anchor="start" font-style="italic">met-2(RNAi)</text>
<text x="260.9" y="511.9" font-size="14" text-anchor="start">Allele 1 Signal</text>
<text x="201.5" y="442" font-size="14" text-anchor="start" transform="rotate(-90 201.5 442)">Allele 2 Signal</text>
<circle cx="227.7" cy="774.1" r="3.80" fill="#000"/>
<circle cx="234.1" cy="766.9" r="3.80" fill="#000"/>
<circle cx="242.1" cy="762.0" r="3.80" fill="#000"/>
<circle cx="246.9" cy="755.6" r="3.80" fill="#000"/>
<circle cx="253.4" cy="746.0" r="3.80" fill="#000"/>
<circle cx="259.8" cy="739.6" r="3.80" fill="#000"/>
<circle cx="266.2" cy="739.6" r="3.80" fill="#000"/>
<circle cx="274.2" cy="731.5" r="3.80" fill="#000"/>
<circle cx="282.3" cy="729.9" r="3.80" fill="#000"/>
<circle cx="290.3" cy="725.1" r="3.80" fill="#000"/>
<circle cx="298.3" cy="717.1" r="3.80" fill="#000"/>
<circle cx="301.5" cy="710.7" r="3.80" fill="#000"/>
<circle cx="309.6" cy="710.7" r="3.80" fill="#000"/>
<circle cx="314.4" cy="715.5" r="3.80" fill="#000"/>
<circle cx="319.2" cy="701.0" r="3.80" fill="#000"/>
<circle cx="317.6" cy="717.1" r="3.80" fill="#000"/>
<circle cx="343.5" cy="686.2" r="3.80" fill="#000"/>
<circle cx="328.4" cy="695.4" r="3.80" fill="#000"/>
<circle cx="324.2" cy="697.9" r="3.80" fill="#000"/>
<circle cx="322.6" cy="703.0" r="3.80" fill="#000"/>
<circle cx="316.7" cy="712.2" r="3.80" fill="#000"/>
<circle cx="325.1" cy="701.3" r="3.80" fill="#000"/>
<circle cx="230.8" cy="766.1" r="3.80" fill="#000"/>
<circle cx="244.5" cy="755.1" r="3.80" fill="#000"/>
<circle cx="227.6" cy="771.6" r="3.80" fill="#000"/>
<circle cx="236.9" cy="766.9" r="3.80" fill="#000"/>
<circle cx="248.5" cy="749.5" r="3.80" fill="#000"/>
<circle cx="226.8" cy="765.0" r="3.80" fill="#000"/>
<circle cx="228.3" cy="768.1" r="3.80" fill="#000"/>
<circle cx="241.5" cy="766.1" r="3.80" fill="#000"/>
<circle cx="239.9" cy="753.8" r="3.80" fill="#000"/>
<circle cx="251.5" cy="751.1" r="3.80" fill="#000"/>
<circle cx="245.0" cy="752.4" r="3.80" fill="#000"/>
<circle cx="255.5" cy="748.6" r="3.80" fill="#000"/>
<circle cx="244.9" cy="758.6" r="3.80" fill="#000"/>
<circle cx="250.6" cy="759.0" r="3.80" fill="#000"/>
<circle cx="260.1" cy="742.9" r="3.80" fill="#000"/>
<circle cx="236.1" cy="759.1" r="3.80" fill="#000"/>
<circle cx="246.6" cy="744.2" r="3.80" fill="#000"/>
<circle cx="291.0" cy="727.8" r="3.80" fill="#000"/>
<circle cx="292.9" cy="721.6" r="3.80" fill="#000"/>
<circle cx="276.9" cy="725.7" r="3.80" fill="#000"/>
<circle cx="275.4" cy="722.6" r="3.80" fill="#000"/>
<circle cx="264.9" cy="746.5" r="3.80" fill="#000"/>
<circle cx="279.4" cy="729.2" r="3.80" fill="#000"/>
<circle cx="283.0" cy="725.8" r="3.80" fill="#000"/>
<circle cx="271.3" cy="728.6" r="3.80" fill="#000"/>
<circle cx="298.4" cy="720.9" r="3.80" fill="#000"/>
<circle cx="254.0" cy="740.8" r="3.80" fill="#000"/>
<circle cx="272.1" cy="741.5" r="3.80" fill="#000"/>
<circle cx="269.5" cy="740.8" r="3.80" fill="#000"/>
<circle cx="295.5" cy="722.8" r="3.80" fill="#000"/>
<circle cx="268.3" cy="732.4" r="3.80" fill="#000"/>
<circle cx="286.1" cy="723.0" r="3.80" fill="#000"/>
<circle cx="261.8" cy="746.4" r="3.80" fill="#000"/>
<circle cx="269.0" cy="736.5" r="3.80" fill="#000"/>
<circle cx="292.0" cy="718.7" r="3.80" fill="#000"/>
<circle cx="279.0" cy="732.6" r="3.80" fill="#000"/>
<circle cx="293.2" cy="711.2" r="3.80" fill="#000"/>
<circle cx="300.3" cy="713.6" r="3.80" fill="#000"/>
<circle cx="306.2" cy="706.4" r="3.80" fill="#000"/>
<circle cx="316.1" cy="705.9" r="3.80" fill="#000"/>
<circle cx="309.4" cy="716.1" r="3.80" fill="#000"/>
<circle cx="314.0" cy="703.3" r="3.80" fill="#000"/>
<circle cx="299.2" cy="710.7" r="3.80" fill="#000"/>
<circle cx="307.1" cy="714.8" r="3.80" fill="#000"/>
<circle cx="305.9" cy="708.6" r="3.80" fill="#000"/>
<circle cx="301.8" cy="716.6" r="3.80" fill="#000"/>
<circle cx="312.1" cy="717.5" r="3.80" fill="#000"/>
<circle cx="327.5" cy="701.0" r="3.80" fill="#000"/>
<circle cx="304.5" cy="713.8" r="3.80" fill="#000"/>
<circle cx="319.8" cy="697.4" r="3.80" fill="#000"/>
<circle cx="310.4" cy="703.9" r="3.80" fill="#000"/>
<circle cx="325.8" cy="695.4" r="3.80" fill="#000"/>
<circle cx="266.2" cy="654.9" r="3.20" fill="#fff" stroke="#000" stroke-width="1.7"/>
<circle cx="300.4" cy="661.7" r="3.20" fill="#fff" stroke="#000" stroke-width="1.7"/>
<circle cx="272.3" cy="674.5" r="3.20" fill="#fff" stroke="#000" stroke-width="1.7"/>
<circle cx="256.6" cy="675.3" r="3.20" fill="#fff" stroke="#000" stroke-width="1.7"/>
<circle cx="251.4" cy="683.0" r="3.20" fill="#fff" stroke="#000" stroke-width="1.7"/>
<circle cx="261.1" cy="687.1" r="3.20" fill="#fff" stroke="#000" stroke-width="1.7"/>
<circle cx="298.0" cy="683.0" r="3.20" fill="#fff" stroke="#000" stroke-width="1.7"/>
<circle cx="317.3" cy="680.1" r="3.20" fill="#fff" stroke="#000" stroke-width="1.7"/>
<circle cx="281.5" cy="695.1" r="3.20" fill="#fff" stroke="#000" stroke-width="1.7"/>
<circle cx="259.0" cy="696.5" r="3.20" fill="#fff" stroke="#000" stroke-width="1.7"/>
<circle cx="246.9" cy="697.3" r="3.20" fill="#fff" stroke="#000" stroke-width="1.7"/>
<circle cx="254.2" cy="699.4" r="3.20" fill="#fff" stroke="#000" stroke-width="1.7"/>
<circle cx="316.0" cy="693.0" r="3.20" fill="#fff" stroke="#000" stroke-width="1.7"/>
<circle cx="305.9" cy="695.9" r="3.20" fill="#fff" stroke="#000" stroke-width="1.7"/>
<circle cx="293.5" cy="701.0" r="3.20" fill="#fff" stroke="#000" stroke-width="1.7"/>
<circle cx="292.7" cy="705.0" r="3.20" fill="#fff" stroke="#000" stroke-width="1.7"/>
<circle cx="304.7" cy="704.2" r="3.20" fill="#fff" stroke="#000" stroke-width="1.7"/>
<circle cx="312.8" cy="705.0" r="3.20" fill="#fff" stroke="#000" stroke-width="1.7"/>
<circle cx="236.5" cy="706.6" r="3.20" fill="#fff" stroke="#000" stroke-width="1.7"/>
<circle cx="240.5" cy="704.2" r="3.20" fill="#fff" stroke="#000" stroke-width="1.7"/>
<circle cx="243.7" cy="707.4" r="3.20" fill="#fff" stroke="#000" stroke-width="1.7"/>
<circle cx="249.3" cy="709.1" r="3.20" fill="#fff" stroke="#000" stroke-width="1.7"/>
<circle cx="255.8" cy="706.6" r="3.20" fill="#fff" stroke="#000" stroke-width="1.7"/>
<circle cx="263.0" cy="709.4" r="3.20" fill="#fff" stroke="#000" stroke-width="1.7"/>
<circle cx="313.6" cy="708.3" r="3.20" fill="#fff" stroke="#000" stroke-width="1.7"/>
<circle cx="231.7" cy="718.7" r="3.20" fill="#fff" stroke="#000" stroke-width="1.7"/>
<circle cx="243.7" cy="718.4" r="3.20" fill="#fff" stroke="#000" stroke-width="1.7"/>
<circle cx="255.0" cy="717.1" r="3.20" fill="#fff" stroke="#000" stroke-width="1.7"/>
<circle cx="259.0" cy="718.7" r="3.20" fill="#fff" stroke="#000" stroke-width="1.7"/>
<circle cx="267.8" cy="718.7" r="3.20" fill="#fff" stroke="#000" stroke-width="1.7"/>
<circle cx="275.8" cy="717.9" r="3.20" fill="#fff" stroke="#000" stroke-width="1.7"/>
<circle cx="280.7" cy="717.1" r="3.20" fill="#fff" stroke="#000" stroke-width="1.7"/>
<circle cx="286.3" cy="717.9" r="3.20" fill="#fff" stroke="#000" stroke-width="1.7"/>
<circle cx="290.3" cy="716.3" r="3.20" fill="#fff" stroke="#000" stroke-width="1.7"/>
<circle cx="294.3" cy="719.5" r="3.20" fill="#fff" stroke="#000" stroke-width="1.7"/>
<circle cx="305.6" cy="714.7" r="3.20" fill="#fff" stroke="#000" stroke-width="1.7"/>
<circle cx="305.6" cy="723.5" r="3.20" fill="#fff" stroke="#000" stroke-width="1.7"/>
<circle cx="316.0" cy="725.1" r="3.20" fill="#fff" stroke="#000" stroke-width="1.7"/>
<circle cx="238.1" cy="723.5" r="3.20" fill="#fff" stroke="#000" stroke-width="1.7"/>
<circle cx="256.6" cy="725.9" r="3.20" fill="#fff" stroke="#000" stroke-width="1.7"/>
<circle cx="267.8" cy="723.5" r="3.20" fill="#fff" stroke="#000" stroke-width="1.7"/>
<circle cx="274.2" cy="728.0" r="3.20" fill="#fff" stroke="#000" stroke-width="1.7"/>
<circle cx="280.7" cy="725.1" r="3.20" fill="#fff" stroke="#000" stroke-width="1.7"/>
<circle cx="288.7" cy="725.9" r="3.20" fill="#fff" stroke="#000" stroke-width="1.7"/>
<circle cx="293.5" cy="726.7" r="3.20" fill="#fff" stroke="#000" stroke-width="1.7"/>
<circle cx="306.4" cy="729.1" r="3.20" fill="#fff" stroke="#000" stroke-width="1.7"/>
<circle cx="231.7" cy="733.1" r="3.20" fill="#fff" stroke="#000" stroke-width="1.7"/>
<circle cx="234.9" cy="733.9" r="3.20" fill="#fff" stroke="#000" stroke-width="1.7"/>
<circle cx="243.7" cy="730.7" r="3.20" fill="#fff" stroke="#000" stroke-width="1.7"/>
<circle cx="246.9" cy="736.4" r="3.20" fill="#fff" stroke="#000" stroke-width="1.7"/>
<circle cx="250.1" cy="739.6" r="3.20" fill="#fff" stroke="#000" stroke-width="1.7"/>
<circle cx="258.2" cy="733.1" r="3.20" fill="#fff" stroke="#000" stroke-width="1.7"/>
<circle cx="265.4" cy="732.3" r="3.20" fill="#fff" stroke="#000" stroke-width="1.7"/>
<circle cx="272.6" cy="736.4" r="3.20" fill="#fff" stroke="#000" stroke-width="1.7"/>
<circle cx="283.1" cy="733.9" r="3.20" fill="#fff" stroke="#000" stroke-width="1.7"/>
<circle cx="297.5" cy="734.7" r="3.20" fill="#fff" stroke="#000" stroke-width="1.7"/>
<circle cx="299.1" cy="738.8" r="3.20" fill="#fff" stroke="#000" stroke-width="1.7"/>
<circle cx="315.2" cy="740.4" r="3.20" fill="#fff" stroke="#000" stroke-width="1.7"/>
<circle cx="232.5" cy="741.5" r="3.20" fill="#fff" stroke="#000" stroke-width="1.7"/>
<circle cx="242.1" cy="738.0" r="3.20" fill="#fff" stroke="#000" stroke-width="1.7"/>
<circle cx="259.0" cy="746.0" r="3.20" fill="#fff" stroke="#000" stroke-width="1.7"/>
<circle cx="265.4" cy="746.0" r="3.20" fill="#fff" stroke="#000" stroke-width="1.7"/>
<circle cx="273.4" cy="749.2" r="3.20" fill="#fff" stroke="#000" stroke-width="1.7"/>
<circle cx="278.3" cy="744.4" r="3.20" fill="#fff" stroke="#000" stroke-width="1.7"/>
<circle cx="284.7" cy="743.6" r="3.20" fill="#fff" stroke="#000" stroke-width="1.7"/>
<circle cx="291.9" cy="746.0" r="3.20" fill="#fff" stroke="#000" stroke-width="1.7"/>
<circle cx="229.3" cy="750.8" r="3.20" fill="#fff" stroke="#000" stroke-width="1.7"/>
<circle cx="228.5" cy="754.0" r="3.20" fill="#fff" stroke="#000" stroke-width="1.7"/>
<circle cx="238.1" cy="750.8" r="3.20" fill="#fff" stroke="#000" stroke-width="1.7"/>
<circle cx="241.3" cy="746.8" r="3.20" fill="#fff" stroke="#000" stroke-width="1.7"/>
<circle cx="248.5" cy="750.8" r="3.20" fill="#fff" stroke="#000" stroke-width="1.7"/>
<circle cx="253.4" cy="747.6" r="3.20" fill="#fff" stroke="#000" stroke-width="1.7"/>
<circle cx="263.0" cy="750.8" r="3.20" fill="#fff" stroke="#000" stroke-width="1.7"/>
<circle cx="277.4" cy="752.4" r="3.20" fill="#fff" stroke="#000" stroke-width="1.7"/>
<circle cx="295.1" cy="754.0" r="3.20" fill="#fff" stroke="#000" stroke-width="1.7"/>
<circle cx="300.7" cy="751.6" r="3.20" fill="#fff" stroke="#000" stroke-width="1.7"/>
<circle cx="304.7" cy="755.6" r="3.20" fill="#fff" stroke="#000" stroke-width="1.7"/>
<circle cx="319.2" cy="751.6" r="3.20" fill="#fff" stroke="#000" stroke-width="1.7"/>
<circle cx="231.7" cy="757.2" r="3.20" fill="#fff" stroke="#000" stroke-width="1.7"/>
<circle cx="242.9" cy="758.8" r="3.20" fill="#fff" stroke="#000" stroke-width="1.7"/>
<circle cx="252.6" cy="758.0" r="3.20" fill="#fff" stroke="#000" stroke-width="1.7"/>
<circle cx="262.2" cy="758.8" r="3.20" fill="#fff" stroke="#000" stroke-width="1.7"/>
<circle cx="268.6" cy="762.9" r="3.20" fill="#fff" stroke="#000" stroke-width="1.7"/>
<circle cx="275.0" cy="762.9" r="3.20" fill="#fff" stroke="#000" stroke-width="1.7"/>
<circle cx="282.3" cy="762.0" r="3.20" fill="#fff" stroke="#000" stroke-width="1.7"/>
<circle cx="287.9" cy="759.6" r="3.20" fill="#fff" stroke="#000" stroke-width="1.7"/>
<circle cx="296.7" cy="764.5" r="3.20" fill="#fff" stroke="#000" stroke-width="1.7"/>
<circle cx="303.1" cy="763.7" r="3.20" fill="#fff" stroke="#000" stroke-width="1.7"/>
<circle cx="312.0" cy="759.6" r="3.20" fill="#fff" stroke="#000" stroke-width="1.7"/>
<circle cx="313.6" cy="762.0" r="3.20" fill="#fff" stroke="#000" stroke-width="1.7"/>
<circle cx="238.1" cy="768.5" r="3.20" fill="#fff" stroke="#000" stroke-width="1.7"/>
<circle cx="253.4" cy="769.3" r="3.20" fill="#fff" stroke="#000" stroke-width="1.7"/>
<circle cx="262.2" cy="770.1" r="3.20" fill="#fff" stroke="#000" stroke-width="1.7"/>
<circle cx="271.0" cy="768.5" r="3.20" fill="#fff" stroke="#000" stroke-width="1.7"/>
<circle cx="277.4" cy="768.5" r="3.20" fill="#fff" stroke="#000" stroke-width="1.7"/>
<circle cx="283.9" cy="767.7" r="3.20" fill="#fff" stroke="#000" stroke-width="1.7"/>
<circle cx="290.3" cy="769.3" r="3.20" fill="#fff" stroke="#000" stroke-width="1.7"/>
<circle cx="294.3" cy="770.1" r="3.20" fill="#fff" stroke="#000" stroke-width="1.7"/>
<circle cx="296.7" cy="770.9" r="3.20" fill="#fff" stroke="#000" stroke-width="1.7"/>
<circle cx="304.7" cy="771.7" r="3.20" fill="#fff" stroke="#000" stroke-width="1.7"/>
<circle cx="315.2" cy="768.5" r="3.20" fill="#fff" stroke="#000" stroke-width="1.7"/>
<circle cx="232.5" cy="774.1" r="3.20" fill="#fff" stroke="#000" stroke-width="1.7"/>
<circle cx="241.3" cy="772.5" r="3.20" fill="#fff" stroke="#000" stroke-width="1.7"/>
<circle cx="246.9" cy="776.5" r="3.20" fill="#fff" stroke="#000" stroke-width="1.7"/>
<circle cx="264.6" cy="776.5" r="3.20" fill="#fff" stroke="#000" stroke-width="1.7"/>
<circle cx="273.4" cy="774.1" r="3.20" fill="#fff" stroke="#000" stroke-width="1.7"/>
<circle cx="288.7" cy="774.9" r="3.20" fill="#fff" stroke="#000" stroke-width="1.7"/>
<circle cx="237.3" cy="781.3" r="3.20" fill="#fff" stroke="#000" stroke-width="1.7"/>
<circle cx="258.2" cy="771.7" r="3.20" fill="#fff" stroke="#000" stroke-width="1.7"/>
<circle cx="381.0" cy="678.6" r="3.20" fill="#fff" stroke="#000" stroke-width="1.7"/>
<circle cx="422.8" cy="681.6" r="3.20" fill="#fff" stroke="#000" stroke-width="1.7"/>
<circle cx="318.4" cy="692.9" r="3.20" fill="#fff" stroke="#000" stroke-width="1.7"/>
<circle cx="333.1" cy="697.6" r="3.20" fill="#fff" stroke="#000" stroke-width="1.7"/>
<circle cx="324.2" cy="708.5" r="3.20" fill="#fff" stroke="#000" stroke-width="1.7"/>
<circle cx="366.5" cy="711.0" r="3.20" fill="#fff" stroke="#000" stroke-width="1.7"/>
<circle cx="326.4" cy="723.6" r="3.20" fill="#fff" stroke="#000" stroke-width="1.7"/>
<circle cx="335.1" cy="725.3" r="3.20" fill="#fff" stroke="#000" stroke-width="1.7"/>
<circle cx="341.9" cy="732.0" r="3.20" fill="#fff" stroke="#000" stroke-width="1.7"/>
<circle cx="323.1" cy="734.3" r="3.20" fill="#fff" stroke="#000" stroke-width="1.7"/>
<circle cx="356.1" cy="738.2" r="3.20" fill="#fff" stroke="#000" stroke-width="1.7"/>
<circle cx="366.7" cy="738.7" r="3.20" fill="#fff" stroke="#000" stroke-width="1.7"/>
<circle cx="325.4" cy="746.1" r="3.20" fill="#fff" stroke="#000" stroke-width="1.7"/>
<circle cx="327.6" cy="750.5" r="3.20" fill="#fff" stroke="#000" stroke-width="1.7"/>
<circle cx="368.7" cy="761.2" r="3.20" fill="#fff" stroke="#000" stroke-width="1.7"/>
<circle cx="386.3" cy="760.0" r="3.20" fill="#fff" stroke="#000" stroke-width="1.7"/>
<circle cx="391.0" cy="762.5" r="3.20" fill="#fff" stroke="#000" stroke-width="1.7"/>
<circle cx="412.4" cy="768.4" r="3.20" fill="#fff" stroke="#000" stroke-width="1.7"/>
<circle cx="411.0" cy="770.9" r="3.20" fill="#fff" stroke="#000" stroke-width="1.7"/>
<circle cx="325.4" cy="773.5" r="3.20" fill="#fff" stroke="#000" stroke-width="1.7"/>
<circle cx="233.9" cy="745.5" r="3.20" fill="#fff" stroke="#000" stroke-width="1.7"/>
<circle cx="228.3" cy="712.6" r="3.20" fill="#fff" stroke="#000" stroke-width="1.7"/>
<circle cx="272.1" cy="705.3" r="3.20" fill="#fff" stroke="#000" stroke-width="1.7"/>
<circle cx="233.2" cy="709.3" r="3.20" fill="#fff" stroke="#000" stroke-width="1.7"/>
<circle cx="278.2" cy="715.3" r="3.20" fill="#fff" stroke="#000" stroke-width="1.7"/>
<circle cx="229.3" cy="764.3" r="3.20" fill="#fff" stroke="#000" stroke-width="1.7"/>
<circle cx="234.9" cy="764.5" r="3.20" fill="#fff" stroke="#000" stroke-width="1.7"/>
<circle cx="266.4" cy="763.9" r="3.20" fill="#fff" stroke="#000" stroke-width="1.7"/>
<circle cx="282.3" cy="744.9" r="3.20" fill="#fff" stroke="#000" stroke-width="1.7"/>
<circle cx="271.7" cy="739.8" r="3.20" fill="#fff" stroke="#000" stroke-width="1.7"/>
<circle cx="268.8" cy="709.9" r="3.20" fill="#fff" stroke="#000" stroke-width="1.7"/>
<circle cx="270.7" cy="771.2" r="3.20" fill="#fff" stroke="#000" stroke-width="1.7"/>
<circle cx="231.5" cy="726.0" r="3.20" fill="#fff" stroke="#000" stroke-width="1.7"/>
<circle cx="260.1" cy="763.3" r="3.20" fill="#fff" stroke="#000" stroke-width="1.7"/>
<circle cx="241.8" cy="715.3" r="3.20" fill="#fff" stroke="#000" stroke-width="1.7"/>
<circle cx="271.0" cy="731.1" r="3.20" fill="#fff" stroke="#000" stroke-width="1.7"/>
<circle cx="248.9" cy="731.4" r="3.20" fill="#fff" stroke="#000" stroke-width="1.7"/>
<circle cx="232.7" cy="739.0" r="3.20" fill="#fff" stroke="#000" stroke-width="1.7"/>
<circle cx="270.6" cy="713.9" r="3.20" fill="#fff" stroke="#000" stroke-width="1.7"/>
<circle cx="267.4" cy="758.0" r="3.20" fill="#fff" stroke="#000" stroke-width="1.7"/>
<circle cx="266.4" cy="740.3" r="3.20" fill="#fff" stroke="#000" stroke-width="1.7"/>
<circle cx="255.6" cy="749.6" r="3.20" fill="#fff" stroke="#000" stroke-width="1.7"/>
<circle cx="279.2" cy="713.1" r="3.20" fill="#fff" stroke="#000" stroke-width="1.7"/>
<circle cx="280.2" cy="740.3" r="3.20" fill="#fff" stroke="#000" stroke-width="1.7"/>
<circle cx="253.3" cy="755.2" r="3.20" fill="#fff" stroke="#000" stroke-width="1.7"/>
<circle cx="245.9" cy="719.2" r="3.20" fill="#fff" stroke="#000" stroke-width="1.7"/>
<circle cx="267.4" cy="772.6" r="3.20" fill="#fff" stroke="#000" stroke-width="1.7"/>
<circle cx="244.9" cy="754.2" r="3.20" fill="#fff" stroke="#000" stroke-width="1.7"/>
<circle cx="251.6" cy="765.2" r="3.20" fill="#fff" stroke="#000" stroke-width="1.7"/>
<circle cx="261.3" cy="721.8" r="3.20" fill="#fff" stroke="#000" stroke-width="1.7"/>
<circle cx="255.3" cy="730.3" r="3.20" fill="#fff" stroke="#000" stroke-width="1.7"/>
<circle cx="237.8" cy="728.7" r="3.20" fill="#fff" stroke="#000" stroke-width="1.7"/>
<circle cx="246.4" cy="759.3" r="3.20" fill="#fff" stroke="#000" stroke-width="1.7"/>
<circle cx="236.2" cy="775.4" r="3.20" fill="#fff" stroke="#000" stroke-width="1.7"/>
<circle cx="254.7" cy="763.8" r="3.20" fill="#fff" stroke="#000" stroke-width="1.7"/>
<circle cx="274.8" cy="743.2" r="3.20" fill="#fff" stroke="#000" stroke-width="1.7"/>
<circle cx="276.8" cy="731.6" r="3.20" fill="#fff" stroke="#000" stroke-width="1.7"/>
<circle cx="241.4" cy="755.1" r="3.20" fill="#fff" stroke="#000" stroke-width="1.7"/>
<circle cx="238.8" cy="721.1" r="3.20" fill="#fff" stroke="#000" stroke-width="1.7"/>
<circle cx="238.7" cy="754.2" r="3.20" fill="#fff" stroke="#000" stroke-width="1.7"/>
<circle cx="242.5" cy="766.0" r="3.20" fill="#fff" stroke="#000" stroke-width="1.7"/>
<circle cx="245.9" cy="733.3" r="3.20" fill="#fff" stroke="#000" stroke-width="1.7"/>
<circle cx="244.6" cy="728.4" r="3.20" fill="#fff" stroke="#000" stroke-width="1.7"/>
<circle cx="228.4" cy="726.8" r="3.20" fill="#fff" stroke="#000" stroke-width="1.7"/>
<circle cx="252.9" cy="738.0" r="3.20" fill="#fff" stroke="#000" stroke-width="1.7"/>
<circle cx="282.5" cy="730.9" r="3.20" fill="#fff" stroke="#000" stroke-width="1.7"/>
<circle cx="259.0" cy="710.8" r="3.20" fill="#fff" stroke="#000" stroke-width="1.7"/>
<circle cx="243.7" cy="751.2" r="3.20" fill="#fff" stroke="#000" stroke-width="1.7"/>
<circle cx="234.4" cy="767.7" r="3.20" fill="#fff" stroke="#000" stroke-width="1.7"/>
<circle cx="279.8" cy="709.2" r="3.20" fill="#fff" stroke="#000" stroke-width="1.7"/>
<circle cx="306.8" cy="744.2" r="3.20" fill="#fff" stroke="#000" stroke-width="1.7"/>
<circle cx="299.9" cy="747.4" r="3.20" fill="#fff" stroke="#000" stroke-width="1.7"/>
<circle cx="317.8" cy="738.7" r="3.20" fill="#fff" stroke="#000" stroke-width="1.7"/>
<circle cx="303.6" cy="739.1" r="3.20" fill="#fff" stroke="#000" stroke-width="1.7"/>
<circle cx="272.4" cy="752.8" r="3.20" fill="#fff" stroke="#000" stroke-width="1.7"/>
<circle cx="300.0" cy="703.0" r="3.20" fill="#fff" stroke="#000" stroke-width="1.7"/>
<circle cx="316.0" cy="704.2" r="3.20" fill="#fff" stroke="#000" stroke-width="1.7"/>
<circle cx="296.7" cy="731.1" r="3.20" fill="#fff" stroke="#000" stroke-width="1.7"/>
<circle cx="299.6" cy="724.8" r="3.20" fill="#fff" stroke="#000" stroke-width="1.7"/>
<circle cx="280.1" cy="706.5" r="3.20" fill="#fff" stroke="#000" stroke-width="1.7"/>
<circle cx="304.9" cy="718.3" r="3.20" fill="#fff" stroke="#000" stroke-width="1.7"/>
<circle cx="312.6" cy="697.7" r="3.20" fill="#fff" stroke="#000" stroke-width="1.7"/>
<circle cx="291.3" cy="711.1" r="3.20" fill="#fff" stroke="#000" stroke-width="1.7"/>
<circle cx="281.3" cy="721.2" r="3.20" fill="#fff" stroke="#000" stroke-width="1.7"/>
<line x1="214.5" y1="606" x2="214.5" y2="790.3" stroke="#000" stroke-width="1.6"/>
<line x1="213.7" y1="789.5" x2="425.4" y2="789.5" stroke="#000" stroke-width="1.6"/>
<line x1="214.5" y1="789.5" x2="214.5" y2="792.3" stroke="#000" stroke-width="1.4"/>
<text x="214.5" y="799.5" font-size="5.5" text-anchor="middle" fill="#444">0</text>
<line x1="274.7" y1="789.5" x2="274.7" y2="792.3" stroke="#000" stroke-width="1.4"/>
<text x="274.7" y="799.5" font-size="5.5" text-anchor="middle" fill="#444">1</text>
<line x1="334.9" y1="789.5" x2="334.9" y2="792.3" stroke="#000" stroke-width="1.4"/>
<text x="334.9" y="799.5" font-size="5.5" text-anchor="middle" fill="#444">2</text>
<line x1="395.1" y1="789.5" x2="395.1" y2="792.3" stroke="#000" stroke-width="1.4"/>
<text x="395.1" y="799.5" font-size="5.5" text-anchor="middle" fill="#444">3</text>
<line x1="211.7" y1="789.5" x2="214.5" y2="789.5" stroke="#000" stroke-width="1.4"/>
<text x="209.5" y="791.3" font-size="5.5" text-anchor="end" fill="#444">0</text>
<line x1="211.7" y1="736.8" x2="214.5" y2="736.8" stroke="#000" stroke-width="1.4"/>
<text x="209.5" y="738.5999999999999" font-size="5.5" text-anchor="end" fill="#444">1</text>
<line x1="211.7" y1="684.1" x2="214.5" y2="684.1" stroke="#000" stroke-width="1.4"/>
<text x="209.5" y="685.9" font-size="5.5" text-anchor="end" fill="#444">2</text>
<line x1="211.7" y1="631.4" x2="214.5" y2="631.4" stroke="#000" stroke-width="1.4"/>
<text x="209.5" y="633.1999999999999" font-size="5.5" text-anchor="end" fill="#444">3</text>
<rect x="214.5" y="606" width="100.69999999999999" height="30.200000000000045" fill="#fff" stroke="#000" stroke-width="1.6"/>
<circle cx="230.1" cy="615.1" r="4.00" fill="#000"/>
<circle cx="230.1" cy="627.1" r="4.00" fill="#fff" stroke="#000" stroke-width="1.7"/>
<text x="245.8" y="619.996" font-size="13.6" text-anchor="start">Control</text>
<text x="245.8" y="631.996" font-size="13.6" text-anchor="start" font-style="italic">met-2(null)</text>
<text x="272.5" y="814" font-size="14" text-anchor="start">Allele 1 Signal</text>
<text x="206.4" y="739.2" font-size="14" text-anchor="start" transform="rotate(-90 206.4 739.2)">Allele 2 Signal</text>
<circle cx="263.4" cy="991.3" r="3.80" fill="#000"/>
<circle cx="259.3" cy="1008.2" r="3.80" fill="#000"/>
<circle cx="301.9" cy="999.3" r="3.80" fill="#000"/>
<circle cx="315.6" cy="995.3" r="3.80" fill="#000"/>
<circle cx="325.2" cy="993.7" r="3.80" fill="#000"/>
<circle cx="316.4" cy="1003.4" r="3.80" fill="#000"/>
<circle cx="311.5" cy="1009.8" r="3.80" fill="#000"/>
<circle cx="233.7" cy="1016.2" r="3.80" fill="#000"/>
<circle cx="290.7" cy="1013.0" r="3.80" fill="#000"/>
<circle cx="252.1" cy="1026.6" r="3.80" fill="#000"/>
<circle cx="256.9" cy="1035.5" r="3.80" fill="#000"/>
<circle cx="258.5" cy="1040.3" r="3.80" fill="#000"/>
<circle cx="265.0" cy="1037.1" r="3.80" fill="#000"/>
<circle cx="260.1" cy="1049.9" r="3.80" fill="#000"/>
<circle cx="266.6" cy="1046.7" r="3.80" fill="#000"/>
<circle cx="273.0" cy="1053.1" r="3.80" fill="#000"/>
<circle cx="281.8" cy="1038.7" r="3.80" fill="#000"/>
<circle cx="287.4" cy="1037.1" r="3.80" fill="#000"/>
<circle cx="292.3" cy="1021.0" r="3.80" fill="#000"/>
<circle cx="297.1" cy="1029.1" r="3.80" fill="#000"/>
<circle cx="309.9" cy="1017.8" r="3.80" fill="#000"/>
<circle cx="309.9" cy="1043.5" r="3.80" fill="#000"/>
<circle cx="319.6" cy="1043.5" r="3.80" fill="#000"/>
<circle cx="297.1" cy="1062.8" r="3.80" fill="#000"/>
<circle cx="301.1" cy="1062.8" r="3.80" fill="#000"/>
<circle cx="300.3" cy="1070.5" r="3.80" fill="#000"/>
<circle cx="281.0" cy="1060.4" r="3.80" fill="#000"/>
<circle cx="287.4" cy="1058.0" r="3.80" fill="#000"/>
<circle cx="268.2" cy="1070.8" r="3.80" fill="#000"/>
<circle cx="271.4" cy="1075.6" r="3.80" fill="#000"/>
<circle cx="247.3" cy="1058.0" r="3.80" fill="#000"/>
<circle cx="244.1" cy="1064.4" r="3.80" fill="#000"/>
<circle cx="232.0" cy="1070.8" r="3.80" fill="#000"/>
<circle cx="237.7" cy="1075.6" r="3.80" fill="#000"/>
<circle cx="243.3" cy="1078.8" r="3.80" fill="#000"/>
<circle cx="245.7" cy="1086.9" r="3.80" fill="#000"/>
<circle cx="233.7" cy="1084.5" r="3.80" fill="#000"/>
<circle cx="232.8" cy="1101.3" r="3.80" fill="#000"/>
<circle cx="244.9" cy="1103.7" r="3.80" fill="#000"/>
<circle cx="240.9" cy="1100.5" r="3.80" fill="#000"/>
<circle cx="234.5" cy="1053.1" r="3.80" fill="#000"/>
<circle cx="389.9" cy="936.8" r="3.80" fill="#000"/>
<circle cx="380.2" cy="954.0" r="3.80" fill="#000"/>
<circle cx="416.3" cy="961.6" r="3.80" fill="#000"/>
<circle cx="424.0" cy="958.4" r="3.80" fill="#000"/>
<circle cx="430.5" cy="961.1" r="3.80" fill="#000"/>
<circle cx="395.2" cy="972.5" r="3.80" fill="#000"/>
<circle cx="416.7" cy="972.5" r="3.80" fill="#000"/>
<circle cx="415.0" cy="982.7" r="3.80" fill="#000"/>
<circle cx="376.1" cy="979.8" r="3.80" fill="#000"/>
<circle cx="332.8" cy="990.8" r="3.80" fill="#000"/>
<circle cx="341.2" cy="993.3" r="3.80" fill="#000"/>
<circle cx="359.1" cy="990.8" r="3.80" fill="#000"/>
<circle cx="362.3" cy="997.3" r="3.80" fill="#000"/>
<circle cx="366.4" cy="998.9" r="3.80" fill="#000"/>
<circle cx="373.7" cy="999.8" r="3.80" fill="#000"/>
<circle cx="330.7" cy="999.8" r="3.80" fill="#000"/>
<circle cx="344.5" cy="1001.4" r="3.80" fill="#000"/>
<circle cx="349.3" cy="1009.5" r="3.80" fill="#000"/>
<circle cx="352.6" cy="1016.0" r="3.80" fill="#000"/>
<circle cx="362.3" cy="1009.5" r="3.80" fill="#000"/>
<circle cx="368.0" cy="1010.3" r="3.80" fill="#000"/>
<circle cx="367.2" cy="1007.1" r="3.80" fill="#000"/>
<circle cx="342.0" cy="1016.0" r="3.80" fill="#000"/>
<circle cx="331.5" cy="1011.1" r="3.80" fill="#000"/>
<circle cx="328.2" cy="1020.9" r="3.80" fill="#000"/>
<circle cx="334.7" cy="1024.1" r="3.80" fill="#000"/>
<circle cx="338.8" cy="1031.4" r="3.80" fill="#000"/>
<circle cx="333.1" cy="1059.8" r="3.80" fill="#000"/>
<circle cx="326.6" cy="1014.4" r="3.80" fill="#000"/>
<circle cx="260.7" cy="1078.5" r="3.80" fill="#000"/>
<circle cx="253.6" cy="1085.3" r="3.80" fill="#000"/>
<circle cx="325.2" cy="998.3" r="3.80" fill="#000"/>
<circle cx="249.8" cy="1075.1" r="3.80" fill="#000"/>
<circle cx="328.1" cy="997.5" r="3.80" fill="#000"/>
<circle cx="312.4" cy="1024.4" r="3.80" fill="#000"/>
<circle cx="292.5" cy="1024.8" r="3.80" fill="#000"/>
<circle cx="294.4" cy="1032.0" r="3.80" fill="#000"/>
<circle cx="290.8" cy="1059.0" r="3.80" fill="#000"/>
<circle cx="310.0" cy="1003.5" r="3.80" fill="#000"/>
<circle cx="309.1" cy="1014.6" r="3.80" fill="#000"/>
<circle cx="287.9" cy="1040.8" r="3.80" fill="#000"/>
<circle cx="263.3" cy="1066.5" r="3.80" fill="#000"/>
<circle cx="234.1" cy="1090.0" r="3.80" fill="#000"/>
<circle cx="279.4" cy="1046.6" r="3.80" fill="#000"/>
<circle cx="331.8" cy="1006.1" r="3.80" fill="#000"/>
<circle cx="267.4" cy="1057.9" r="3.80" fill="#000"/>
<circle cx="293.1" cy="1043.1" r="3.80" fill="#000"/>
<circle cx="248.5" cy="1081.1" r="3.80" fill="#000"/>
<circle cx="312.5" cy="1020.6" r="3.80" fill="#000"/>
<circle cx="305.4" cy="1025.7" r="3.80" fill="#000"/>
<circle cx="271.2" cy="1067.5" r="3.80" fill="#000"/>
<circle cx="280.6" cy="1054.9" r="3.80" fill="#000"/>
<circle cx="325.9" cy="1004.5" r="3.80" fill="#000"/>
<circle cx="242.4" cy="1102.8" r="3.80" fill="#000"/>
<circle cx="267.5" cy="1065.1" r="3.80" fill="#000"/>
<circle cx="242.2" cy="1093.4" r="3.80" fill="#000"/>
<circle cx="299.7" cy="1033.1" r="3.80" fill="#000"/>
<circle cx="280.7" cy="1070.8" r="3.80" fill="#000"/>
<circle cx="279.5" cy="1057.4" r="3.80" fill="#000"/>
<circle cx="255.1" cy="1075.2" r="3.80" fill="#000"/>
<circle cx="274.0" cy="1069.3" r="3.80" fill="#000"/>
<circle cx="257.9" cy="1077.2" r="3.80" fill="#000"/>
<circle cx="257.7" cy="1072.9" r="3.80" fill="#000"/>
<circle cx="244.9" cy="1089.6" r="3.80" fill="#000"/>
<circle cx="318.5" cy="1008.3" r="3.80" fill="#000"/>
<circle cx="299.0" cy="1024.3" r="3.80" fill="#000"/>
<circle cx="284.4" cy="1051.8" r="3.80" fill="#000"/>
<circle cx="328.8" cy="1004.3" r="3.80" fill="#000"/>
<circle cx="259.7" cy="1056.0" r="3.80" fill="#000"/>
<circle cx="294.7" cy="1029.5" r="3.80" fill="#000"/>
<circle cx="324.8" cy="1006.9" r="3.80" fill="#000"/>
<circle cx="335.9" cy="1000.7" r="3.80" fill="#000"/>
<circle cx="239.8" cy="1091.8" r="3.80" fill="#000"/>
<circle cx="325.9" cy="1001.2" r="3.80" fill="#000"/>
<circle cx="244.1" cy="1075.8" r="3.80" fill="#000"/>
<circle cx="309.2" cy="1023.0" r="3.80" fill="#000"/>
<circle cx="234.2" cy="1097.2" r="3.80" fill="#000"/>
<circle cx="314.4" cy="1016.0" r="3.80" fill="#000"/>
<circle cx="320.9" cy="1020.4" r="3.80" fill="#000"/>
<circle cx="273.1" cy="1059.1" r="3.80" fill="#000"/>
<circle cx="277.4" cy="1051.6" r="3.80" fill="#000"/>
<circle cx="230.6" cy="1090.8" r="3.80" fill="#000"/>
<circle cx="314.3" cy="1011.2" r="3.80" fill="#000"/>
<circle cx="269.0" cy="1055.2" r="3.80" fill="#000"/>
<circle cx="239.9" cy="1087.4" r="3.80" fill="#000"/>
<circle cx="235.1" cy="1078.2" r="3.80" fill="#000"/>
<circle cx="319.6" cy="1027.0" r="3.80" fill="#000"/>
<circle cx="248.3" cy="1089.6" r="3.80" fill="#000"/>
<circle cx="319.3" cy="1015.4" r="3.80" fill="#000"/>
<circle cx="277.0" cy="1055.9" r="3.80" fill="#000"/>
<circle cx="256.6" cy="1065.5" r="3.80" fill="#000"/>
<circle cx="300.0" cy="1028.1" r="3.80" fill="#000"/>
<circle cx="260.1" cy="1069.3" r="3.80" fill="#000"/>
<circle cx="315.8" cy="1022.1" r="3.80" fill="#000"/>
<circle cx="308.6" cy="1011.3" r="3.80" fill="#000"/>
<circle cx="269.7" cy="1060.2" r="3.80" fill="#000"/>
<circle cx="248.8" cy="1086.6" r="3.80" fill="#000"/>
<circle cx="337.1" cy="1011.4" r="3.80" fill="#000"/>
<circle cx="329.1" cy="1011.1" r="3.80" fill="#000"/>
<circle cx="340.6" cy="1003.8" r="3.80" fill="#000"/>
<circle cx="309.7" cy="1026.4" r="3.80" fill="#000"/>
<circle cx="336.4" cy="990.4" r="3.80" fill="#000"/>
<circle cx="301.3" cy="1021.5" r="3.80" fill="#000"/>
<circle cx="301.3" cy="1006.6" r="3.80" fill="#000"/>
<circle cx="303.0" cy="1035.2" r="3.80" fill="#000"/>
<circle cx="336.0" cy="994.7" r="3.80" fill="#000"/>
<circle cx="317.4" cy="1025.2" r="3.80" fill="#000"/>
<circle cx="333.4" cy="995.2" r="3.80" fill="#000"/>
<circle cx="303.5" cy="1030.3" r="3.80" fill="#000"/>
<circle cx="343.9" cy="992.1" r="3.80" fill="#000"/>
<circle cx="306.3" cy="1029.0" r="3.80" fill="#000"/>
<circle cx="293.4" cy="976.5" r="3.20" fill="#fff" stroke="#000" stroke-width="1.7"/>
<circle cx="319.6" cy="981.4" r="3.20" fill="#fff" stroke="#000" stroke-width="1.7"/>
<circle cx="244.9" cy="988.9" r="3.20" fill="#fff" stroke="#000" stroke-width="1.7"/>
<circle cx="265.4" cy="987.0" r="3.20" fill="#fff" stroke="#000" stroke-width="1.7"/>
<circle cx="271.1" cy="989.7" r="3.20" fill="#fff" stroke="#000" stroke-width="1.7"/>
<circle cx="275.9" cy="987.6" r="3.20" fill="#fff" stroke="#000" stroke-width="1.7"/>
<circle cx="282.6" cy="988.6" r="3.20" fill="#fff" stroke="#000" stroke-width="1.7"/>
<circle cx="284.2" cy="995.3" r="3.20" fill="#fff" stroke="#000" stroke-width="1.7"/>
<circle cx="285.8" cy="1002.1" r="3.20" fill="#fff" stroke="#000" stroke-width="1.7"/>
<circle cx="259.0" cy="1001.0" r="3.20" fill="#fff" stroke="#000" stroke-width="1.7"/>
<circle cx="267.1" cy="999.3" r="3.20" fill="#fff" stroke="#000" stroke-width="1.7"/>
<circle cx="264.2" cy="1006.9" r="3.20" fill="#fff" stroke="#000" stroke-width="1.7"/>
<circle cx="238.8" cy="1003.8" r="3.20" fill="#fff" stroke="#000" stroke-width="1.7"/>
<circle cx="247.3" cy="1015.9" r="3.20" fill="#fff" stroke="#000" stroke-width="1.7"/>
<circle cx="275.4" cy="1011.7" r="3.20" fill="#fff" stroke="#000" stroke-width="1.7"/>
<circle cx="271.1" cy="1016.2" r="3.20" fill="#fff" stroke="#000" stroke-width="1.7"/>
<circle cx="298.7" cy="1013.0" r="3.20" fill="#fff" stroke="#000" stroke-width="1.7"/>
<circle cx="238.5" cy="1017.0" r="3.20" fill="#fff" stroke="#000" stroke-width="1.7"/>
<circle cx="235.3" cy="1016.2" r="3.20" fill="#fff" stroke="#000" stroke-width="1.7"/>
<circle cx="240.9" cy="1023.4" r="3.20" fill="#fff" stroke="#000" stroke-width="1.7"/>
<circle cx="232.8" cy="1026.6" r="3.20" fill="#fff" stroke="#000" stroke-width="1.7"/>
<circle cx="266.6" cy="1022.6" r="3.20" fill="#fff" stroke="#000" stroke-width="1.7"/>
<circle cx="273.5" cy="1025.0" r="3.20" fill="#fff" stroke="#000" stroke-width="1.7"/>
<circle cx="279.4" cy="1025.0" r="3.20" fill="#fff" stroke="#000" stroke-width="1.7"/>
<circle cx="289.1" cy="1025.8" r="3.20" fill="#fff" stroke="#000" stroke-width="1.7"/>
<circle cx="297.9" cy="1022.6" r="3.20" fill="#fff" stroke="#000" stroke-width="1.7"/>
<circle cx="303.5" cy="1021.8" r="3.20" fill="#fff" stroke="#000" stroke-width="1.7"/>
<circle cx="312.3" cy="1025.5" r="3.20" fill="#fff" stroke="#000" stroke-width="1.7"/>
<circle cx="318.0" cy="1011.7" r="3.20" fill="#fff" stroke="#000" stroke-width="1.7"/>
<circle cx="325.2" cy="1008.2" r="3.20" fill="#fff" stroke="#000" stroke-width="1.7"/>
<circle cx="326.8" cy="1018.6" r="3.20" fill="#fff" stroke="#000" stroke-width="1.7"/>
<circle cx="327.6" cy="1028.3" r="3.20" fill="#fff" stroke="#000" stroke-width="1.7"/>
<circle cx="321.2" cy="1027.4" r="3.20" fill="#fff" stroke="#000" stroke-width="1.7"/>
<circle cx="240.9" cy="1029.9" r="3.20" fill="#fff" stroke="#000" stroke-width="1.7"/>
<circle cx="251.3" cy="1029.9" r="3.20" fill="#fff" stroke="#000" stroke-width="1.7"/>
<circle cx="259.3" cy="1032.3" r="3.20" fill="#fff" stroke="#000" stroke-width="1.7"/>
<circle cx="267.4" cy="1032.3" r="3.20" fill="#fff" stroke="#000" stroke-width="1.7"/>
<circle cx="277.0" cy="1033.9" r="3.20" fill="#fff" stroke="#000" stroke-width="1.7"/>
<circle cx="244.1" cy="1034.7" r="3.20" fill="#fff" stroke="#000" stroke-width="1.7"/>
<circle cx="234.5" cy="1037.1" r="3.20" fill="#fff" stroke="#000" stroke-width="1.7"/>
<circle cx="236.1" cy="1040.3" r="3.20" fill="#fff" stroke="#000" stroke-width="1.7"/>
<circle cx="243.3" cy="1041.1" r="3.20" fill="#fff" stroke="#000" stroke-width="1.7"/>
<circle cx="250.5" cy="1041.9" r="3.20" fill="#fff" stroke="#000" stroke-width="1.7"/>
<circle cx="271.4" cy="1039.5" r="3.20" fill="#fff" stroke="#000" stroke-width="1.7"/>
<circle cx="261.8" cy="1043.5" r="3.20" fill="#fff" stroke="#000" stroke-width="1.7"/>
<circle cx="296.3" cy="1036.3" r="3.20" fill="#fff" stroke="#000" stroke-width="1.7"/>
<circle cx="304.3" cy="1029.9" r="3.20" fill="#fff" stroke="#000" stroke-width="1.7"/>
<circle cx="307.5" cy="1035.5" r="3.20" fill="#fff" stroke="#000" stroke-width="1.7"/>
<circle cx="312.3" cy="1041.1" r="3.20" fill="#fff" stroke="#000" stroke-width="1.7"/>
<circle cx="303.5" cy="1041.1" r="3.20" fill="#fff" stroke="#000" stroke-width="1.7"/>
<circle cx="286.6" cy="1046.7" r="3.20" fill="#fff" stroke="#000" stroke-width="1.7"/>
<circle cx="292.3" cy="1045.9" r="3.20" fill="#fff" stroke="#000" stroke-width="1.7"/>
<circle cx="277.8" cy="1045.9" r="3.20" fill="#fff" stroke="#000" stroke-width="1.7"/>
<circle cx="322.0" cy="1047.5" r="3.20" fill="#fff" stroke="#000" stroke-width="1.7"/>
<circle cx="325.2" cy="1048.3" r="3.20" fill="#fff" stroke="#000" stroke-width="1.7"/>
<circle cx="316.4" cy="1050.7" r="3.20" fill="#fff" stroke="#000" stroke-width="1.7"/>
<circle cx="313.1" cy="1058.0" r="3.20" fill="#fff" stroke="#000" stroke-width="1.7"/>
<circle cx="239.3" cy="1052.3" r="3.20" fill="#fff" stroke="#000" stroke-width="1.7"/>
<circle cx="247.3" cy="1051.2" r="3.20" fill="#fff" stroke="#000" stroke-width="1.7"/>
<circle cx="261.8" cy="1050.7" r="3.20" fill="#fff" stroke="#000" stroke-width="1.7"/>
<circle cx="268.2" cy="1052.8" r="3.20" fill="#fff" stroke="#000" stroke-width="1.7"/>
<circle cx="251.3" cy="1056.4" r="3.20" fill="#fff" stroke="#000" stroke-width="1.7"/>
<circle cx="252.9" cy="1061.5" r="3.20" fill="#fff" stroke="#000" stroke-width="1.7"/>
<circle cx="261.8" cy="1058.8" r="3.20" fill="#fff" stroke="#000" stroke-width="1.7"/>
<circle cx="237.7" cy="1060.4" r="3.20" fill="#fff" stroke="#000" stroke-width="1.7"/>
<circle cx="236.9" cy="1066.8" r="3.20" fill="#fff" stroke="#000" stroke-width="1.7"/>
<circle cx="269.8" cy="1064.4" r="3.20" fill="#fff" stroke="#000" stroke-width="1.7"/>
<circle cx="283.4" cy="1069.2" r="3.20" fill="#fff" stroke="#000" stroke-width="1.7"/>
<circle cx="285.0" cy="1074.3" r="3.20" fill="#fff" stroke="#000" stroke-width="1.7"/>
<circle cx="244.1" cy="1070.5" r="3.20" fill="#fff" stroke="#000" stroke-width="1.7"/>
<circle cx="252.1" cy="1070.8" r="3.20" fill="#fff" stroke="#000" stroke-width="1.7"/>
<circle cx="259.3" cy="1072.4" r="3.20" fill="#fff" stroke="#000" stroke-width="1.7"/>
<circle cx="262.6" cy="1083.7" r="3.20" fill="#fff" stroke="#000" stroke-width="1.7"/>
<circle cx="251.3" cy="1082.0" r="3.20" fill="#fff" stroke="#000" stroke-width="1.7"/>
<circle cx="235.3" cy="1080.4" r="3.20" fill="#fff" stroke="#000" stroke-width="1.7"/>
<circle cx="233.7" cy="1090.1" r="3.20" fill="#fff" stroke="#000" stroke-width="1.7"/>
<circle cx="240.1" cy="1090.9" r="3.20" fill="#fff" stroke="#000" stroke-width="1.7"/>
<circle cx="242.5" cy="1096.5" r="3.20" fill="#fff" stroke="#000" stroke-width="1.7"/>
<circle cx="252.9" cy="1091.4" r="3.20" fill="#fff" stroke="#000" stroke-width="1.7"/>
<circle cx="259.3" cy="1090.1" r="3.20" fill="#fff" stroke="#000" stroke-width="1.7"/>
<circle cx="269.8" cy="1091.4" r="3.20" fill="#fff" stroke="#000" stroke-width="1.7"/>
<circle cx="309.9" cy="1079.6" r="3.20" fill="#fff" stroke="#000" stroke-width="1.7"/>
<circle cx="320.9" cy="1082.9" r="3.20" fill="#fff" stroke="#000" stroke-width="1.7"/>
<circle cx="326.0" cy="1078.8" r="3.20" fill="#fff" stroke="#000" stroke-width="1.7"/>
<circle cx="287.4" cy="1087.7" r="3.20" fill="#fff" stroke="#000" stroke-width="1.7"/>
<circle cx="293.1" cy="1087.7" r="3.20" fill="#fff" stroke="#000" stroke-width="1.7"/>
<circle cx="301.1" cy="1090.9" r="3.20" fill="#fff" stroke="#000" stroke-width="1.7"/>
<circle cx="305.1" cy="1092.5" r="3.20" fill="#fff" stroke="#000" stroke-width="1.7"/>
<circle cx="309.1" cy="1093.3" r="3.20" fill="#fff" stroke="#000" stroke-width="1.7"/>
<circle cx="301.9" cy="1097.3" r="3.20" fill="#fff" stroke="#000" stroke-width="1.7"/>
<circle cx="286.6" cy="1097.8" r="3.20" fill="#fff" stroke="#000" stroke-width="1.7"/>
<circle cx="276.5" cy="1101.0" r="3.20" fill="#fff" stroke="#000" stroke-width="1.7"/>
<circle cx="256.9" cy="1100.0" r="3.20" fill="#fff" stroke="#000" stroke-width="1.7"/>
<circle cx="236.9" cy="1102.1" r="3.20" fill="#fff" stroke="#000" stroke-width="1.7"/>
<circle cx="328.2" cy="943.8" r="3.20" fill="#fff" stroke="#000" stroke-width="1.7"/>
<circle cx="332.3" cy="957.9" r="3.20" fill="#fff" stroke="#000" stroke-width="1.7"/>
<circle cx="409.4" cy="941.4" r="3.20" fill="#fff" stroke="#000" stroke-width="1.7"/>
<circle cx="390.4" cy="957.1" r="3.20" fill="#fff" stroke="#000" stroke-width="1.7"/>
<circle cx="382.3" cy="964.1" r="3.20" fill="#fff" stroke="#000" stroke-width="1.7"/>
<circle cx="372.4" cy="967.0" r="3.20" fill="#fff" stroke="#000" stroke-width="1.7"/>
<circle cx="353.9" cy="978.7" r="3.20" fill="#fff" stroke="#000" stroke-width="1.7"/>
<circle cx="395.2" cy="980.6" r="3.20" fill="#fff" stroke="#000" stroke-width="1.7"/>
<circle cx="378.5" cy="989.2" r="3.20" fill="#fff" stroke="#000" stroke-width="1.7"/>
<circle cx="350.1" cy="988.7" r="3.20" fill="#fff" stroke="#000" stroke-width="1.7"/>
<circle cx="346.9" cy="992.8" r="3.20" fill="#fff" stroke="#000" stroke-width="1.7"/>
<circle cx="342.0" cy="997.3" r="3.20" fill="#fff" stroke="#000" stroke-width="1.7"/>
<circle cx="338.0" cy="1000.1" r="3.20" fill="#fff" stroke="#000" stroke-width="1.7"/>
<circle cx="350.1" cy="1000.1" r="3.20" fill="#fff" stroke="#000" stroke-width="1.7"/>
<circle cx="373.3" cy="996.5" r="3.20" fill="#fff" stroke="#000" stroke-width="1.7"/>
<circle cx="335.5" cy="1005.4" r="3.20" fill="#fff" stroke="#000" stroke-width="1.7"/>
<circle cx="338.0" cy="1013.5" r="3.20" fill="#fff" stroke="#000" stroke-width="1.7"/>
<circle cx="329.9" cy="1031.4" r="3.20" fill="#fff" stroke="#000" stroke-width="1.7"/>
<circle cx="415.5" cy="1005.0" r="3.20" fill="#fff" stroke="#000" stroke-width="1.7"/>
<circle cx="393.1" cy="1024.9" r="3.20" fill="#fff" stroke="#000" stroke-width="1.7"/>
<circle cx="370.1" cy="1029.8" r="3.20" fill="#fff" stroke="#000" stroke-width="1.7"/>
<circle cx="369.6" cy="1033.5" r="3.20" fill="#fff" stroke="#000" stroke-width="1.7"/>
<circle cx="350.1" cy="1047.3" r="3.20" fill="#fff" stroke="#000" stroke-width="1.7"/>
<circle cx="351.4" cy="1061.9" r="3.20" fill="#fff" stroke="#000" stroke-width="1.7"/>
<circle cx="332.3" cy="1067.1" r="3.20" fill="#fff" stroke="#000" stroke-width="1.7"/>
<circle cx="385.0" cy="1058.2" r="3.20" fill="#fff" stroke="#000" stroke-width="1.7"/>
<circle cx="387.5" cy="1059.8" r="3.20" fill="#fff" stroke="#000" stroke-width="1.7"/>
<circle cx="346.9" cy="1074.1" r="3.20" fill="#fff" stroke="#000" stroke-width="1.7"/>
<circle cx="357.4" cy="1084.4" r="3.20" fill="#fff" stroke="#000" stroke-width="1.7"/>
<circle cx="385.0" cy="1093.0" r="3.20" fill="#fff" stroke="#000" stroke-width="1.7"/>
<circle cx="361.5" cy="1099.5" r="3.20" fill="#fff" stroke="#000" stroke-width="1.7"/>
<line x1="222.8" y1="933.1" x2="222.8" y2="1111.7" stroke="#000" stroke-width="1.6"/>
<line x1="222.0" y1="1110.9" x2="431.6" y2="1110.9" stroke="#000" stroke-width="1.6"/>
<line x1="222.8" y1="1110.9" x2="222.8" y2="1113.7" stroke="#000" stroke-width="1.4"/>
<text x="222.8" y="1120.9" font-size="5.5" text-anchor="middle" fill="#444">0.0</text>
<line x1="257.6" y1="1110.9" x2="257.6" y2="1113.7" stroke="#000" stroke-width="1.4"/>
<text x="257.6" y="1120.9" font-size="5.5" text-anchor="middle" fill="#444">0.5</text>
<line x1="292.4" y1="1110.9" x2="292.4" y2="1113.7" stroke="#000" stroke-width="1.4"/>
<text x="292.4" y="1120.9" font-size="5.5" text-anchor="middle" fill="#444">1.0</text>
<line x1="327.2" y1="1110.9" x2="327.2" y2="1113.7" stroke="#000" stroke-width="1.4"/>
<text x="327.2" y="1120.9" font-size="5.5" text-anchor="middle" fill="#444">1.5</text>
<line x1="362.0" y1="1110.9" x2="362.0" y2="1113.7" stroke="#000" stroke-width="1.4"/>
<text x="362.0" y="1120.9" font-size="5.5" text-anchor="middle" fill="#444">2.0</text>
<line x1="396.8" y1="1110.9" x2="396.8" y2="1113.7" stroke="#000" stroke-width="1.4"/>
<text x="396.8" y="1120.9" font-size="5.5" text-anchor="middle" fill="#444">2.5</text>
<line x1="431.6" y1="1110.9" x2="431.6" y2="1113.7" stroke="#000" stroke-width="1.4"/>
<text x="431.6" y="1120.9" font-size="5.5" text-anchor="middle" fill="#444">3.0</text>
<line x1="220.0" y1="1110.9" x2="222.8" y2="1110.9" stroke="#000" stroke-width="1.4"/>
<text x="217.8" y="1112.7" font-size="5.5" text-anchor="end" fill="#444">0.0</text>
<line x1="220.0" y1="1075.3000000000002" x2="222.8" y2="1075.3000000000002" stroke="#000" stroke-width="1.4"/>
<text x="217.8" y="1077.1000000000001" font-size="5.5" text-anchor="end" fill="#444">0.5</text>
<line x1="220.0" y1="1039.7" x2="222.8" y2="1039.7" stroke="#000" stroke-width="1.4"/>
<text x="217.8" y="1041.5" font-size="5.5" text-anchor="end" fill="#444">1.0</text>
<line x1="220.0" y1="1004.1000000000001" x2="222.8" y2="1004.1000000000001" stroke="#000" stroke-width="1.4"/>
<text x="217.8" y="1005.9000000000001" font-size="5.5" text-anchor="end" fill="#444">1.5</text>
<line x1="220.0" y1="968.5000000000001" x2="222.8" y2="968.5000000000001" stroke="#000" stroke-width="1.4"/>
<text x="217.8" y="970.3000000000001" font-size="5.5" text-anchor="end" fill="#444">2.0</text>
<line x1="220.0" y1="932.9000000000001" x2="222.8" y2="932.9000000000001" stroke="#000" stroke-width="1.4"/>
<text x="217.8" y="934.7" font-size="5.5" text-anchor="end" fill="#444">2.5</text>
<rect x="222.8" y="933.1" width="86.19999999999999" height="29.199999999999932" fill="#fff" stroke="#000" stroke-width="1.6"/>
<circle cx="237.4" cy="942.3" r="4.00" fill="#000"/>
<circle cx="237.4" cy="953.2" r="4.00" fill="#fff" stroke="#000" stroke-width="1.7"/>
<text x="253.1" y="945.7199999999999" font-size="9.5" text-anchor="start">Control</text>
<text x="253.1" y="956.62" font-size="9.5" text-anchor="start" font-style="italic">met-2(RNAi)</text>
<text x="265.9" y="1136.4" font-size="14" text-anchor="start">Allele 1 Signal</text>
<text x="204.6" y="1067" font-size="14" text-anchor="start" transform="rotate(-90 204.6 1067)">Allele 2 Signal</text>
<line x1="447.9" y1="199.4" x2="450.5" y2="199.4" stroke="#000" stroke-width="1.4"/>
<text x="445.3" y="201.0" font-size="4.5" text-anchor="end" fill="#444">0.0</text>
<line x1="447.9" y1="178.5" x2="450.5" y2="178.5" stroke="#000" stroke-width="1.4"/>
<text x="445.3" y="180.1" font-size="4.5" text-anchor="end" fill="#444">0.2</text>
<line x1="447.9" y1="157.6" x2="450.5" y2="157.6" stroke="#000" stroke-width="1.4"/>
<text x="445.3" y="159.2" font-size="4.5" text-anchor="end" fill="#444">0.4</text>
<line x1="447.9" y1="136.70000000000002" x2="450.5" y2="136.70000000000002" stroke="#000" stroke-width="1.4"/>
<text x="445.3" y="138.3" font-size="4.5" text-anchor="end" fill="#444">0.6</text>
<line x1="447.9" y1="115.8" x2="450.5" y2="115.8" stroke="#000" stroke-width="1.4"/>
<text x="445.3" y="117.39999999999999" font-size="4.5" text-anchor="end" fill="#444">0.8</text>
<line x1="447.9" y1="94.9" x2="450.5" y2="94.9" stroke="#000" stroke-width="1.4"/>
<text x="445.3" y="96.5" font-size="4.5" text-anchor="end" fill="#444">1.0</text>
<line x1="447.9" y1="74.00000000000001" x2="450.5" y2="74.00000000000001" stroke="#000" stroke-width="1.4"/>
<text x="445.3" y="75.60000000000001" font-size="4.5" text-anchor="end" fill="#444">1.2</text>
<line x1="447.9" y1="53.10000000000002" x2="450.5" y2="53.10000000000002" stroke="#000" stroke-width="1.4"/>
<text x="445.3" y="54.700000000000024" font-size="4.5" text-anchor="end" fill="#444">1.4</text>
<rect x="478.4" y="198.35500000000002" width="58.80000000000007" height="1.045" fill="#c0c0c0" stroke="#000" stroke-width="1.6"/>
<line x1="478.4" y1="198.8775" x2="537.2" y2="198.8775" stroke="#000" stroke-width="1.6"/>
<circle cx="507.8" cy="196.26500000000001" r="2.3" fill="#000"/>
<circle cx="507.8" cy="199.4" r="2.3" fill="#000"/>
<line x1="603.15" y1="150.28500000000003" x2="603.15" y2="99.6025" stroke="#000" stroke-width="1.6"/>
<line x1="597.35" y1="99.6025" x2="608.9499999999999" y2="99.6025" stroke="#000" stroke-width="1.6"/>
<rect x="574.5" y="150.28500000000003" width="57.299999999999955" height="45.66649999999999" fill="#c0c0c0" stroke="#000" stroke-width="1.6"/>
<line x1="574.5" y1="179.64950000000002" x2="631.8" y2="179.64950000000002" stroke="#000" stroke-width="1.6"/>
<circle cx="603.15" cy="57.28" r="2.3" fill="#000"/>
<circle cx="603.15" cy="199.4" r="2.3" fill="#000"/>
<line x1="450.5" y1="52" x2="450.5" y2="200.20000000000002" stroke="#000" stroke-width="1.6"/>
<line x1="449.7" y1="199.4" x2="661" y2="199.4" stroke="#000" stroke-width="1.6"/>
<path d="M536.10,51.20H548.90M539.00,45.20L546.00,57.20M546.00,45.20L539.00,57.20" stroke="#000" stroke-width="2.1" fill="none"/>
<path d="M551.90,51.20H564.70M554.80,45.20L561.80,57.20M561.80,45.20L554.80,57.20" stroke="#000" stroke-width="2.1" fill="none"/>
<path d="M567.50,51.20H580.30M570.40,45.20L577.40,57.20M577.40,45.20L570.40,57.20" stroke="#000" stroke-width="2.1" fill="none"/>
<text x="506.7" y="216.2" font-size="14" text-anchor="middle">Control</text>
<text x="602.75" y="216.2" font-size="14" text-anchor="middle" font-style="italic">met-2(null)</text>
<text x="431.3" y="180" font-size="14" text-anchor="start" transform="rotate(-90 431.3 180)">Intrinsic Noise Value</text>
<line x1="459.2" y1="493.7" x2="461.8" y2="493.7" stroke="#000" stroke-width="1.4"/>
<text x="456.6" y="495.3" font-size="4.5" text-anchor="end" fill="#444">0.0</text>
<line x1="459.2" y1="457.05" x2="461.8" y2="457.05" stroke="#000" stroke-width="1.4"/>
<text x="456.6" y="458.65000000000003" font-size="4.5" text-anchor="end" fill="#444">0.5</text>
<line x1="459.2" y1="420.4" x2="461.8" y2="420.4" stroke="#000" stroke-width="1.4"/>
<text x="456.6" y="422.0" font-size="4.5" text-anchor="end" fill="#444">1.0</text>
<line x1="459.2" y1="383.75" x2="461.8" y2="383.75" stroke="#000" stroke-width="1.4"/>
<text x="456.6" y="385.35" font-size="4.5" text-anchor="end" fill="#444">1.5</text>
<line x1="459.2" y1="347.1" x2="461.8" y2="347.1" stroke="#000" stroke-width="1.4"/>
<text x="456.6" y="348.70000000000005" font-size="4.5" text-anchor="end" fill="#444">2.0</text>
<line x1="519.6" y1="489.3753" x2="519.6" y2="481.67879999999997" stroke="#000" stroke-width="1.6"/>
<line x1="514.8000000000001" y1="481.67879999999997" x2="524.4" y2="481.67879999999997" stroke="#000" stroke-width="1.6"/>
<rect x="490.8" y="489.3753" width="57.599999999999966" height="3.9581999999999997" fill="#c0c0c0" stroke="#000" stroke-width="1.6"/>
<line x1="490.8" y1="491.501" x2="548.4" y2="491.501" stroke="#000" stroke-width="1.6"/>
<circle cx="519.6" cy="475.375" r="2.3" fill="#000"/>
<circle cx="519.6" cy="493.7" r="2.3" fill="#000"/>
<line x1="614.95" y1="453.53159999999997" x2="614.95" y2="401.1954" stroke="#000" stroke-width="1.6"/>
<line x1="609.5500000000001" y1="401.1954" x2="620.35" y2="401.1954" stroke="#000" stroke-width="1.6"/>
<rect x="586.3" y="453.53159999999997" width="57.30000000000007" height="35.843700000000005" fill="#c0c0c0" stroke="#000" stroke-width="1.6"/>
<line x1="586.3" y1="479.77299999999997" x2="643.6" y2="479.77299999999997" stroke="#000" stroke-width="1.6"/>
<circle cx="614.95" cy="350.765" r="2.3" fill="#000"/>
<circle cx="614.95" cy="493.7" r="2.3" fill="#000"/>
<line x1="461.8" y1="347" x2="461.8" y2="494.5" stroke="#000" stroke-width="1.6"/>
<line x1="461.0" y1="493.7" x2="673.4" y2="493.7" stroke="#000" stroke-width="1.6"/>
<path d="M539.20,349.00H552.00M542.10,343.00L549.10,355.00M549.10,343.00L542.10,355.00" stroke="#000" stroke-width="2.1" fill="none"/>
<path d="M554.90,349.00H567.70M557.80,343.00L564.80,355.00M564.80,343.00L557.80,355.00" stroke="#000" stroke-width="2.1" fill="none"/>
<path d="M570.50,349.00H583.30M573.40,343.00L580.40,355.00M580.40,343.00L573.40,355.00" stroke="#000" stroke-width="2.1" fill="none"/>
<text x="518.5" y="508.4" font-size="14" text-anchor="middle">Control</text>
<text x="617.7" y="508.4" font-size="14" text-anchor="middle" font-style="italic">met-2(RNAi)</text>
<text x="447" y="481.7" font-size="14" text-anchor="start" transform="rotate(-90 447 481.7)">Intrinsic Noise Value</text>
<line x1="457.2" y1="788.3" x2="459.8" y2="788.3" stroke="#000" stroke-width="1.4"/>
<text x="454.6" y="789.9" font-size="4.5" text-anchor="end" fill="#444">0.0</text>
<line x1="457.2" y1="761.5999999999999" x2="459.8" y2="761.5999999999999" stroke="#000" stroke-width="1.4"/>
<text x="454.6" y="763.1999999999999" font-size="4.5" text-anchor="end" fill="#444">0.2</text>
<line x1="457.2" y1="734.9" x2="459.8" y2="734.9" stroke="#000" stroke-width="1.4"/>
<text x="454.6" y="736.5" font-size="4.5" text-anchor="end" fill="#444">0.4</text>
<line x1="457.2" y1="708.1999999999999" x2="459.8" y2="708.1999999999999" stroke="#000" stroke-width="1.4"/>
<text x="454.6" y="709.8" font-size="4.5" text-anchor="end" fill="#444">0.6</text>
<line x1="457.2" y1="681.5" x2="459.8" y2="681.5" stroke="#000" stroke-width="1.4"/>
<text x="454.6" y="683.1" font-size="4.5" text-anchor="end" fill="#444">0.8</text>
<line x1="457.2" y1="654.8" x2="459.8" y2="654.8" stroke="#000" stroke-width="1.4"/>
<text x="454.6" y="656.4" font-size="4.5" text-anchor="end" fill="#444">1.0</text>
<rect x="488.9" y="787.4989999999999" width="57.60000000000002" height="0.801" fill="#c0c0c0" stroke="#000" stroke-width="1.6"/>
<line x1="488.9" y1="787.8995" x2="546.5" y2="787.8995" stroke="#000" stroke-width="1.6"/>
<circle cx="517.7" cy="786.2974999999999" r="2.3" fill="#000"/>
<circle cx="517.7" cy="788.3" r="2.3" fill="#000"/>
<line x1="612.45" y1="741.5749999999999" x2="612.45" y2="698.9884999999999" stroke="#000" stroke-width="1.6"/>
<line x1="607.4000000000001" y1="698.9884999999999" x2="617.5" y2="698.9884999999999" stroke="#000" stroke-width="1.6"/>
<rect x="583.6" y="741.5749999999999" width="57.69999999999993" height="44.855999999999995" fill="#c0c0c0" stroke="#000" stroke-width="1.6"/>
<line x1="583.6" y1="775.217" x2="641.3" y2="775.217" stroke="#000" stroke-width="1.6"/>
<circle cx="612.45" cy="653.4649999999999" r="2.3" fill="#000"/>
<circle cx="612.45" cy="788.3" r="2.3" fill="#000"/>
<line x1="459.8" y1="641" x2="459.8" y2="789.0999999999999" stroke="#000" stroke-width="1.6"/>
<line x1="459.0" y1="788.3" x2="670.7" y2="788.3" stroke="#000" stroke-width="1.6"/>
<path d="M543.60,640.30H556.40M546.50,634.30L553.50,646.30M553.50,634.30L546.50,646.30" stroke="#000" stroke-width="2.1" fill="none"/>
<path d="M558.90,640.30H571.70M561.80,634.30L568.80,646.30M568.80,634.30L561.80,646.30" stroke="#000" stroke-width="2.1" fill="none"/>
<path d="M574.20,640.30H587.00M577.10,634.30L584.10,646.30M584.10,634.30L577.10,646.30" stroke="#000" stroke-width="2.1" fill="none"/>
<text x="511.8" y="804.2" font-size="14" text-anchor="middle">Control</text>
<text x="614.6" y="804.2" font-size="14" text-anchor="middle" font-style="italic">met-2(null)</text>
<text x="442.4" y="779.4" font-size="14" text-anchor="start" transform="rotate(-90 442.4 779.4)">Intrinsic Noise Value</text>
<line x1="461.09999999999997" y1="1110.8" x2="463.7" y2="1110.8" stroke="#000" stroke-width="1.4"/>
<text x="458.5" y="1112.3999999999999" font-size="4.5" text-anchor="end" fill="#444">0.0</text>
<line x1="461.09999999999997" y1="1081.6" x2="463.7" y2="1081.6" stroke="#000" stroke-width="1.4"/>
<text x="458.5" y="1083.1999999999998" font-size="4.5" text-anchor="end" fill="#444">0.2</text>
<line x1="461.09999999999997" y1="1052.3999999999999" x2="463.7" y2="1052.3999999999999" stroke="#000" stroke-width="1.4"/>
<text x="458.5" y="1053.9999999999998" font-size="4.5" text-anchor="end" fill="#444">0.4</text>
<line x1="461.09999999999997" y1="1023.1999999999999" x2="463.7" y2="1023.1999999999999" stroke="#000" stroke-width="1.4"/>
<text x="458.5" y="1024.8" font-size="4.5" text-anchor="end" fill="#444">0.6</text>
<line x1="461.09999999999997" y1="994.0" x2="463.7" y2="994.0" stroke="#000" stroke-width="1.4"/>
<text x="458.5" y="995.6" font-size="4.5" text-anchor="end" fill="#444">0.8</text>
<line x1="461.09999999999997" y1="964.8" x2="463.7" y2="964.8" stroke="#000" stroke-width="1.4"/>
<text x="458.5" y="966.4" font-size="4.5" text-anchor="end" fill="#444">1.0</text>
<line x1="521.15" y1="1099.9959999999999" x2="521.15" y2="1087.586" stroke="#000" stroke-width="1.6"/>
<line x1="516.6999999999999" y1="1087.586" x2="525.6" y2="1087.586" stroke="#000" stroke-width="1.6"/>
<rect x="492.7" y="1099.9959999999999" width="56.900000000000034" height="9.344" fill="#c0c0c0" stroke="#000" stroke-width="1.6"/>
<line x1="492.7" y1="1107.734" x2="549.6" y2="1107.734" stroke="#000" stroke-width="1.6"/>
<circle cx="521.15" cy="1072.11" r="2.3" fill="#000"/>
<circle cx="521.15" cy="1110.8" r="2.3" fill="#000"/>
<line x1="616.3" y1="1058.6779999999999" x2="616.3" y2="1016.338" stroke="#000" stroke-width="1.6"/>
<line x1="611.8499999999999" y1="1016.338" x2="620.75" y2="1016.338" stroke="#000" stroke-width="1.6"/>
<rect x="587.5" y="1058.6779999999999" width="57.60000000000002" height="50.224" fill="#c0c0c0" stroke="#000" stroke-width="1.6"/>
<line x1="587.5" y1="1099.9959999999999" x2="645.1" y2="1099.9959999999999" stroke="#000" stroke-width="1.6"/>
<circle cx="616.3" cy="968.596" r="2.3" fill="#000"/>
<circle cx="616.3" cy="1110.8" r="2.3" fill="#000"/>
<line x1="463.7" y1="964.6" x2="463.7" y2="1111.6" stroke="#000" stroke-width="1.6"/>
<line x1="462.9" y1="1110.8" x2="673.4" y2="1110.8" stroke="#000" stroke-width="1.6"/>
<path d="M540.20,963.30H553.00M543.10,957.30L550.10,969.30M550.10,957.30L543.10,969.30" stroke="#000" stroke-width="2.1" fill="none"/>
<path d="M555.70,963.30H568.50M558.60,957.30L565.60,969.30M565.60,957.30L558.60,969.30" stroke="#000" stroke-width="2.1" fill="none"/>
<path d="M571.20,963.30H584.00M574.10,957.30L581.10,969.30M581.10,957.30L574.10,969.30" stroke="#000" stroke-width="2.1" fill="none"/>
<text x="518.5" y="1125.5" font-size="14" text-anchor="middle">Control</text>
<text x="614.4" y="1125.5" font-size="14" text-anchor="middle" font-style="italic">met-2(RNAi)</text>
<text x="444.3" y="1098.1" font-size="14" text-anchor="start" transform="rotate(-90 444.3 1098.1)">Intrinsic Noise Value</text>
</svg>
</body></html>
